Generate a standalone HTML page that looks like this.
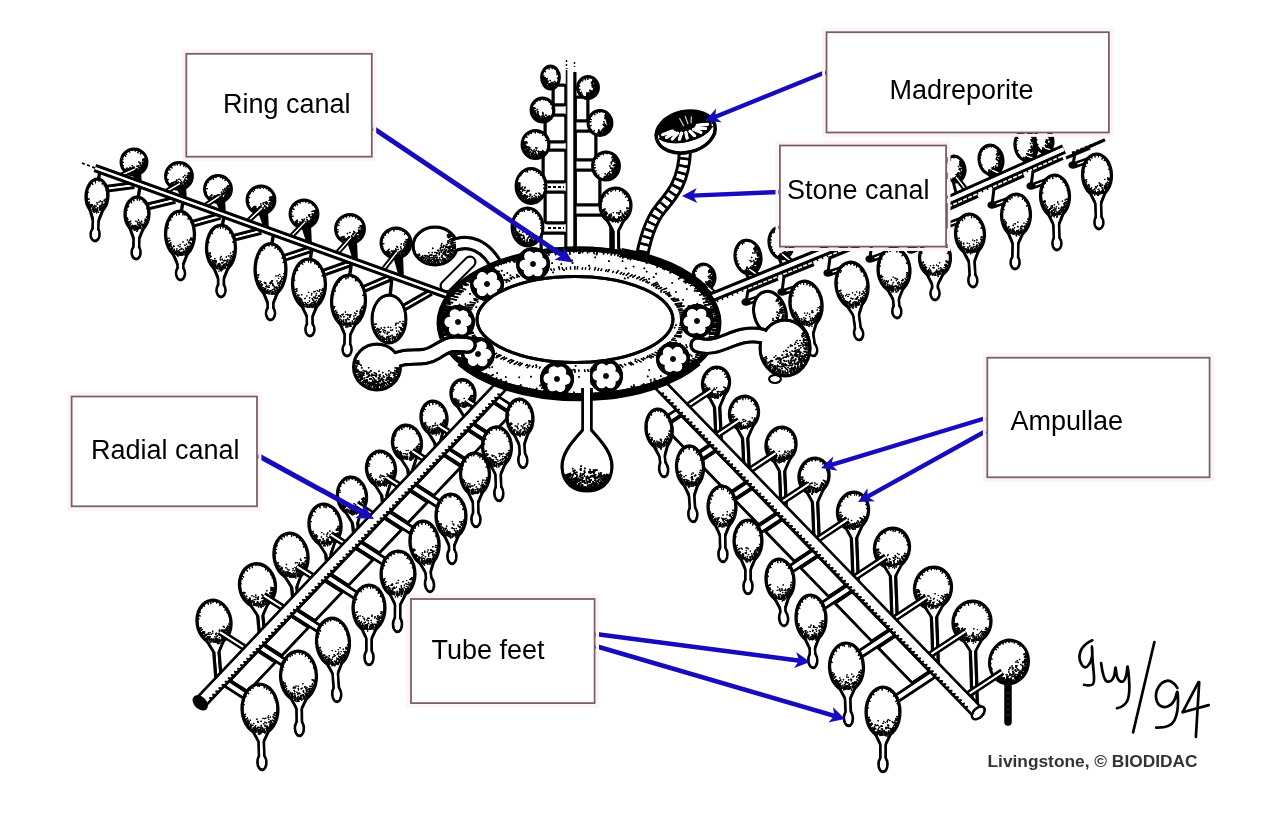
<!DOCTYPE html>
<html><head><meta charset="utf-8"><title>Water vascular system</title>
<style>
html,body{margin:0;padding:0;background:#fff;}
body{width:1270px;height:826px;overflow:hidden;font-family:"Liberation Sans",sans-serif;}
svg{display:block;font-family:"Liberation Sans",sans-serif;}
</style></head><body>
<svg width="1270" height="826" viewBox="0 0 1270 826">
<rect width="1270" height="826" fill="#fff"/>
<defs><filter id="soft" x="0" y="0" width="100%" height="100%" filterUnits="userSpaceOnUse" color-interpolation-filters="sRGB"><feGaussianBlur stdDeviation="0.75"/><feComponentTransfer><feFuncR type="gamma" exponent="1.9"/><feFuncG type="gamma" exponent="1.9"/><feFuncB type="gamma" exponent="1.9"/></feComponentTransfer></filter></defs>
<g id="art" filter="url(#soft)">
<rect x="553" y="85" width="13" height="20" rx="2.5" fill="#fff" stroke="#000" stroke-width="3"/>
<rect x="545" y="115" width="21" height="27" rx="2.5" fill="#fff" stroke="#000" stroke-width="3"/>
<rect x="543" y="150" width="23" height="32" rx="2.5" fill="#fff" stroke="#000" stroke-width="3"/>
<rect x="545" y="192" width="21" height="31" rx="2.5" fill="#fff" stroke="#000" stroke-width="3"/>
<rect x="541" y="233" width="25" height="21" rx="2.5" fill="#fff" stroke="#000" stroke-width="3"/>
<rect x="575" y="97" width="13" height="24" rx="2.5" fill="#fff" stroke="#000" stroke-width="3"/>
<rect x="575" y="131" width="21" height="29" rx="2.5" fill="#fff" stroke="#000" stroke-width="3"/>
<rect x="575" y="170" width="25" height="35" rx="2.5" fill="#fff" stroke="#000" stroke-width="3"/>
<rect x="575" y="215" width="36" height="37" rx="2.5" fill="#fff" stroke="#000" stroke-width="3"/>
<path d="M548 187h16M548 228h16" stroke="#000" stroke-width="2" stroke-dasharray="3 2"/>
<ellipse cx="550.5" cy="77.5" rx="9" ry="11.5" fill="#fff" stroke="#000" stroke-width="2.9"/>
<path d="M544.5 78.2h.1M549.4 83.7h.1M546.6 79.9h.1M547.8 83.5h.1M546.4 80.9h.1M547.7 83.1h.1M546.9 78.9h.1M547.9 81.2h.1M554.4 84.6h.1M545.8 82.7h.1M555.4 83.3h.1M547.1 81.2h.1M549.8 85.8h.1M552.2 85.1h.1M550.2 80.4h.1M544.7 80.6h.1M546 83h.1M549.6 84.6h.1M547.4 82.7h.1M551.4 82.4h.1M553.3 84.7h.1M547.1 78.6h.1M552.9 82.9h.1" stroke="#000" stroke-width="1.5" stroke-linecap="round" fill="none"/>
<path d="M557.3 84.2L554.2 81.1M556.1 85.8L554.6 83.5M554.9 86.9L552.5 81.9M554.2 87.4L552.2 82.2M552.8 88.1L551.9 84M551.1 88.5L550.8 83.1M550.4 88.5L550.4 84.5M548.8 88.3L549.4 84.7M547.8 87.9L548.7 84.5M546.2 87L547.2 84.8M545.2 86.1L547.2 83M544.5 85.4L546.5 82.7M543.4 83.6L546.2 81.2M543 82.6L547 79.8M542.3 80.3L546.7 78.8M542.1 79.3L544.7 78.8M542 77.7L546 77.6M542.1 75.8L544.4 76.2" stroke="#000" stroke-width="1.3" fill="none"/>
<path d="M544.1 70.2L545.8 72.1M547.1 67.4L547.6 69M548.8 66.7L549.2 69.5M552.5 66.8L552 69.2M554.4 67.8L554 69M557.4 71.2L556.2 72.3M558.3 73.3L556.3 74.4M559 78.3L556.9 78.1" stroke="#000" stroke-width="1.1" fill="none"/>
<ellipse cx="542.5" cy="110" rx="11.5" ry="12" fill="#fff" stroke="#000" stroke-width="2.9"/>
<path d="M542 118.7h.1M539.5 116.6h.1M543.1 115h.1M546.6 117.6h.1M535.8 114.5h.1M542.6 116.7h.1M538 114.6h.1M546 115.3h.1M537.8 114.9h.1M541.7 116.4h.1M545 118.3h.1M537.9 113.1h.1M537.9 111.4h.1M542.6 112.6h.1M546.5 117.9h.1M540.4 118.5h.1M542.9 113.6h.1M537.8 112.7h.1M545.2 117.7h.1M537.9 113.3h.1M536.8 115.9h.1M538.9 116.4h.1M537.2 115.2h.1M534.1 107.9h.1M533.6 108.2h.1M547.2 118h.1M537.4 109.5h.1M536.5 116.1h.1M536.7 115.1h.1M545.8 115h.1" stroke="#000" stroke-width="1.5" stroke-linecap="round" fill="none"/>
<path d="M551 117.3L548.8 115.5M549.9 118.5L547.6 115.9M548.9 119.4L546.8 116.3M547.5 120.2L546.1 117.4M546.6 120.7L545.4 117.6M545.3 121.1L543.9 115.7M543.5 121.5L543.2 117.8M542.2 121.5L542.3 115.5M540.6 121.3L541.2 118.1M538.9 120.9L540.4 116.4M537.5 120.2L538.7 117.7M536.6 119.7L539.3 115.2M535.2 118.6L538.8 114.3M534.6 118L537 115.6M533.6 116.8L536.1 114.9M532.5 114.8L536.5 112.9M532 113.4L535.5 112.3M531.7 112L535.5 111.3M531.5 111L536.5 110.6M531.6 108.9L534.3 109.2M531.7 107.7L536.1 108.6" stroke="#000" stroke-width="1.3" fill="none"/>
<path d="M533.9 102.8L535.3 104M536.3 100.5L537.2 101.8M539.6 98.9L540.2 101.1M543.8 98.6L543.6 100.2M545.9 99.1L545.3 100.8M550 101.5L548.9 102.7M551.7 103.7L550.4 104.5M553.3 107.9L551.2 108.3M553.5 109.9L552.1 109.9" stroke="#000" stroke-width="1.1" fill="none"/>
<ellipse cx="535.5" cy="144.5" rx="13.5" ry="14" fill="#fff" stroke="#000" stroke-width="2.9"/>
<path d="M533.6 153.2h.1M533.3 153.7h.1M536.7 147.9h.1M526 147.4h.1M536 154.7h.1M535.3 151.8h.1M532.9 154.2h.1M535.3 155.5h.1M527.8 151.4h.1M530.3 152.1h.1M535.6 154.6h.1M529.8 147.8h.1M527.4 147.3h.1M535.8 154h.1M538.7 153.4h.1M525 145.3h.1M536.7 155.1h.1M528.6 147.1h.1M531.7 150.5h.1M531.5 153.6h.1M534.1 149.9h.1M525.5 146.7h.1M542.8 152.2h.1M535.6 152.9h.1M528.6 150.8h.1M540 151.4h.1M530.9 149.4h.1M526.3 141.7h.1M533.2 151.5h.1M527.3 147h.1M541 154.3h.1M529.3 149.8h.1M533.7 151.3h.1M539.5 154.8h.1M535.3 155.9h.1M535.8 147.8h.1M528.8 148.9h.1M541.9 151.9h.1M538.7 152.1h.1M532.2 152.9h.1M538 151.3h.1M536.2 150.3h.1" stroke="#000" stroke-width="1.5" stroke-linecap="round" fill="none"/>
<path d="M545.4 153.2L542.2 150.3M544.8 153.9L542.5 151.6M543.8 154.9L541.2 151.7M542.6 155.8L540.4 152.3M541.2 156.6L539.4 152.8M539.5 157.3L538.2 153.2M537.8 157.8L537.3 155.3M536.3 158L536 153.8M535 158L535.2 153.2M533.3 157.8L533.9 154M532.2 157.5L533.6 151.9M531 157.2L532.6 152.7M529.2 156.3L530.4 154M527.9 155.5L530.7 151.5M526.5 154.3L529 151.6M525.5 153.1L528.7 150.4M524.8 152.2L529.3 149M524.2 151.2L528.4 148.7M523.4 149.3L526.7 148M522.8 147.6L526.4 146.7M522.6 146.4L526.8 145.8M522.5 144.6L525.6 144.6M522.5 143.3L526.4 143.7M522.8 141.7L527.9 142.8" stroke="#000" stroke-width="1.3" fill="none"/>
<path d="M525.4 136L527.4 137.7M528 133.5L529.2 135.2M530.6 132L531.4 134M535.2 131L535.3 133.4M538.1 131.3L537.8 133.1M540.4 132L539.7 133.6M543.7 134L542.2 135.8M546.2 136.8L545.1 137.6M547.7 139.7L545.1 140.7M548.4 142.7L547.1 142.9M548.5 145.6L547.2 145.5" stroke="#000" stroke-width="1.1" fill="none"/>
<ellipse cx="531" cy="186" rx="15" ry="17.5" fill="#fff" stroke="#000" stroke-width="2.9"/>
<path d="M529.2 190.4h.1M533 199h.1M533.4 199.6h.1M527.4 190.5h.1M533.6 198.3h.1M533.1 198.3h.1M524.8 194.7h.1M519.3 187.8h.1M529.9 199.9h.1M519.7 189h.1M524.7 188h.1M526.8 196h.1M525 196.5h.1M529.3 198.8h.1M523.4 189.5h.1M521.1 192.7h.1M524.5 195.8h.1M520.5 192.2h.1M521.6 188.8h.1M521.8 188.3h.1M522.3 196.1h.1M531.5 200.2h.1M534.5 195.6h.1M525.1 187.3h.1M529.3 200h.1M533.5 200.1h.1M532.2 196.5h.1M527.2 197.2h.1M527.2 191.4h.1M530.4 194.8h.1M538.4 197.6h.1M538.5 196.8h.1M521.8 188.3h.1M526.4 196.6h.1M519.2 188h.1M527.1 199.9h.1M522.7 190h.1M524.9 190.6h.1M522.4 186.7h.1M526.4 192.7h.1M530.6 195.1h.1M529.5 196.4h.1M527.8 200.2h.1M524.8 198.4h.1M523.5 197.5h.1M520.8 187.9h.1M528.7 190.9h.1M524.5 196.7h.1M536 193.4h.1M532.2 200.6h.1M522.4 191.2h.1M530 194.3h.1M520.2 192.7h.1M522.8 190.3h.1M538.4 196.2h.1M527.6 196.3h.1M519.1 188.1h.1M520.1 191.8h.1" stroke="#000" stroke-width="1.5" stroke-linecap="round" fill="none"/>
<path d="M542.4 196.5L538.5 192.8M541.7 197.5L540 195.7M540.5 198.8L538.7 196.4M539.2 200L538 197.9M537.9 200.9L535.7 196.1M536.7 201.6L535.4 198M535.8 202L534.5 197.5M534.3 202.6L533.5 198.7M533.1 202.8L532.6 198.8M531.4 203L531.3 197.6M529.8 202.9L530 199.9M528.9 202.8L529.4 198.8M527.3 202.4L528.1 198.9M526.3 202.1L527.1 199.4M524.9 201.4L526.4 197.7M523.2 200.3L525.8 195.5M522.1 199.4L525.2 194.8M521 198.3L523.8 194.9M520.1 197.3L521.9 195.5M519.3 196.1L522.5 193.3M518.7 195L522 192.6M517.8 193L521 191.3M517.4 191.8L520.2 190.6M517 190.5L521.6 189M516.8 189.2L519.4 188.6M516.5 187L520 186.7M516.5 185.9L520.6 185.9M516.6 184L520.4 184.5M516.8 182.3L520.5 183.3" stroke="#000" stroke-width="1.3" fill="none"/>
<path d="M520 174.9L521.3 176.2M521.6 173L522.5 174.2M525.5 170.3L526.2 172.3M527.1 169.6L527.7 172.3M530.4 169L530.5 170.4M534 169.4L533.7 171M536.9 170.5L536.1 172.5M539.2 172L538.1 173.8M541.4 174.2L540.1 175.7M543.8 177.9L542.7 178.6M544.8 180.9L543.7 181.3M545.4 184.6L543.1 184.8M545.3 188.5L543.2 188.1" stroke="#000" stroke-width="1.1" fill="none"/>
<ellipse cx="527.5" cy="227" rx="15.5" ry="19" fill="#fff" stroke="#000" stroke-width="2.9"/>
<path d="M530.8 239.7h.1M518.5 235.3h.1M518.1 227.1h.1M518.9 237.8h.1M528.3 242.5h.1M514.9 229.1h.1M535.5 239.7h.1M523.2 241.3h.1M523.6 236.3h.1M527.1 240.6h.1M530.3 239.4h.1M519.3 235h.1M519.1 228.3h.1M531.3 241.4h.1M522.8 235.5h.1M515.5 230.9h.1M517.9 236.1h.1M521 234.2h.1M521.5 227.8h.1M526.8 232.3h.1M520.2 235.7h.1M515.6 227.1h.1M515.6 229.2h.1M519.5 235.8h.1M521.2 235.6h.1M529.6 240h.1M518.1 235h.1M523.2 241.2h.1M518.8 233.3h.1M515.2 227.3h.1M528.8 233.5h.1M536.8 236.7h.1M522.8 232h.1M526.8 234.5h.1M528.2 237.7h.1M518.7 237.9h.1M531.3 238.1h.1M524.3 238.3h.1M516.4 223.4h.1M518.8 234.4h.1M516.5 231.6h.1M529.6 241.4h.1M527.8 238h.1M525.3 229.9h.1M520.9 239.2h.1M522.2 239.5h.1M515.4 228.3h.1M523.9 237.2h.1M527.5 232.9h.1M521 240.8h.1M522.8 238.6h.1M516.5 225.8h.1M523.4 235.5h.1M527.1 239.4h.1M521.3 240.4h.1M514.9 230.4h.1M523.3 242.1h.1M518.8 236.8h.1M528.9 236.8h.1M516.6 232h.1M530.1 236.7h.1M515.1 231h.1M519.4 231.3h.1M534.1 238.3h.1M520.4 226.7h.1" stroke="#000" stroke-width="1.5" stroke-linecap="round" fill="none"/>
<path d="M539.2 238.6L536.1 235.4M538.5 239.6L535.4 236M537.3 241L534.7 237.3M536.1 242.1L533.6 237.7M535.3 242.8L534.2 240.4M534 243.7L532.1 238.8M533 244.2L531.6 240M531.3 244.9L530.2 239.8M530.7 245.1L529.9 241M529.3 245.4L529 242.5M527.3 245.5L527.4 241.5M526.1 245.4L526.4 241.3M525 245.2L525.5 242M523.7 244.9L524.8 239.6M522.2 244.3L523.2 241M521.3 243.9L522.5 240.7M519.7 242.8L521.4 239.3M518.6 241.9L521.2 237.6M517.9 241.2L520.4 237.4M516.9 240.1L520 236.3M515.9 238.8L518.1 236.6M514.8 236.8L517.4 234.8M514.4 236L518.4 233.3M513.7 234.2L517.9 232M513.3 232.8L516.5 231.5M512.8 230.7L516.2 229.8M512.6 229L515.1 228.7M512.5 227.5L515 227.4M512.5 226.1L514.5 226.2M512.6 224.8L517.3 225.5M512.9 222.9L517.1 224.1" stroke="#000" stroke-width="1.3" fill="none"/>
<path d="M515.7 215.5L516.9 216.7M517.8 212.9L518.9 214.6M521.8 209.9L522.4 211.9M523.9 209L524.5 211.8M528.1 208.5L528 210.9M529.8 208.7L529.5 211M533.5 210.1L532.6 212.7M536.2 211.9L535.1 213.9M538.9 215L537.8 216.3M540.6 218.1L538.9 219.3M542.1 222.6L540.4 223.1M542.4 225.3L540 225.5M542.5 228.5L540.3 228.3" stroke="#000" stroke-width="1.1" fill="none"/>
<ellipse cx="588" cy="87.5" rx="10.5" ry="11" fill="#fff" stroke="#000" stroke-width="2.9"/>
<path d="M592.3 94.5h.1M590.5 93h.1M589.3 93.4h.1M592.4 87h.1M593.6 88.7h.1M590.3 91h.1M590.9 92.1h.1M592.1 93.3h.1M591.5 91.2h.1M593.1 85h.1M593 82.3h.1M590.2 91.5h.1M594.2 91.5h.1M592.7 87h.1M595 91.3h.1M592 85.4h.1M593.6 92.6h.1M590.1 94.4h.1M595 89.3h.1M593.5 89.9h.1M590.4 95h.1M594 88.5h.1M593.6 93.1h.1M591.9 93.8h.1M589.9 90.2h.1" stroke="#000" stroke-width="1.5" stroke-linecap="round" fill="none"/>
<path d="M594.1 79.2L591 83.4M595.3 80.3L591.5 84M596.1 81.4L594.1 82.9M596.9 82.7L592.3 85.2M597.4 83.9L592.4 85.8M597.7 85.1L592.4 86.4M598 86.9L593.3 87.2M598 88.3L594.6 88M597.7 89.9L594.4 89.1M597.4 91.1L593.8 89.7M596.4 93.2L592.6 90.6M595.5 94.4L591.8 91M594.5 95.5L590.8 90.9M593.4 96.3L591.6 93.4M592.5 96.9L590.8 93.3M591.4 97.4L590.3 94.3M589.2 97.9L588.5 92.2M588.2 98L588.1 92.8M586.4 97.9L587.2 92.3" stroke="#000" stroke-width="1.3" fill="none"/>
<path d="M581.1 95.1L582.5 93.5M579.8 93.5L581.9 92M578.2 89.7L580.4 89.2M578.1 86L580.2 86.3M579.9 81.4L581.1 82.3M581.6 79.4L583.1 81.3M584.6 77.6L585.6 80.3M587.8 77L587.9 79.9" stroke="#000" stroke-width="1.1" fill="none"/>
<ellipse cx="600" cy="123" rx="12" ry="12.5" fill="#fff" stroke="#000" stroke-width="2.9"/>
<path d="M603.8 128.2h.1M599.9 132.9h.1M603.8 121.8h.1M606.6 117.3h.1M606.1 126.6h.1M603.2 124.8h.1M608.7 124.2h.1M608.9 123.5h.1M607.1 120.2h.1M605 124.7h.1M607.4 121.3h.1M607 129.4h.1M603.2 124.8h.1M608 124.5h.1M598.2 132.7h.1M601.6 132.3h.1M606.7 126h.1M605.8 127.8h.1M604.2 129.4h.1M603.8 125.4h.1M605.4 129.9h.1M604.3 123.6h.1M608.7 125.5h.1M608.1 122.4h.1M605.3 125.2h.1M607 129.7h.1M608.2 121.1h.1M607.7 128.4h.1M605.1 129.6h.1M606.4 119.8h.1M604.9 126.7h.1M605.7 128.9h.1M607.6 126.5h.1" stroke="#000" stroke-width="1.5" stroke-linecap="round" fill="none"/>
<path d="M606.7 113.2L604.6 116.3M608.2 114.6L604.8 118M608.7 115.1L604.6 118.9M609.5 116.3L605.9 118.8M610.4 117.9L606.1 120M610.9 119.3L608.4 120.2M611.3 120.9L606.3 121.8M611.5 122.6L607.9 122.8M611.5 123.7L606.6 123.4M611.2 125.7L608.2 125M610.8 127.2L605.4 125.1M610.3 128.2L607 126.6M609.5 129.8L604.9 126.5M608.9 130.6L606.3 128.4M607.8 131.8L604.5 128.1M606.8 132.7L604.3 129.1M605.3 133.6L603.2 129.4M604.3 134.1L602.2 128.7M602.1 134.8L601.3 130.4M600.9 135L600.6 131.8M599.3 135L599.6 130.6M598 134.8L598.9 129.4" stroke="#000" stroke-width="1.3" fill="none"/>
<path d="M592.9 132.5L594.6 130.2M590.7 130.1L591.7 129.3M588.9 126.1L591.5 125.4M588.6 121.6L591.4 121.9M589.2 118.8L591.8 119.8M591 115.5L592.2 116.4M593.8 112.9L595.2 115.1M596.6 111.5L597.3 113.7M599.8 111L599.8 112.7" stroke="#000" stroke-width="1.1" fill="none"/>
<ellipse cx="606" cy="166" rx="13.5" ry="14" fill="#fff" stroke="#000" stroke-width="2.9"/>
<path d="M611.7 171.1h.1M616.9 165.7h.1M614 171.5h.1M609 176.1h.1M609.7 171.6h.1M612.7 168.2h.1M615.1 162.4h.1M615.9 169.3h.1M613.4 157.8h.1M615.8 164.4h.1M611.7 174.6h.1M611.8 168.3h.1M612.9 172.9h.1M611.3 163.8h.1M612.6 173.7h.1M614.2 165.7h.1M615.4 168.1h.1M607.7 173.4h.1M616.4 165.3h.1M611.3 162.2h.1M615.3 168.7h.1M612.2 169.1h.1M605.2 173.8h.1M607.4 176.8h.1M607 174.7h.1M613.7 170.1h.1M609.9 174h.1M615.4 170.9h.1M609.9 165.9h.1M610.5 167.9h.1M614.4 168.1h.1M609.3 176.7h.1M615.8 166.3h.1M613.3 165.6h.1M612.5 169.7h.1M616.6 166.6h.1M612.8 171.7h.1M610.9 175.5h.1M614.5 164.5h.1M614.2 159.8h.1M613.1 160.5h.1M608.9 172.7h.1" stroke="#000" stroke-width="1.5" stroke-linecap="round" fill="none"/>
<path d="M613.7 155.1L611.5 158.2M615 156.3L613.1 158.3M615.7 157L612 160.4M616.7 158.4L612 161.8M617.4 159.5L613.9 161.4M618.1 161L615.8 161.9M618.5 162.4L615.9 163.1M618.9 164.1L615 164.7M619 165.8L615.6 165.9M618.9 167.6L614.8 167.1M618.6 169.4L615.7 168.6M618.3 170.5L614.4 169.1M617.7 171.8L612.9 169.4M617.1 173L612.5 170.1M616.1 174.4L613.4 172.1M615 175.8L612 172.5M614 176.6L612.4 174.4M612.3 177.8L610.5 174.5M611.6 178.2L609.6 173.8M609.9 178.9L608.8 175.4M608.6 179.2L607.5 173.9M607.1 179.5L606.7 175.5M605 179.5L605.3 175.7M604 179.3L604.4 176.3" stroke="#000" stroke-width="1.3" fill="none"/>
<path d="M597.7 176.4L599.2 174.5M595.7 174.2L597.2 173M594.2 171.7L596.5 170.6M593.1 168L595.7 167.6M593.1 164.7L595.5 165M593.6 162.1L595.1 162.5M596 157.4L597.8 158.9M597.9 155.4L599.2 157.1M600.4 153.8L601.1 155.3M602.9 152.9L603.5 155.2M607.2 152.6L607.1 154.3" stroke="#000" stroke-width="1.1" fill="none"/>
<ellipse cx="615.5" cy="205.5" rx="17.1" ry="19.1" fill="#000" transform="rotate(-0.6 615.5 205.5)"/>
<polygon points="600,210 611.5,231 620,231 631,209.7" fill="#000"/>
<line x1="615.7" y1="219.5" x2="616" y2="251.5" stroke="#000" stroke-width="8.5" stroke-linecap="butt"/>
<ellipse cx="616" cy="251.5" rx="5.5" ry="5.5" fill="#000" transform="rotate(-0.6 616 251.5)"/>
<ellipse cx="615.5" cy="205.5" rx="13.9" ry="15.9" fill="#fff" transform="rotate(-0.6 615.5 205.5)"/>
<polygon points="603.1,210 614.6,231 616.9,231 627.9,209.7" fill="#fff"/>
<line x1="615.7" y1="219.5" x2="616" y2="251.5" stroke="#fff" stroke-width="2.6" stroke-linecap="butt"/>
<ellipse cx="616" cy="251.5" rx="3.1" ry="2.9" fill="#fff" transform="rotate(-0.6 616 251.5)"/>
<path d="M614.2 219.1h.1M609.8 219.6h.1M620.3 210.7h.1M623.4 216.3h.1M616.9 213h.1M621.8 219.1h.1M621.8 220.3h.1M616.9 212.7h.1M624.7 217.8h.1M614.1 217.4h.1M618.8 213.5h.1M619.2 214.2h.1M611.1 214h.1M613 217.1h.1M614.4 220.4h.1M614.1 217.2h.1M613.3 212.6h.1M620.4 212.3h.1M620.5 216.6h.1M609.8 218h.1M611.4 219.7h.1M605.6 215.9h.1M623.3 215.3h.1M620.8 211.9h.1M618.8 212.6h.1M611.4 215.7h.1M619.2 214.4h.1M618.6 218.5h.1M620.3 220.8h.1M614.3 218.1h.1M613.5 219.7h.1M613.7 219.3h.1M621.4 218.2h.1M606 212.8h.1M610.5 217.2h.1M617.3 221.4h.1M619.3 218.2h.1M617.9 222.6h.1M615.5 222.1h.1M610.7 215.5h.1M622.4 213.5h.1M610.9 215.1h.1M609.2 215.5h.1M606.2 217.8h.1M611.9 220.6h.1M609.3 214.5h.1M621 217.8h.1M624.7 213.7h.1M612.7 221.7h.1" stroke="#000" stroke-width="1.4" stroke-linecap="round" fill="none"/>
<path d="M629.7 208.7L626.2 207.9M629.2 211L626.6 210M628.8 212.2L626.7 211.1M627.9 214.1L624.4 211.7M627.1 215.4L624.6 213.2M625.5 217.5L623.2 214.8M624.7 218.3L621.9 214.5M622.9 219.7L621.3 216.8M622.1 220.2L620.4 216.4M619.9 221.2L618.5 216.3M618.4 221.7L617.8 218.5M616.8 221.9L616.6 218.8M615.2 222L615.3 218.3M613.1 221.8L613.8 216.7M611.4 221.3L612.3 217.7M609.8 220.7L610.7 218.2M608.3 219.8L610.2 216.1M607 218.8L608.8 215.9M605.6 217.5L607 215.8M604.5 216.2L607.7 213.1M603.7 215.1L607.2 212.3M602.9 213.7L606.4 211.4M602.1 211.7L605 210.4M601.6 210.2L605.6 208.8" stroke="#000" stroke-width="1.3" fill="none"/>
<path d="M601.5 201.1L602.7 201.5M603 197.1L604.2 197.9M604.2 195.1L605.6 196.3M607 192.1L608.4 194.4M610.6 190L611.3 192.2M612.7 189.3L612.9 190.7M615.5 189L615.5 191.2M619.8 189.8L619.3 191.7M623.6 191.8L622.6 193.5M625.2 193.3L624.1 194.8M627.2 195.8L625.2 197.5M629.2 200.1L627.4 200.8" stroke="#000" stroke-width="1.1" fill="none"/>
<rect x="566" y="68" width="9" height="188" fill="#fff"/>
<path d="M575 72V256" stroke="#000" stroke-width="3"/>
<path d="M566.5 70V256" stroke="#444" stroke-width="1.6"/>
<path d="M566.5 60v9M574.5 62v5" stroke="#000" stroke-width="1.4" stroke-dasharray="2 2"/>
<path d="M685 150 C 684 182, 672 195, 661 208 S 644 240, 640 268" fill="none" stroke="#000" stroke-width="14"/>
<path d="M685 150 C 684 182, 672 195, 661 208 S 644 240, 640 268" fill="none" stroke="#fff" stroke-width="8.4"/>
<path d="M685 150 C 684 182, 672 195, 661 208 S 644 240, 640 268" fill="none" stroke="#000" stroke-width="10" stroke-dasharray="2.4 5"/>
<g transform="rotate(-13 685.5 131)">
<ellipse cx="685.5" cy="132" rx="30" ry="20.5" fill="#fff" stroke="#000" stroke-width="3.4"/>
<ellipse cx="685.5" cy="127" rx="27.5" ry="14.5" fill="#000"/>
<path d="M698.2 128.1L708.5 129.4M696.6 129.9L705.5 133M693.7 131.3L700.3 135.9M689.8 132.2L693.3 137.8M685.5 132.5L685.5 138.5M681.2 132.2L677.7 137.8M677.3 131.3L670.7 135.9M674.4 129.9L665.5 133M672.8 128.1L662.5 129.4" stroke="#fff" stroke-width="3.6" stroke-linecap="round"/>
<path d="M682.5 117l2.5 9M688.5 116l1 9M694.5 118l-2 7" stroke="#ddd" stroke-width="1.6"/>
<path d="M658.5 132 C670.5 144,700.5 144,712.5 132" fill="none" stroke="#000" stroke-width="2.2"/>
</g>
<path d="M450 247 C468 238, 486 244, 499 270" fill="none" stroke="#000" stroke-width="14.5" stroke-linecap="round"/>
<ellipse cx="435" cy="246" rx="22" ry="19" fill="#fff" stroke="#000" stroke-width="3"/>
<path d="M450 247 C468 238, 486 244, 499 270" fill="none" stroke="#fff" stroke-width="8.5" stroke-linecap="round"/>
<path d="M441.4 252.1h.1M447 244.5h.1M429.2 255.8h.1M441.5 247h.1M432.9 257.8h.1M445.8 247.6h.1M445.4 253.2h.1M433.9 259.8h.1M431.1 260.6h.1M445.4 254h.1M451.5 242.3h.1M433.9 256h.1M441.7 243.6h.1M451.1 244h.1M449.8 246.4h.1M434.4 258.1h.1M443.7 254.3h.1M429.1 256.4h.1M443.5 253.9h.1M445.6 246.5h.1M451 250.7h.1M424.9 255.5h.1M441.3 245.2h.1M451.4 249.7h.1M428.6 260.2h.1M431.1 254.8h.1M432.2 259.5h.1M453.2 246.8h.1M449.6 241.5h.1M446 255.2h.1M449.6 250.9h.1M448.3 252.1h.1M442.1 255.4h.1M428.5 259.9h.1M436.4 255.2h.1M446.2 255.5h.1M433.5 256h.1M449.5 241.3h.1M431.3 257.6h.1M446.8 246.9h.1M441.6 250.5h.1M442.3 259.8h.1M450.2 253.9h.1M445.7 251.8h.1M443.8 245.6h.1M429.8 258.2h.1M450.1 252.9h.1M428.8 252.8h.1M443.9 252.1h.1M423.1 257.5h.1M448.4 256.1h.1M448.1 240.8h.1M452.7 248.9h.1M436.3 260.6h.1M437.9 259.9h.1M446.4 244.7h.1M441.5 257h.1M437.2 257.2h.1M446.7 257.6h.1M444.7 249.2h.1M444.4 251.4h.1M451.7 244h.1M440 259.8h.1M448.5 243.2h.1M446.8 255.3h.1M445.3 255.6h.1M434.9 252.5h.1M444.3 252.5h.1M427.8 257.1h.1M443.2 253.4h.1M448.9 250.2h.1M437.9 250.4h.1M423.6 257.5h.1M447.6 242.2h.1M435.9 257.3h.1M429.3 258.4h.1M428.9 260.3h.1M436.5 252.9h.1M432.2 252.6h.1M434.8 260.1h.1M437.3 261h.1M432.7 248.4h.1M440.4 249h.1M452.4 247.1h.1M431.7 255.1h.1M449.8 241.4h.1M433.9 258.5h.1M449.2 248.4h.1M443.5 246.3h.1M444.3 259h.1M435.2 261h.1M447.6 252.1h.1M450.1 248h.1M439.3 254.7h.1M448.5 251.7h.1M429.9 255.2h.1M440.3 248.3h.1M437.1 259.4h.1M438.7 250.9h.1M442.9 259.6h.1M433.6 255.9h.1M439.5 258h.1M441 250.7h.1M449 247.4h.1M436.5 258.9h.1M442.7 249.9h.1M448.4 248.2h.1M426.8 255.8h.1M439 253.7h.1M447.7 247.4h.1M452.1 250.7h.1M445.6 250.7h.1M443.2 247.5h.1M446.6 250.1h.1M448.6 255h.1M448.5 247.1h.1M435.3 255.6h.1M429.8 259.7h.1M437.2 253h.1M425.5 255.9h.1M452 242h.1M449.2 249.7h.1M449.1 248.4h.1M434 260.1h.1M452.4 245.6h.1M439.5 252.8h.1M452.1 240.8h.1M441.8 256.9h.1M440.9 247.3h.1M437 260.4h.1" stroke="#000" stroke-width="1.6" stroke-linecap="round" fill="none"/>
<path d="M449.8 233.3L446.9 235.8M451.1 234.4L447.3 237.1M452.1 235.6L448.1 238M453.7 237.8L449.1 239.8M454.4 239L450.9 240.3M454.9 240.2L452.2 241M455.6 242.3L450.1 243.3M455.9 244.4L452.8 244.6M456 246L450.7 246M455.9 247.5L450.4 247.1M455.7 248.9L452.1 248.4M455.2 250.9L450.3 249.8M454.6 252.5L451.3 251.4M453.5 254.5L450.1 252.9M452.7 255.6L450 254.1M451.5 257.1L447.6 254.5M450.3 258.3L446.8 255.5M448.7 259.6L447.1 258M446.6 261L444.7 258.5M445.3 261.7L442.5 257.3M443.9 262.3L442.7 260.2M442 263L441 260.5M439.3 263.6L438.4 260M438.3 263.8L437.7 260.9M435.7 264L435.6 261.3M433.9 264L434.2 259.1M431.7 263.8L432.2 261M429.5 263.4L430.3 261M427.7 262.9L429.3 259M426.3 262.4L428.1 258.9M424.2 261.5L426.9 257.7M422.2 260.3L425.7 256.4M420.7 259.2L422.8 257.2M419.6 258.3L423.3 255.4M417.9 256.4L420.1 255.1M417 255.3L420 253.7" stroke="#000" stroke-width="1.3" fill="none"/>
<path d="M446 286 L470 262" fill="none" stroke="#000" stroke-width="13" stroke-linecap="round" stroke-linejoin="round"/>
<path d="M446 286 L470 262" fill="none" stroke="#fff" stroke-width="9" stroke-linecap="round" stroke-linejoin="round"/>
<ellipse cx="134" cy="162" rx="13" ry="13" fill="#fff" stroke="#000" stroke-width="2.9"/>
<path d="M133.3 170.2h.1M139.4 167.8h.1M133.8 172.2h.1M142.7 163.4h.1M139.9 163.6h.1M144.1 163.6h.1M138.3 166.1h.1M132.8 172.3h.1M140.6 168.6h.1M141.3 168.3h.1M137.3 170.4h.1M138.9 162.1h.1M135.9 170.6h.1M140.7 169.6h.1M136.9 166.2h.1M133.8 167.6h.1M142.1 166.8h.1M142.4 162.3h.1M136.8 172.1h.1M139 170.7h.1M139.6 170.3h.1M140.9 167.5h.1M140.4 163h.1M127.7 169.7h.1M137.3 171.4h.1M134.3 167.9h.1M129.9 167.4h.1M134.3 167.4h.1M142.6 165.6h.1M138.5 167h.1M137.1 171h.1M132.2 165.7h.1M135.3 172h.1M134.1 167.6h.1M136.5 169.5h.1M140.2 165.3h.1M128.6 169h.1" stroke="#000" stroke-width="1.5" stroke-linecap="round" fill="none"/>
<path d="M146 158.5L142.1 159.6M146.3 159.8L142.2 160.5M146.5 161L143.7 161.2M146.5 162.7L143.4 162.5M146.2 164.7L142.5 163.9M145.8 166.1L141.6 164.7M145.2 167.6L140.1 165.1M144.5 168.7L141.1 166.5M143.9 169.6L140.4 166.9M142.9 170.8L139 167M141.9 171.7L138.9 168M140.5 172.7L138.4 169.3M138.9 173.5L136.6 168M137.1 174.1L136.2 170.5M135.7 174.4L134.9 168.6M134.5 174.5L134.4 170M133.3 174.5L133.6 169.2M131.6 174.3L132.6 169.2M129.7 173.7L131.3 169.3M128.5 173.2L130.5 169.3M127.6 172.8L129.7 169.2M126.4 171.9L128.3 169.5M124.7 170.4L127.5 167.8" stroke="#000" stroke-width="1.3" fill="none"/>
<path d="M122.1 165.8L124 165.2M121.5 162.5L123.8 162.4M121.9 158.7L123.5 159.2M123.8 154.8L126.1 156.5M125.2 153.1L126.9 154.9M129 150.5L129.9 152.5M132 149.7L132.2 150.9M135.4 149.6L135.1 151.7M138.7 150.4L137.6 153.2M141.7 152.2L140 154.3" stroke="#000" stroke-width="1.1" fill="none"/>
<path d="M131 173 L141 172 L142 185 L137 183.2Z" fill="#000"/>
<path d="M121 175.4 L135 169" fill="none" stroke="#000" stroke-width="5.4" stroke-linecap="butt" stroke-linejoin="round"/>
<path d="M121 175.4 L135 169" fill="none" stroke="#fff" stroke-width="1.8" stroke-linecap="butt" stroke-linejoin="round"/>
<ellipse cx="179" cy="176" rx="13.5" ry="13.5" fill="#fff" stroke="#000" stroke-width="2.9"/>
<path d="M186.1 182.8h.1M184.8 175.4h.1M177.4 183.8h.1M189.6 177.8h.1M189 179.7h.1M181.5 181.7h.1M187.7 178.7h.1M183.3 182.4h.1M174.9 182h.1M179.9 183.8h.1M189.1 180.2h.1M174.9 185.7h.1M178.6 183.8h.1M180.5 180.3h.1M176.1 186.3h.1M175.9 181.2h.1M188.2 180.5h.1M184.4 182.8h.1M178.3 184.2h.1M177.2 183h.1M184.9 180.7h.1M175.8 182.5h.1M186.6 182h.1M180.4 183h.1M180 185.9h.1M188 177.7h.1M184.1 181h.1M187.7 181.1h.1M178.9 179.3h.1M188.1 176.6h.1M176.5 181.2h.1M185.7 177.4h.1M174.4 182.1h.1M173.3 184.1h.1M175.8 181.6h.1M186.9 177.2h.1M183.3 177.1h.1M175.6 184.7h.1M184.8 179.2h.1M176.8 180.1h.1" stroke="#000" stroke-width="1.5" stroke-linecap="round" fill="none"/>
<path d="M191.4 172.1L187.6 173.3M191.8 173.6L188.6 174.2M192 175L186.7 175.4M192 176.4L187.8 176.3M191.8 178L187.4 177.3M191.4 179.9L188.6 179M191 181.1L188.1 179.8M190.2 182.5L186 180.1M189.6 183.5L186.9 181.6M188.6 184.7L185.9 182.3M187.1 186.1L183.7 181.8M186 187L183.9 183.7M184.9 187.6L183.5 184.7M183.6 188.2L181.5 182.7M182.4 188.5L181.4 184.8M180.9 188.9L180.1 183.5M179.3 189L179.2 184.8M178 189L178.4 184.1M176.1 188.7L177.3 183.5M174.4 188.2L176.2 183.4M173.4 187.8L174.9 184.7M171.9 186.9L173.3 184.6M170.4 185.8L173.7 182M169.6 185L172.3 182.4" stroke="#000" stroke-width="1.3" fill="none"/>
<path d="M166.7 180.1L168.8 179.4M166 175L167.5 175.1M166.4 172.9L168.8 173.5M168.2 168.8L170.4 170.3M170.5 166.2L172.4 168.4M174.4 163.8L175 165.5M177.2 163.1L177.5 165.4M180.6 163.1L180.3 165.8M184.6 164.3L183.5 166.7M186.9 165.7L185.6 167.4" stroke="#000" stroke-width="1.1" fill="none"/>
<path d="M176 187.5 L186 186.5 L187 201.2 L182 199.4Z" fill="#000"/>
<path d="M166 191.6 L180 183.5" fill="none" stroke="#000" stroke-width="5.4" stroke-linecap="butt" stroke-linejoin="round"/>
<path d="M166 191.6 L180 183.5" fill="none" stroke="#fff" stroke-width="1.8" stroke-linecap="butt" stroke-linejoin="round"/>
<ellipse cx="218" cy="189" rx="13.5" ry="13.5" fill="#fff" stroke="#000" stroke-width="2.9"/>
<path d="M226.2 190.3h.1M223.5 191.8h.1M221.4 194.9h.1M223.1 198.4h.1M216.2 199.9h.1M219.3 199.2h.1M222.3 195h.1M221.8 193.3h.1M225 196.2h.1M228.3 192.8h.1M213.5 198h.1M219.6 199.3h.1M225.4 196.8h.1M224.9 188.4h.1M225.6 195h.1M218.5 194.8h.1M217.1 198.6h.1M223.9 193.9h.1M219.5 194.7h.1M228.5 190.9h.1M226.8 195.5h.1M216.1 198.2h.1M224.8 190.1h.1M222 197.5h.1M227 192.9h.1M226.8 194.8h.1M220.9 197.8h.1M226.7 191.3h.1M219.6 198.5h.1M223.1 193.9h.1M225.1 189.8h.1M227.9 193.5h.1M225.6 192.2h.1M224.3 193.1h.1M227.3 192.9h.1M225.6 191.2h.1M221.4 192.2h.1M220 197.1h.1M223 190.1h.1M225.3 192.6h.1" stroke="#000" stroke-width="1.5" stroke-linecap="round" fill="none"/>
<path d="M230.4 185.2L227.1 186.2M230.7 186.3L225.9 187.3M231 188.3L226.3 188.6M231 189.7L226.9 189.5M230.7 191.5L227 190.8M230.6 192.3L224.9 190.8M229.9 194.3L224.7 192M229.1 195.8L225.6 193.7M228.7 196.4L225.2 194M227.5 197.9L224.7 195.2M226.2 199.1L224.1 196.5M224.9 200L223.1 197.3M224.1 200.5L221.6 195.7M222.8 201.1L220.9 196.4M221.3 201.6L220.3 197.8M219.6 201.9L219.2 198.6M217.8 202L217.9 196.2M216.2 201.9L216.6 198.8M215.5 201.8L216.3 197.8M213.4 201.2L215 197M211.9 200.5L214.7 195.2M210.8 199.8L212.7 197M209.8 199.1L211.5 197M208.7 198.1L212.4 194.5" stroke="#000" stroke-width="1.3" fill="none"/>
<path d="M205.5 192.6L207 192.2M205 188.5L207.8 188.6M205.7 184.7L207.1 185.2M207.1 181.9L208.5 182.8M210.1 178.7L211.3 180.2M212.5 177.2L213.7 179.7M215.7 176.2L216.1 178.2M220.8 176.3L220.4 178M223.3 177.1L222.3 179.3M226 178.8L224.6 180.6" stroke="#000" stroke-width="1.1" fill="none"/>
<path d="M215 200.5 L225 199.5 L226 215.3 L221 213.5Z" fill="#000"/>
<path d="M205 205.7 L219 196.5" fill="none" stroke="#000" stroke-width="5.4" stroke-linecap="butt" stroke-linejoin="round"/>
<path d="M205 205.7 L219 196.5" fill="none" stroke="#fff" stroke-width="1.8" stroke-linecap="butt" stroke-linejoin="round"/>
<ellipse cx="261" cy="200" rx="14" ry="14" fill="#fff" stroke="#000" stroke-width="2.9"/>
<path d="M259.1 207.9h.1M266.4 201.8h.1M269.9 200.2h.1M262.6 210.3h.1M272.3 201.1h.1M259.4 210.2h.1M258.9 209h.1M271.2 204.9h.1M267.9 208.9h.1M263.2 203h.1M263.2 207.9h.1M266.1 207.1h.1M261.4 210.7h.1M263.3 204.2h.1M266.3 209.9h.1M255.6 206.5h.1M262.8 210h.1M254.2 208.1h.1M272.3 201.6h.1M264.6 205.5h.1M272.4 200.6h.1M259.3 207.1h.1M265.3 206.8h.1M263.9 209.5h.1M255.4 209.3h.1M266.7 204.3h.1M271.3 200.7h.1M264.9 202.4h.1M261.2 210.2h.1M264.5 206.4h.1M266.2 208.6h.1M257.4 210.9h.1M260.7 203.9h.1M259.3 210.1h.1M261.1 205.9h.1M270 206.8h.1M269 207.4h.1M268.9 204.6h.1M271.6 198.9h.1M267.4 202.8h.1M268.2 207.6h.1M265.9 203.6h.1M260.9 209.6h.1" stroke="#000" stroke-width="1.5" stroke-linecap="round" fill="none"/>
<path d="M274 196.2L269 197.7M274.3 197.6L269.8 198.4M274.4 198.8L269.6 199.2M274.5 200.6L268.6 200.3M274.4 202L270.7 201.4M273.9 203.8L269.5 202.5M273.6 204.8L269.2 203.1M273.1 206L270.3 204.6M272 207.8L268.6 205.5M271.1 209L268.7 206.8M270.2 209.8L268 207.4M268.9 211L266.2 207.2M267.9 211.6L265.9 208.3M266.7 212.2L265.3 209.3M264.9 212.9L263.9 209.5M264 213.2L263.1 209.4M262.2 213.5L261.6 207.5M260.7 213.5L260.8 209.6M258.7 213.3L259.5 208.4M257.7 213.1L258.6 209.3M256.4 212.7L257.5 209.8M254.8 212L257 207.8M253.8 211.4L256 207.9M252.5 210.5L255.4 206.9M251.3 209.4L254.8 206" stroke="#000" stroke-width="1.3" fill="none"/>
<path d="M247.8 202.9L249.7 202.4M247.5 200.3L248.9 200.2M247.8 197.2L250.1 197.7M249.5 192.9L250.8 193.7M251.9 190L253.8 192.1M253.6 188.7L254.8 190.5M257.3 187L257.8 188.8M260 186.5L260.2 189M263.7 186.8L263.3 188.7M267.1 187.9L266.4 189.2M269.8 189.7L268.6 191.1" stroke="#000" stroke-width="1.1" fill="none"/>
<path d="M258 212 L268 211 L269 230.8 L264 229Z" fill="#000"/>
<path d="M248 221.2 L262 208" fill="none" stroke="#000" stroke-width="5.4" stroke-linecap="butt" stroke-linejoin="round"/>
<path d="M248 221.2 L262 208" fill="none" stroke="#fff" stroke-width="1.8" stroke-linecap="butt" stroke-linejoin="round"/>
<ellipse cx="304" cy="214" rx="14" ry="14" fill="#fff" stroke="#000" stroke-width="2.9"/>
<path d="M311 222.7h.1M309.6 214.8h.1M299.9 221.9h.1M308.8 215.1h.1M311 222.1h.1M307.3 220.9h.1M310.7 222.3h.1M310.9 219.6h.1M306.9 219.6h.1M301.5 224.1h.1M298.5 224h.1M304.6 224.8h.1M303.7 220.2h.1M309.7 216.4h.1M308.2 221.3h.1M313.9 215.2h.1M310.4 217.3h.1M309.1 215.9h.1M313.5 218.9h.1M306.7 217.5h.1M302.6 222.2h.1M302.1 223h.1M312.6 219.4h.1M304.3 219.2h.1M313.6 220.1h.1M305.8 225.3h.1M312.3 217.8h.1M313.2 218.8h.1M304.4 225.4h.1M314.5 217.2h.1M313.4 217.9h.1M311.2 219.7h.1M311 220.7h.1M311.4 220.3h.1M302.8 220.8h.1M302.1 219.4h.1M309.2 221.4h.1M307.7 221.7h.1M312.7 218h.1M312.1 216.3h.1M305.5 221.9h.1M309.1 223.7h.1M312.2 216.9h.1" stroke="#000" stroke-width="1.5" stroke-linecap="round" fill="none"/>
<path d="M316.9 210L311.5 211.7M317.2 211.4L314.3 211.9M317.4 212.7L314.1 213M317.5 214.1L311.6 214.1M317.3 216L312.1 215.2M317.1 217.4L312.9 216.3M316.7 218.7L311.4 216.7M316 220.2L312.5 218.4M315.1 221.7L310.5 218.6M314 223.1L310.9 220.3M313.3 223.8L309.6 219.9M312.1 224.8L310.2 222.2M310.8 225.6L309 222.6M309.7 226.2L307.5 221.5M308.2 226.8L306.7 222.4M306.8 227.2L306.2 224.4M304.9 227.5L304.5 222.3M303.4 227.5L303.6 222.9M302.4 227.4L302.9 223.2M300.3 227L301.8 221.9M299.1 226.6L300.8 222.2M298.1 226.1L299.3 223.7M296.3 225.1L297.7 223M295.5 224.5L297.9 221.4M294.1 223.2L297.7 219.8" stroke="#000" stroke-width="1.3" fill="none"/>
<path d="M290.8 216.7L293.6 216.1M290.5 214.5L292.2 214.4M290.8 211.4L292.5 211.8M291.8 208.2L294.5 209.5M294.3 204.6L295.8 206.1M296.1 203.1L297.8 205.4M299.5 201.3L300.3 203.7M302.7 200.6L302.9 202.3M306 200.6L305.7 202.8M309.6 201.7L308.6 203.7M313.1 204.1L312 205.3" stroke="#000" stroke-width="1.1" fill="none"/>
<path d="M301 226 L311 225 L312 246.3 L307 244.5Z" fill="#000"/>
<path d="M291 236.7 L305 222" fill="none" stroke="#000" stroke-width="5.4" stroke-linecap="butt" stroke-linejoin="round"/>
<path d="M291 236.7 L305 222" fill="none" stroke="#fff" stroke-width="1.8" stroke-linecap="butt" stroke-linejoin="round"/>
<ellipse cx="350" cy="229" rx="14.5" ry="14.5" fill="#fff" stroke="#000" stroke-width="2.9"/>
<path d="M354.7 232.5h.1M353.4 234.6h.1M360.1 232.8h.1M351.1 240.4h.1M357.3 233.1h.1M355.3 239.7h.1M349.5 238.7h.1M349.3 237.7h.1M351.1 238.6h.1M360.9 231.8h.1M351.8 236.3h.1M343.9 236.6h.1M344.4 238.9h.1M354.6 239.3h.1M347.4 233.6h.1M354.7 239.7h.1M346 240.1h.1M345.2 239.7h.1M359 227.7h.1M356 234.3h.1M353.7 233.2h.1M361.2 228.2h.1M355 238h.1M352.6 238.6h.1M353.9 239.9h.1M348.3 239h.1M349.9 232.4h.1M354.8 237.4h.1M343.1 236.8h.1M350.2 237.9h.1M352.9 238.5h.1M359.6 234.3h.1M348.9 237.8h.1M350.2 239.1h.1M356.4 236.6h.1M352.6 234.3h.1M360.7 232.3h.1M351.6 235.7h.1M353.7 231.5h.1M356.9 233.2h.1M359.7 231.6h.1M358 233.5h.1M361.3 229.9h.1M355 236.3h.1M359.8 235.7h.1M349.4 238.9h.1" stroke="#000" stroke-width="1.5" stroke-linecap="round" fill="none"/>
<path d="M363.4 225L359.5 226.2M363.7 226.2L361.2 226.7M363.9 227.6L360.8 227.9M364 228.9L361.3 228.9M363.9 231L357.9 230.2M363.6 232.5L358.3 231.1M363.3 233.5L358.1 231.7M362.6 235L357.7 232.7M362 236.2L359 234.4M361 237.7L358.4 235.6M360.2 238.6L356.5 235.2M358.7 240L355 235.3M357.6 240.8L355.6 237.6M356.4 241.4L354.3 237.4M355 242.1L352.9 236.8M353.5 242.5L352.1 236.9M352.1 242.8L351.5 238.8M351.1 243L350.8 239.3M349.1 243L349.3 240.4M347.7 242.8L348.2 239.9M346.4 242.5L347.8 237.1M344.4 241.8L345.6 239.2M343.3 241.3L345.3 237.6M342.4 240.8L344.4 237.8M340.9 239.6L343.5 236.6M339.8 238.6L341.8 236.7" stroke="#000" stroke-width="1.3" fill="none"/>
<path d="M336.4 232.3L338.7 231.8M336 229.7L338.3 229.6M336.7 224.6L339.4 225.5M337.9 222L339.7 223.1M340.2 219L341.6 220.4M343 216.9L343.9 218.5M345.9 215.6L346.7 218M349.5 215L349.6 217.3M352.6 215.2L352.2 217.1M356.5 216.6L355.5 218.4M359 218.3L357.8 219.8" stroke="#000" stroke-width="1.1" fill="none"/>
<path d="M347 241.5 L357 240.5 L358 262.9 L353 261.1Z" fill="#000"/>
<path d="M337 253.3 L351 237.5" fill="none" stroke="#000" stroke-width="5.4" stroke-linecap="butt" stroke-linejoin="round"/>
<path d="M337 253.3 L351 237.5" fill="none" stroke="#fff" stroke-width="1.8" stroke-linecap="butt" stroke-linejoin="round"/>
<ellipse cx="396" cy="243" rx="15" ry="15" fill="#fff" stroke="#000" stroke-width="2.9"/>
<path d="M396.6 246.4h.1M404 248.6h.1M408.1 246h.1M406.5 248.9h.1M402.1 252.3h.1M396 249.9h.1M406.5 244h.1M407.7 243h.1M401.2 244.1h.1M405.8 244.6h.1M406 249.5h.1M402.9 250h.1M402.1 251.7h.1M405 251.1h.1M402.5 251h.1M396.3 252.5h.1M405.1 246.6h.1M396.9 254.5h.1M394 251h.1M397.5 247.3h.1M399.3 252h.1M404.2 251.4h.1M403.8 245.2h.1M402 253.6h.1M400.5 251h.1M397.2 253.2h.1M392.4 253.8h.1M403.9 243.7h.1M399.9 252.7h.1M400.7 247.1h.1M405.1 241.8h.1M404.7 247.4h.1M395.7 249h.1M403.2 250.2h.1M406.8 246.3h.1M398.1 249.6h.1M392 254.4h.1M392.8 251.3h.1M396 251.1h.1M401.2 248.7h.1M407.8 242.4h.1M391.5 251h.1M396.4 255.5h.1M394.5 251.6h.1M400.8 250.7h.1M398.5 255h.1M399.1 252.4h.1M398.3 253.9h.1M393 252.7h.1M406.2 248.1h.1" stroke="#000" stroke-width="1.5" stroke-linecap="round" fill="none"/>
<path d="M409.8 238.6L405.4 240M410.1 239.8L406.7 240.6M410.4 241.7L404.7 242.2M410.5 243.2L407.3 243.2M410.4 245L405.1 244.3M410.2 245.9L406.5 245.1M409.9 247.1L404.9 245.7M409.3 248.7L404.4 246.6M408.4 250.4L404 247.8M407.7 251.6L405 249.6M407.1 252.4L403.6 249.4M406 253.5L403.1 250.3M404.4 254.8L402.6 252.4M403.4 255.5L401.1 251.7M402.3 256.1L400.9 253.2M400.5 256.8L399.5 253.8M399.4 257.1L398.7 253.9M397.3 257.4L396.8 251.8M396.5 257.5L396.3 253M394.7 257.4L395 254.8M393.4 257.3L394.3 252.6M392.1 257L393.7 251.3M390.5 256.4L391.9 253M388.6 255.5L390.1 252.9M388 255.1L390.3 251.6M386.6 254.1L389 251.3M385.4 252.9L389.6 248.9" stroke="#000" stroke-width="1.3" fill="none"/>
<path d="M382 246.9L383.3 246.6M381.5 243.7L384.3 243.6M381.8 240.2L383.1 240.5M382.6 237.3L384.2 238M384.4 234.3L385.9 235.3M387.3 231.4L388.8 233.4M389 230.3L389.8 231.6M393.7 228.7L394.1 231.4M397 228.5L396.9 230.1M400.1 229.1L399.7 230.4M403.2 230.4L402.4 231.8M406.1 232.6L404.2 234.6" stroke="#000" stroke-width="1.1" fill="none"/>
<path d="M393 256 L403 255 L404 279.5 L399 277.7Z" fill="#000"/>
<path d="M383 269.9 L397 252" fill="none" stroke="#000" stroke-width="5.4" stroke-linecap="butt" stroke-linejoin="round"/>
<path d="M383 269.9 L397 252" fill="none" stroke="#fff" stroke-width="1.8" stroke-linecap="butt" stroke-linejoin="round"/>
<path d="M105.2 188.9 L134.2 185.2" fill="none" stroke="#000" stroke-width="7.8" stroke-linecap="butt" stroke-linejoin="round"/>
<path d="M105.2 188.9 L134.2 185.2" fill="none" stroke="#fff" stroke-width="2.2" stroke-linecap="butt" stroke-linejoin="round"/>
<line x1="98" y1="181" x2="100" y2="171.8" stroke="#000" stroke-width="3.4" stroke-linecap="butt"/>
<path d="M146 206.9 L175 199.9" fill="none" stroke="#000" stroke-width="7.8" stroke-linecap="butt" stroke-linejoin="round"/>
<path d="M146 206.9 L175 199.9" fill="none" stroke="#fff" stroke-width="2.2" stroke-linecap="butt" stroke-linejoin="round"/>
<line x1="138" y1="199" x2="140" y2="186.2" stroke="#000" stroke-width="3.4" stroke-linecap="butt"/>
<path d="M190.9 224.3 L219.9 216.1" fill="none" stroke="#000" stroke-width="7.8" stroke-linecap="butt" stroke-linejoin="round"/>
<path d="M190.9 224.3 L219.9 216.1" fill="none" stroke="#fff" stroke-width="2.2" stroke-linecap="butt" stroke-linejoin="round"/>
<line x1="181" y1="213" x2="183" y2="201.8" stroke="#000" stroke-width="3.4" stroke-linecap="butt"/>
<path d="M231.9 238.3 L260.9 230.9" fill="none" stroke="#000" stroke-width="7.8" stroke-linecap="butt" stroke-linejoin="round"/>
<path d="M231.9 238.3 L260.9 230.9" fill="none" stroke="#fff" stroke-width="2.2" stroke-linecap="butt" stroke-linejoin="round"/>
<line x1="222" y1="227" x2="224" y2="216.6" stroke="#000" stroke-width="3.4" stroke-linecap="butt"/>
<path d="M282.1 258.6 L311.1 249" fill="none" stroke="#000" stroke-width="7.8" stroke-linecap="butt" stroke-linejoin="round"/>
<path d="M282.1 258.6 L311.1 249" fill="none" stroke="#fff" stroke-width="2.2" stroke-linecap="butt" stroke-linejoin="round"/>
<line x1="271.5" y1="245.5" x2="273.5" y2="234.4" stroke="#000" stroke-width="3.4" stroke-linecap="butt"/>
<path d="M321.4 273.5 L350.4 263.2" fill="none" stroke="#000" stroke-width="7.8" stroke-linecap="butt" stroke-linejoin="round"/>
<path d="M321.4 273.5 L350.4 263.2" fill="none" stroke="#fff" stroke-width="2.2" stroke-linecap="butt" stroke-linejoin="round"/>
<line x1="310" y1="261" x2="312" y2="248.3" stroke="#000" stroke-width="3.4" stroke-linecap="butt"/>
<path d="M361.2 290.1 L390.2 277.6" fill="none" stroke="#000" stroke-width="7.8" stroke-linecap="butt" stroke-linejoin="round"/>
<path d="M361.2 290.1 L390.2 277.6" fill="none" stroke="#fff" stroke-width="2.2" stroke-linecap="butt" stroke-linejoin="round"/>
<line x1="349.5" y1="277" x2="351.5" y2="262.6" stroke="#000" stroke-width="3.4" stroke-linecap="butt"/>
<path d="M401.8 308.9 L430.8 292.2" fill="none" stroke="#000" stroke-width="7.8" stroke-linecap="butt" stroke-linejoin="round"/>
<path d="M401.8 308.9 L430.8 292.2" fill="none" stroke="#fff" stroke-width="2.2" stroke-linecap="butt" stroke-linejoin="round"/>
<line x1="390" y1="297" x2="392" y2="277.2" stroke="#000" stroke-width="3.4" stroke-linecap="butt"/>
<path d="M458 299 L95 168" fill="none" stroke="#000" stroke-width="8.4" stroke-linecap="butt" stroke-linejoin="round"/>
<path d="M458 299 L95 168" fill="none" stroke="#fff" stroke-width="2.8" stroke-linecap="butt" stroke-linejoin="round"/>
<path d="M95 168 L82 163" stroke="#000" stroke-width="1.8" stroke-dasharray="3 2.5"/>
<ellipse cx="97" cy="196" rx="12.6" ry="18.6" fill="#000" transform="rotate(2.8 97 196)"/>
<polygon points="85.4,199.7 91.6,220.8 100,221.2 108.2,200.8" fill="#000"/>
<line x1="96.3" y1="209.6" x2="95.1" y2="234.3" stroke="#000" stroke-width="8.4" stroke-linecap="butt"/>
<ellipse cx="95.1" cy="234.3" rx="5.8" ry="8.1" fill="#000" transform="rotate(2.8 95.1 234.3)"/>
<ellipse cx="97" cy="196" rx="9.4" ry="15.4" fill="#fff" transform="rotate(2.8 97 196)"/>
<polygon points="88.5,199.8 94.7,220.9 96.9,221 105.1,200.7" fill="#fff"/>
<line x1="96.3" y1="209.6" x2="95.1" y2="234.3" stroke="#fff" stroke-width="3.4" stroke-linecap="butt"/>
<ellipse cx="95.1" cy="234.3" rx="3.4" ry="5.4" fill="#fff" transform="rotate(2.8 95.1 234.3)"/>
<path d="M96 206.3h.1M102.9 204.6h.1M94.9 206.7h.1M101.3 209.3h.1M96.9 202.7h.1M101.5 205.8h.1M98.4 212.4h.1M92.3 205.6h.1M93.1 208h.1M104.3 200.1h.1M96.5 212.8h.1M95.2 211.6h.1M101.9 201.8h.1M94.3 210h.1M93.2 211.6h.1M99.7 206h.1M102.1 203.7h.1M94.5 205.4h.1M102.6 201.8h.1M94.3 212.4h.1M99.9 209.4h.1M94.5 207.6h.1M104.1 200.2h.1M99 202.1h.1M100.2 201h.1M94.5 210.3h.1M95 210.9h.1M95.8 210.3h.1M92.1 206.3h.1M96.9 210.8h.1M92.5 208.8h.1M100.7 205.8h.1M100.6 206.9h.1M97.4 204.4h.1" stroke="#000" stroke-width="1.4" stroke-linecap="round" fill="none"/>
<path d="M106.6 199.7L104.8 199M106.1 201.9L104.5 200.8M105.4 204.2L104.2 203M104.3 206.4L102.5 203.8M102.8 208.6L100.9 204.6M101.4 210.1L100.7 207.8M100.1 210.9L99.3 206.8M97.7 211.9L97.5 207.3M96.8 212L96.9 208.6M95 211.8L95.4 208.2M93.5 211.3L94.1 208.6M92.3 210.4L93.8 205.9M90.2 208.2L92.5 204.1M89.4 207.1L91.5 204M88.6 205.2L89.9 203.7M87.9 203.3L89.8 201.8M87.1 199.6L89.6 198.8" stroke="#000" stroke-width="1.3" fill="none"/>
<path d="M87.4 192L88.7 192.5M89.4 186.1L90.2 187.1M92 182.6L92.9 185M95.2 180.4L95.6 183.3M99.3 180.3L99.1 181.7M102.8 182.6L101.9 184.6M104.6 185.1L103.9 186.2M106.5 190.4L105.6 191" stroke="#000" stroke-width="1.1" fill="none"/>
<ellipse cx="137" cy="214" rx="13.6" ry="18.6" fill="#000" transform="rotate(1.4 137 214)"/>
<polygon points="124.6,217.9 132.2,238.9 140.6,239.1 149.2,218.5" fill="#000"/>
<line x1="136.7" y1="227.6" x2="136.1" y2="252.3" stroke="#000" stroke-width="8.4" stroke-linecap="butt"/>
<ellipse cx="136.1" cy="252.3" rx="5.8" ry="8.1" fill="#000" transform="rotate(1.4 136.1 252.3)"/>
<ellipse cx="137" cy="214" rx="10.4" ry="15.4" fill="#fff" transform="rotate(1.4 137 214)"/>
<polygon points="127.6,218 135.3,239 137.5,239 146.1,218.5" fill="#fff"/>
<line x1="136.7" y1="227.6" x2="136.1" y2="252.3" stroke="#fff" stroke-width="3.4" stroke-linecap="butt"/>
<ellipse cx="136.1" cy="252.3" rx="3.4" ry="5.4" fill="#fff" transform="rotate(1.4 136.1 252.3)"/>
<path d="M145.2 221.1h.1M138.9 222.5h.1M136.6 227.7h.1M136.6 231.3h.1M138.9 228.2h.1M132.1 226.6h.1M135 227.5h.1M138 226.7h.1M133.9 227.3h.1M140.2 227h.1M137.5 230.8h.1M141.8 223.1h.1M140.1 223.8h.1M134.9 226.3h.1M134 227.6h.1M131.3 228h.1M134.8 226h.1M132.4 225.4h.1M137.2 221.9h.1M135.8 221.1h.1M133.3 226.8h.1M139.9 222.3h.1M138.2 224.8h.1M132.1 229h.1M141.5 221.3h.1M134.2 230h.1M138.5 220h.1M135 230.3h.1M137.6 223.7h.1M132.1 225.7h.1M138.1 228.2h.1M140.4 227.9h.1M131.9 226.2h.1M132.4 225.6h.1M141.7 225.1h.1M136.2 227.2h.1M138.6 225h.1" stroke="#000" stroke-width="1.4" stroke-linecap="round" fill="none"/>
<path d="M147.7 217.4L146 216.9M147.1 220.1L144.8 218.8M146.5 221.7L144.6 220.1M145.6 223.8L144.1 222.2M144.3 225.8L143 223.8M143.3 227L141.9 224.2M141.2 228.7L140 224.6M140.4 229.1L139.4 224.5M138.1 229.9L137.9 226.6M136.6 230L136.7 225.8M135.3 229.8L135.8 224.8M133.6 229.3L134.5 225.2M131.9 228.3L133 225M131.2 227.7L132 225.8M129.4 225.8L131.2 223M128.2 223.9L131.1 220.6M127.7 222.7L129.3 221.1M126.8 220.2L128.3 219.3M126.4 218.7L128.1 217.9" stroke="#000" stroke-width="1.3" fill="none"/>
<path d="M126.4 210.1L127.7 210.6M127.7 205.8L129.1 207.1M130.8 201L131.8 203.2M133.5 199L134 201.4M137.3 198L137.3 200.5M139.7 198.4L139.3 200.6M143.7 201.1L143 202.5M145.5 203.6L144.8 204.4M147.4 208.4L146.4 208.9" stroke="#000" stroke-width="1.1" fill="none"/>
<ellipse cx="180" cy="234" rx="16.1" ry="24.6" fill="#000" transform="rotate(-0.7 180 234)"/>
<polygon points="165.5,239.9 176.2,265 184.6,264.9 194.7,239.6" fill="#000"/>
<line x1="180.2" y1="252.4" x2="180.5" y2="273.3" stroke="#000" stroke-width="8.4" stroke-linecap="butt"/>
<ellipse cx="180.5" cy="273.3" rx="5.8" ry="8.1" fill="#000" transform="rotate(-0.7 180.5 273.3)"/>
<ellipse cx="180" cy="234" rx="12.9" ry="21.4" fill="#fff" transform="rotate(-0.7 180 234)"/>
<polygon points="168.6,239.9 179.3,265 181.5,265 191.6,239.6" fill="#fff"/>
<line x1="180.2" y1="252.4" x2="180.5" y2="273.3" stroke="#fff" stroke-width="3.4" stroke-linecap="butt"/>
<ellipse cx="180.5" cy="273.3" rx="3.4" ry="5.4" fill="#fff" transform="rotate(-0.7 180.5 273.3)"/>
<path d="M183.6 251.1h.1M173.7 250.4h.1M185.6 248.9h.1M176.9 248.9h.1M177.8 256.1h.1M184.7 252h.1M178.4 255.7h.1M176.1 251.4h.1M177.1 254.4h.1M184.9 251h.1M188.6 242.7h.1M182.1 253.5h.1M171.9 250.8h.1M173.7 246h.1M179.8 249.7h.1M171.5 246.3h.1M182.7 254.7h.1M187.6 248.6h.1M176.4 250.4h.1M185.5 248h.1M188.5 241.4h.1M189.3 248.4h.1M180.7 252.5h.1M185.1 255.2h.1M181.8 248.5h.1M178.2 245.7h.1M184.9 251.9h.1M183.3 249.4h.1M180.1 244.5h.1M176.7 251.5h.1M177.5 255.5h.1M179.9 246.8h.1M187.3 239.9h.1M170.8 246.3h.1M188.5 250.4h.1M178.2 250.7h.1M181.1 249h.1M186.8 249.2h.1M178.4 254.9h.1M180.3 255.3h.1M170.1 246.4h.1M178.7 252.5h.1M189.3 242.8h.1M183 241.9h.1M188 246.5h.1M184.8 245.3h.1M177.7 255.4h.1M186 254.4h.1M187 248.5h.1M186.5 250.2h.1M180.8 255.1h.1M173.8 246.4h.1M186.5 244.2h.1M172.5 248.8h.1M189.8 240.3h.1M186.9 251.3h.1M189.2 248.7h.1M177.2 252.3h.1M177.4 255.4h.1M186.8 252.4h.1" stroke="#000" stroke-width="1.4" stroke-linecap="round" fill="none"/>
<path d="M193.2 239.1L190.2 237.9M192.9 240.5L189.8 238.9M192 244.2L189.7 242.2M191.3 246.3L189.7 244.6M190.6 247.9L189.3 246.3M189.4 249.9L187.1 246M188 251.9L186.7 248.9M187 253L186 250.5M185.4 254.3L184.6 251.3M183.8 255.2L183.1 251.3M182.3 255.7L181.9 251.7M180.7 256L180.6 252.2M179 255.9L179.2 251M176.9 255.4L177.5 251.4M175.5 254.7L176.2 251.6M174.5 254L175.3 251.1M173.1 252.8L174.6 248.8M171.1 250.4L172.9 247.2M170.4 249.4L171.6 247.5M169 246.6L171.1 244.3M168.5 245.2L171.3 242.5M167.5 242L170.5 240M166.9 239L169.7 238" stroke="#000" stroke-width="1.3" fill="none"/>
<path d="M167.1 227.3L168.8 228.2M167.7 224.5L168.8 225.3M170.1 218.9L171.1 220.5M172 216.1L172.7 217.5M176.2 212.8L176.7 215.6M179 212L179.1 214.9M183.2 212.7L182.8 215.4M185.1 213.8L184.7 215.5M188.9 217.6L187.8 219.6M191.3 222.3L190.6 223M192.7 226.8L192 227.2" stroke="#000" stroke-width="1.1" fill="none"/>
<ellipse cx="221" cy="248" rx="16.1" ry="24.6" fill="#000"/>
<polygon points="206.4,253.8 216.8,279 225.2,279 235.6,253.8" fill="#000"/>
<line x1="221" y1="266.4" x2="221" y2="290.3" stroke="#000" stroke-width="8.4" stroke-linecap="butt"/>
<ellipse cx="221" cy="290.3" rx="5.8" ry="8.1" fill="#000"/>
<ellipse cx="221" cy="248" rx="12.9" ry="21.4" fill="#fff"/>
<polygon points="209.5,253.8 219.9,279 222.1,279 232.5,253.8" fill="#fff"/>
<line x1="221" y1="266.4" x2="221" y2="290.3" stroke="#fff" stroke-width="3.4" stroke-linecap="butt"/>
<ellipse cx="221" cy="290.3" rx="3.4" ry="5.4" fill="#fff"/>
<path d="M218.9 265.2h.1M218.4 263.6h.1M222.1 266h.1M221.4 268.7h.1M215.4 260.6h.1M226.7 265.5h.1M228.8 255.9h.1M226.2 265.4h.1M226.1 260.8h.1M220.4 257.7h.1M213.4 262.8h.1M228 264.6h.1M231.2 255.7h.1M224.9 260.2h.1M227.7 259.8h.1M223.9 266.1h.1M229.3 260.2h.1M220.9 270h.1M216.5 266.6h.1M222.9 262.8h.1M216.5 266.8h.1M227.7 262h.1M214.8 258.8h.1M220.8 267.8h.1M226.3 257h.1M217.4 266.6h.1M229.6 261.5h.1M224.4 266.5h.1M218.9 271.1h.1M222.2 259.9h.1M223.4 264.6h.1M230.8 259.9h.1M228.9 263.3h.1M230.4 261.6h.1M222.2 259.1h.1M227.6 265.9h.1M219.8 265.6h.1M217 268.6h.1M228.4 255.9h.1M214.1 264.5h.1M225.2 263.8h.1M221.2 256.5h.1M227.4 261.3h.1M223.8 261h.1M220.1 264.3h.1M221.7 262.9h.1M221.1 270.9h.1M221.6 270.4h.1M220.5 269.7h.1M216.2 260.9h.1M216.1 262.1h.1M220 266.9h.1M230.5 253.1h.1M214.5 260.8h.1M214.8 261.2h.1M216.3 267.8h.1M220.3 259.7h.1M227 264.7h.1M215.7 267.1h.1M219.1 263.4h.1" stroke="#000" stroke-width="1.4" stroke-linecap="round" fill="none"/>
<path d="M234.2 252.4L232.3 251.7M233.8 255.2L232.2 254.3M233.2 257.3L230.9 255.5M232.5 259.6L229.8 256.9M231.3 262.2L229.8 260.1M230.5 263.7L229.1 261.5M229.1 265.7L228.1 263.5M227.8 267L226.1 262.5M225.7 268.6L224.6 263.8M224.1 269.4L223.5 265.1M222.5 269.9L222.2 265.6M221.4 270L221.4 267.2M219.5 269.9L219.9 264.6M217.7 269.3L218.5 264.2M216.6 268.8L217.4 264.6M214.6 267.3L215.9 263.4M213.3 266L215 262M212.2 264.7L214.2 260.9M211.2 263.1L213.3 259.8M210.1 260.9L211.5 259.2M209 258.1L211.6 255.9M208.4 256L210.6 254.6M208 254L210.9 252.7" stroke="#000" stroke-width="1.3" fill="none"/>
<path d="M208 242L209.4 242.7M209.5 236.4L210.2 237.1M211.6 232.2L212.8 234.1M213.2 230L213.7 231.1M217.7 226.7L217.9 228.3M220.4 226L220.5 228.9M223.1 226.3L222.9 228.4M226.1 227.7L225.5 230.2M230.4 232.1L229.5 233.6M232.4 236.3L231.6 237.1M233.9 241.4L232.3 242.2" stroke="#000" stroke-width="1.1" fill="none"/>
<ellipse cx="270.5" cy="269.5" rx="17.1" ry="27.6" fill="#000"/>
<polygon points="255,276 266.3,303.5 274.7,303.5 286,276" fill="#000"/>
<line x1="270.5" y1="290.3" x2="270.5" y2="313.3" stroke="#000" stroke-width="8.4" stroke-linecap="butt"/>
<ellipse cx="270.5" cy="313.3" rx="5.8" ry="8.1" fill="#000"/>
<ellipse cx="270.5" cy="269.5" rx="13.9" ry="24.4" fill="#fff"/>
<polygon points="258.1,276 269.4,303.5 271.6,303.5 282.9,276" fill="#fff"/>
<line x1="270.5" y1="290.3" x2="270.5" y2="313.3" stroke="#fff" stroke-width="3.4" stroke-linecap="butt"/>
<ellipse cx="270.5" cy="313.3" rx="3.4" ry="5.4" fill="#fff"/>
<path d="M265.5 282.7h.1M270.3 283.8h.1M274.9 294.4h.1M276.4 290.1h.1M272.5 289.7h.1M278 282.7h.1M266.5 291h.1M278.1 275.7h.1M280.1 281.8h.1M270.4 283.5h.1M274.4 293.7h.1M273.5 285.7h.1M274.3 288.2h.1M274 289.5h.1M270.7 291.2h.1M268.2 291.6h.1M276.2 288.3h.1M277.1 287.3h.1M271 290.4h.1M280.7 280.8h.1M279.8 283.3h.1M266.6 285.9h.1M278.1 289.4h.1M269.9 283.3h.1M272.6 283.8h.1M279.3 289.2h.1M266.8 286.5h.1M272.7 292h.1M272.6 285.3h.1M267.8 289.7h.1M276 275.9h.1M266 293.2h.1M280.4 276.4h.1M276.1 292.5h.1M268.5 292.1h.1M265.9 286.8h.1M265 292.4h.1M267.8 287.1h.1M277.8 283.7h.1M279.7 284h.1M264.3 282.4h.1M276.5 287.2h.1M262.9 290.1h.1M267.2 291.9h.1M270.3 282.1h.1M264.9 283.4h.1M278.6 285.5h.1M263.4 289.5h.1M275.8 287.4h.1M265.9 283.9h.1M279.5 274.4h.1M272.8 294.3h.1M280.4 281.6h.1M271.7 282.1h.1M264.5 288.7h.1M263 291.4h.1M269.1 287.4h.1M272.4 280.7h.1M275.4 292.7h.1M265.4 288.7h.1M272.8 284.8h.1M278.5 278.4h.1M271.3 294h.1M271.5 282.8h.1M263.6 287.6h.1M272.6 284.2h.1M277 280.9h.1M274.5 286.9h.1M281.5 279.6h.1M267.6 290.3h.1M271.8 280.7h.1M268.9 285.7h.1M266.7 293.2h.1" stroke="#000" stroke-width="1.4" stroke-linecap="round" fill="none"/>
<path d="M284.8 274L283.2 273.5M284.3 277.3L282.7 276.4M283.8 279.6L281.3 277.7M282.8 282.7L281.5 281.3M281.8 285.1L279.8 282.4M280.4 287.7L279 285.1M279.7 288.9L278.8 287M278 290.9L276.8 287.6M276.1 292.6L275.4 289.8M275.4 293L274.6 289.3M273.2 294.1L272.8 291.1M271.9 294.4L271.7 291.6M269.6 294.5L269.8 290.4M268.5 294.3L268.8 290.9M266.9 293.7L267.2 291.5M264.8 292.5L265.8 288.2M263.7 291.6L264.6 288.6M261.8 289.5L262.8 287M260.6 287.8L262.7 284.1M259.7 286.3L261.8 283.1M258.7 284L261.2 280.9M257.9 281.8L259.3 280.4M256.9 278.3L258.7 277.1M256.5 275.9L259.3 274.6" stroke="#000" stroke-width="1.3" fill="none"/>
<path d="M256.3 264.6L257.2 264.9M257.7 257.7L258.6 258.4M259.4 253.3L260.2 254.4M262.2 249L263 251M264.1 247.1L264.8 249.4M269 244.6L269.1 246.4M272.1 244.7L272 246.4M275.6 246.1L275 248.8M278.3 248.4L277.6 250M280.3 251.1L279.7 252.3M283.1 257.1L281.7 258.6M284.3 261.9L282.7 262.8" stroke="#000" stroke-width="1.1" fill="none"/>
<ellipse cx="309" cy="284" rx="18.1" ry="26.6" fill="#000" transform="rotate(-1.2 309 284)"/>
<polygon points="292.7,290.6 305.5,317.1 313.9,316.9 325.5,289.9" fill="#000"/>
<line x1="309.4" y1="304" x2="309.9" y2="329.3" stroke="#000" stroke-width="8.4" stroke-linecap="butt"/>
<ellipse cx="309.9" cy="329.3" rx="5.8" ry="8.1" fill="#000" transform="rotate(-1.2 309.9 329.3)"/>
<ellipse cx="309" cy="284" rx="14.9" ry="23.4" fill="#fff" transform="rotate(-1.2 309 284)"/>
<polygon points="295.8,290.5 308.6,317 310.8,317 322.4,290" fill="#fff"/>
<line x1="309.4" y1="304" x2="309.9" y2="329.3" stroke="#fff" stroke-width="3.4" stroke-linecap="butt"/>
<ellipse cx="309.9" cy="329.3" rx="3.4" ry="5.4" fill="#fff" transform="rotate(-1.2 309.9 329.3)"/>
<path d="M318.4 296h.1M312.3 298.5h.1M313.4 306.2h.1M305.1 302.5h.1M311.5 294.9h.1M307.9 302.6h.1M320.6 297.9h.1M312.9 307.5h.1M321.3 295.9h.1M311.6 293.5h.1M319.3 300.3h.1M320.7 293.6h.1M298.3 299.5h.1M304.8 306.1h.1M302.7 302.4h.1M318.7 299.4h.1M301.6 294.8h.1M306.8 295.9h.1M313.7 297.1h.1M305.6 304.3h.1M316.4 300.5h.1M315.4 297h.1M313.3 304.2h.1M309.2 304.4h.1M315 291.4h.1M305.3 298.4h.1M319 291.4h.1M320.7 298.4h.1M312.7 302.6h.1M314.5 307.8h.1M310 306.1h.1M313.8 291.9h.1M299.9 302.7h.1M299 295.1h.1M319.9 289.6h.1M312.7 299.8h.1M315.2 306.4h.1M303.2 304.4h.1M309.6 297.8h.1M320.3 299.4h.1M302.3 301.3h.1M321.1 292.9h.1M304.3 306.7h.1M306.5 304.3h.1M315.2 301.6h.1M317.7 302.7h.1M312.2 298.8h.1M307.4 305.2h.1M312.5 306.2h.1M309.9 305.3h.1M316.8 305.8h.1M320.6 298h.1M315.8 298.5h.1M309.5 301h.1M308.5 292.4h.1M304.9 298.5h.1M317.3 298h.1M313.9 302h.1M316.4 293.5h.1M319 298.9h.1M300 300.1h.1M320.2 298.6h.1M306.7 304.1h.1M319.4 291h.1M314.7 297.8h.1M313.3 300.6h.1M314.3 297.7h.1M299.5 298h.1M316 295.3h.1M313.6 300.3h.1M317.3 290.8h.1M314.2 305.9h.1M321.4 294.8h.1M297.8 299h.1M305.3 304.3h.1" stroke="#000" stroke-width="1.4" stroke-linecap="round" fill="none"/>
<path d="M324.2 289.1L322.1 288.4M323.9 291.2L321.3 289.9M323.5 293L322 292M322.7 295.6L320.6 293.9M321.7 298.2L318.9 295.1M320.4 300.5L319.2 298.7M319.4 302L318.3 300.1M318.7 303.1L317.6 301M316.6 305.1L315.2 301.2M315.4 306L314.3 302.3M313.8 307L313.3 304.5M312.3 307.5L311.6 302.5M311.1 307.8L310.7 303.4M309.4 308L309.4 304.1M307.7 307.9L307.8 305.4M306.1 307.5L306.6 304M303.6 306.4L304.2 303.8M302.6 305.7L303.5 302.8M301.2 304.5L302.1 302M299.8 303L301.8 298.8M298.7 301.6L300.8 298M297.1 299L298.9 296.7M296.1 297L298.3 294.8M295.1 294.4L296.5 293.3M294.6 292.3L297.5 290.6M294.1 290L297.4 288.7" stroke="#000" stroke-width="1.3" fill="none"/>
<path d="M293.7 280L295.2 280.4M295.1 273.1L295.9 273.7M296.6 269.3L298 270.9M299 265.3L299.8 266.8M302.1 262.3L302.9 264.9M304 261.1L304.4 262.7M308.5 260L308.5 262.6M311 260.3L310.8 263.2M315.3 262.2L314.7 264.3M317.2 263.8L316.7 265M319.2 266.3L318.4 267.7M322 271.2L321.2 272M323.3 275.2L321.7 276.2" stroke="#000" stroke-width="1.1" fill="none"/>
<ellipse cx="348.5" cy="301" rx="18.6" ry="27.6" fill="#000" transform="rotate(1.7 348.5 301)"/>
<polygon points="331.5,307 343.3,334.9 351.7,335.1 365.2,308" fill="#000"/>
<line x1="347.9" y1="321.8" x2="347.1" y2="349.3" stroke="#000" stroke-width="8.4" stroke-linecap="butt"/>
<ellipse cx="347.1" cy="349.3" rx="5.8" ry="8.1" fill="#000" transform="rotate(1.7 347.1 349.3)"/>
<ellipse cx="348.5" cy="301" rx="15.4" ry="24.4" fill="#fff" transform="rotate(1.7 348.5 301)"/>
<polygon points="334.6,307.1 346.4,335 348.6,335 362.1,307.9" fill="#fff"/>
<line x1="347.9" y1="321.8" x2="347.1" y2="349.3" stroke="#fff" stroke-width="3.4" stroke-linecap="butt"/>
<ellipse cx="347.1" cy="349.3" rx="3.4" ry="5.4" fill="#fff" transform="rotate(1.7 347.1 349.3)"/>
<path d="M355.5 315.3h.1M356 313.6h.1M343.2 321.8h.1M347.9 315.2h.1M357.2 320.6h.1M343.3 321.3h.1M349.9 322.7h.1M348.5 319.6h.1M347.5 326.3h.1M347.8 326.9h.1M346.5 320h.1M347.8 314.5h.1M353.9 316h.1M360.4 311.1h.1M353.3 323.8h.1M343.6 316.9h.1M349.6 315.3h.1M343.3 320.6h.1M356.8 310.9h.1M355.3 320.4h.1M350.8 314.8h.1M355.6 321.7h.1M345.1 322.1h.1M343.2 314.3h.1M354.6 312.9h.1M344.1 316.6h.1M359.4 315.7h.1M342 314.8h.1M347.4 318.8h.1M339.4 322.2h.1M348.3 323.1h.1M342.4 314.9h.1M360.5 310.1h.1M339.1 320.9h.1M335.7 314.2h.1M340.3 322.3h.1M343.4 325.6h.1M354.1 318.2h.1M337.9 315.9h.1M349.2 319.6h.1M361.7 308h.1M358 319h.1M360 313.6h.1M345.5 320h.1M351 326.3h.1M350.2 316.2h.1M360.5 309.4h.1M340.3 323.6h.1M338.5 320.6h.1M346.3 326.8h.1M350.2 325.6h.1M361.1 310.6h.1M359.3 316.4h.1M345.4 312h.1M355.9 318.7h.1M356.5 319.6h.1M346 314.6h.1M357.2 319.4h.1M353.7 323.6h.1M357.3 311.4h.1M355.2 323.4h.1M360.5 313.1h.1M345.9 324.8h.1M346.6 322.7h.1M356.3 319.3h.1M349.7 324.3h.1M343.6 319.9h.1M341 323.9h.1M347.5 323.8h.1M342.7 324h.1M340.9 316.8h.1M345.8 327h.1M353.7 319.4h.1M348.2 324h.1M349 324h.1M361.2 311.8h.1M349.7 326.3h.1M340.2 315.6h.1M347.8 318h.1M349.8 317.2h.1" stroke="#000" stroke-width="1.4" stroke-linecap="round" fill="none"/>
<path d="M364 306.6L362.3 306M363.7 308.4L361.2 307.2M362.7 312L361 310.6M361.9 314L359.5 311.6M361.4 315.3L359.9 313.6M360 317.9L358.7 315.9M359.1 319.3L357.3 316.1M357.8 321L356.2 317.6M355.6 323.1L355 321M354.8 323.7L354.1 321.4M353 324.8L352.2 320.3M351.1 325.5L350.8 322.3M349.9 325.8L349.7 321.9M348.1 326L348.1 323.5M346 325.8L346.5 321.1M344.6 325.4L345 322.9M343.2 324.8L343.8 322.2M341.3 323.6L342.1 321.1M340.6 323L341.8 319.6M338.9 321.4L340.3 318.4M337.4 319.5L339.2 316.5M336.5 318L338.9 314.6M335.6 316.3L337.6 313.9M334.8 314.4L337.4 311.8M333.9 311.9L336.3 310.2M333.2 308.8L334.7 308.1M332.9 307.3L335.3 306.3" stroke="#000" stroke-width="1.3" fill="none"/>
<path d="M333.2 294.3L334.2 294.7M334.3 290.1L335.9 291.4M336.6 284.8L337.3 285.8M339.1 281.2L339.8 282.5M341 279.2L341.4 280.3M345.7 276.5L346.1 279.4M348 276L348.1 278.6M352.5 276.6L352.2 278.1M356.1 278.7L355.2 281.2M357.4 279.9L356.8 281.3M361 284.8L360 286M362.2 287.5L361.5 288.2M364.1 294.7L362.3 295.4" stroke="#000" stroke-width="1.1" fill="none"/>
<ellipse cx="389" cy="319" rx="17" ry="24" fill="#fff" stroke="#000" stroke-width="2.9"/>
<path d="M387.4 332.2h.1M388.4 327.1h.1M386.6 337.6h.1M396.1 323.3h.1M399.7 334.3h.1M384.7 327.8h.1M385.4 330.7h.1M389 336.3h.1M382.8 338.8h.1M380.9 336.2h.1M388 336.7h.1M399.9 321.8h.1M402.2 329.1h.1M378.6 329.5h.1M398.1 323.3h.1M398.8 331.1h.1M390.9 330.2h.1M392 335.2h.1M379.5 332h.1M387.1 333.8h.1M385 339.2h.1M393.1 336.7h.1M400.9 328.7h.1M396.6 331h.1M382.7 336.1h.1M388.2 327.4h.1M393.7 337.8h.1M387.1 336.6h.1M384.2 327.4h.1M390.6 327.5h.1M381.2 328h.1M384.8 332.9h.1M392.5 329.9h.1M380.5 332.5h.1M392.3 335.5h.1M390.6 336.2h.1M375.6 329.7h.1M395.8 324.3h.1M383.6 331.7h.1M395.6 325.2h.1M388.9 332.3h.1M387.4 333.5h.1M400.5 333.2h.1M380.7 331.6h.1M399.3 327.3h.1M383 329.8h.1M397.1 334.5h.1M387.3 334.2h.1M392.7 340.5h.1M384.4 330.4h.1M389.1 332.4h.1M396.1 327.9h.1M398.8 336h.1M400.9 333h.1M403 321.5h.1M379.8 329.4h.1M382.5 337.5h.1M390.3 338.4h.1M381.4 336.4h.1M386.6 338.6h.1" stroke="#000" stroke-width="1.4" stroke-linecap="round" fill="none"/>
<path d="M404.5 324.5L401.5 323.4M404.2 326.4L402.2 325.4M403.3 329.4L400.3 327.2M402.6 331.2L400.4 329.2M400.9 334.4L399.1 332.1M399.2 336.8L397.2 333.3M397.7 338.3L396.5 335.6M395.9 339.8L394.8 336.4M394.8 340.4L393.8 336.7M392.8 341.3L392.1 337.4M389.9 342L389.8 338.1M388.8 342L388.8 336.9M386.6 341.7L387 337.2M384 340.9L384.8 337.6M382.8 340.2L383.6 337.5M380.5 338.5L381.5 336.2M378.6 336.5L379.9 334.4M377.2 334.6L379.9 331M376 332.5L379.4 329M375.2 330.6L378.2 328.1M374.2 327.6L375.8 326.7M373.5 324.9L376.8 323.7" stroke="#000" stroke-width="1.3" fill="none"/>
<ellipse cx="704" cy="277" rx="11" ry="13" fill="#fff" stroke="#000" stroke-width="2.9" transform="rotate(-10 704 277)"/>
<path d="M711.9 278.1h.1M710.2 275.9h.1M709.4 278.4h.1M709.3 282.4h.1M708.4 276.8h.1M708.3 276.5h.1M705.7 282.1h.1M708.4 283.2h.1M707.1 286.7h.1M710 275.2h.1M710 281.3h.1M703.9 286.5h.1M705.9 285.4h.1M710.7 278.4h.1M707.5 286.2h.1M706.9 282.2h.1M709.1 280.7h.1M707.6 285.6h.1M710.1 282.9h.1M708.5 281.7h.1M708.6 277h.1M708.2 281.5h.1M704.3 287.4h.1M711.6 277.6h.1M709.2 276.4h.1M711.4 276.9h.1M708.9 282.7h.1M710 284.4h.1M708.1 284.1h.1M710 280.7h.1M707.2 285.8h.1" stroke="#000" stroke-width="1.5" stroke-linecap="round" fill="none"/>
<path d="M711 268.1L708.2 271.6M712.2 269.7L708.4 273.1M712.8 270.7L710.1 272.7M713.3 271.8L711 273.1M713.9 273.5L710.7 274.6M714.4 275.5L712 275.8M714.5 277.1L709.9 277M714.5 279.1L709.9 278.2M714.3 280.6L710.9 279.4M714 281.9L711.8 280.8M713.2 283.7L710.3 281.6M712.9 284.3L709 281.1M711.7 286.1L708.7 282.6M711 286.8L709.4 284.7M709.6 287.9L708.1 285.1M708.4 288.6L706.6 284M707.2 289.1L705.8 283.9M705.4 289.4L704.7 283.5M704.7 289.4L704.5 285.3M702.7 289.2L703.1 285.6M701.4 288.8L702 286" stroke="#000" stroke-width="1.3" fill="none"/>
<path d="M696.7 285.4L698.4 283.4M694.8 282.4L695.8 281.8M693.6 278.4L694.9 278.2M693.5 274.6L695.9 275.2M694.9 270.1L696.7 271.5M696.5 267.7L697.7 269.2M699.1 265.7L700 267.6M701.7 264.7L702 266.5M705.1 264.7L705 266" stroke="#000" stroke-width="1.1" fill="none"/>
<path d="M705 285 L716 294.5" fill="none" stroke="#000" stroke-width="5.6" stroke-linecap="butt" stroke-linejoin="round"/>
<path d="M705 285 L716 294.5" fill="none" stroke="#fff" stroke-width="1.8" stroke-linecap="butt" stroke-linejoin="round"/>
<line x1="702" y1="289" x2="706" y2="299.5" stroke="#000" stroke-width="3" stroke-linecap="butt"/>
<ellipse cx="748" cy="257" rx="13" ry="17" fill="#fff" stroke="#000" stroke-width="2.9" transform="rotate(-10 748 257)"/>
<path d="M754.2 263.2h.1M756.3 262.5h.1M755.6 258.9h.1M754.8 253h.1M757.6 262.3h.1M757.2 259.9h.1M756.6 252.7h.1M749.3 269.6h.1M756.7 262.8h.1M755.9 263.3h.1M757.9 254.9h.1M757.9 253.9h.1M750.6 267h.1M750.4 269.8h.1M757.8 256.2h.1M751.1 261.7h.1M754.2 269.2h.1M752.4 270.2h.1M755.4 264h.1M758.4 261.2h.1M757.7 263.4h.1M747 267.3h.1M753.6 269.9h.1M748.2 268.9h.1M751.7 270.6h.1M752.8 267.3h.1M751.6 257.6h.1M753.4 267.5h.1M757.7 259.5h.1M748 271.2h.1M754.2 262.1h.1M756.3 262.7h.1M756 264.2h.1M756.5 261.8h.1M752.1 265.7h.1M754 264.4h.1M755.3 250h.1M753.1 265.5h.1M755.8 258.5h.1M747.4 267.9h.1M752.8 253h.1M756 267.4h.1M753.6 260.6h.1M751.8 261.3h.1M753.2 268.1h.1M755.8 262.2h.1M750.1 260.6h.1M756.1 249.4h.1M755.7 249.5h.1" stroke="#000" stroke-width="1.5" stroke-linecap="round" fill="none"/>
<path d="M756.2 245.6L753.5 249.3M757.1 246.8L754 250.2M757.7 247.8L754.8 250.5M758.5 249.1L754.7 252M759.4 251.4L756.7 252.8M759.8 252.7L757.4 253.6M760.2 254.4L756.7 255.1M760.4 255.5L758.3 255.7M760.6 258L758.6 257.9M760.6 259.3L756.8 258.6M760.5 260.7L757.8 259.9M760.2 262.9L757.3 261.5M759.9 263.8L756.8 262M759.4 265.5L757 263.7M758.5 267.3L756.5 265.3M757.8 268.5L755.8 266.1M756.8 269.8L754.3 266.1M756.3 270.3L753.5 265.8M755.2 271.3L753.8 268.4M753.7 272.3L751.7 266.9M753.1 272.6L751.3 267.2M751.6 273.1L750.6 268.9M750.6 273.3L749.7 267.7M749.3 273.4L748.9 268.2M747.7 273.3L747.8 270M746 272.9L746.7 267.6M744.9 272.4L745.4 269.6" stroke="#000" stroke-width="1.3" fill="none"/>
<path d="M739.6 268.1L740.3 267.1M737.6 265L739.4 263.6M736.2 261.4L738.2 260.7M735.5 258.3L737.2 258.1M735.4 254.3L737.2 254.7M736.1 250.1L737.4 250.8M737.2 247.2L738.9 248.7M738.7 244.7L739.7 246M741.6 242.1L742.7 244.7M743.5 241.2L744.1 243.5M746.4 240.6L746.5 241.9M749.1 240.9L749 242.4" stroke="#000" stroke-width="1.1" fill="none"/>
<path d="M749 269 L760 276.5" fill="none" stroke="#000" stroke-width="5.6" stroke-linecap="butt" stroke-linejoin="round"/>
<path d="M749 269 L760 276.5" fill="none" stroke="#fff" stroke-width="1.8" stroke-linecap="butt" stroke-linejoin="round"/>
<line x1="746" y1="273" x2="750" y2="281.6" stroke="#000" stroke-width="3" stroke-linecap="butt"/>
<ellipse cx="781" cy="243" rx="12" ry="16" fill="#fff" stroke="#000" stroke-width="2.9" transform="rotate(-10 781 243)"/>
<path d="M780.1 254.9h.1M785.1 251.3h.1M787.7 244.9h.1M789.2 247.2h.1M789.9 247.1h.1M789.2 249.1h.1M788.8 250h.1M790.3 242.7h.1M785.8 247.5h.1M784.7 252.1h.1M786.8 253.8h.1M789.3 247.8h.1M787.7 238.6h.1M789.6 239.5h.1M782.5 253.1h.1M787.9 248.7h.1M786.9 246.7h.1M784.3 253.8h.1M783.8 245.6h.1M785.9 245.6h.1M789.4 245.9h.1M787.2 243.4h.1M789.5 245.7h.1M789.7 250.2h.1M782.8 252.7h.1M785.1 245.3h.1M785.5 249.5h.1M785.4 242h.1M789.8 244.3h.1M789.2 243.3h.1M786.6 240.3h.1M788.7 251.8h.1M786 253.5h.1M790 242.8h.1M783.2 252.4h.1M786.9 240.4h.1M789.4 242.7h.1M789.5 245.8h.1M785.6 253.5h.1M789.8 243.9h.1M790 248.2h.1M790.3 242.7h.1" stroke="#000" stroke-width="1.5" stroke-linecap="round" fill="none"/>
<path d="M788.5 232.4L786.4 235.5M789.2 233.3L786.1 237M790.4 235.2L788.3 236.9M791.1 236.8L787.5 239M791.7 238.4L787.7 240.1M792 239.4L788.2 240.6M792.3 240.9L790 241.3M792.6 242.7L789.9 242.8M792.6 244.5L788.5 244M792.5 246.5L790.6 245.9M792.3 248.3L790 247.3M791.9 249.9L789.5 248.4M791.3 251.5L788.2 248.9M790.8 252.6L788.6 250.5M789.9 254.1L788.3 252.1M789 255.2L786.7 251.7M788.3 255.9L786.5 252.7M787.5 256.6L785.7 252.9M786.1 257.5L784.8 253.9M785.1 257.9L783.9 253.5M783.6 258.3L783.1 255.1M782.5 258.4L782.2 255.3M781.4 258.4L781.3 253.4M780 258.1L780.3 253.4M778.5 257.6L779 254.9" stroke="#000" stroke-width="1.3" fill="none"/>
<path d="M773.7 253.9L774.8 252.1M771.5 250.6L772.9 249.5M770.3 247.5L772.3 246.7M769.4 242.8L771.4 242.8M769.5 239.5L771.6 240.1M770.2 235.8L771.9 236.9M772.4 231.5L773.7 233.3M773.5 230.2L774.9 232.5M777.1 228L777.7 230.4M779.7 227.6L779.8 228.9M782.1 227.9L782 229.7" stroke="#000" stroke-width="1.1" fill="none"/>
<path d="M782 254 L793 263" fill="none" stroke="#000" stroke-width="5.6" stroke-linecap="butt" stroke-linejoin="round"/>
<path d="M782 254 L793 263" fill="none" stroke="#fff" stroke-width="1.8" stroke-linecap="butt" stroke-linejoin="round"/>
<line x1="779" y1="258" x2="783" y2="268.1" stroke="#000" stroke-width="3" stroke-linecap="butt"/>
<ellipse cx="955" cy="169" rx="10" ry="13" fill="#fff" stroke="#000" stroke-width="2.9" transform="rotate(-10 955 169)"/>
<path d="M957.9 179h.1M957.9 176.2h.1M959.1 169.3h.1M961.2 174.9h.1M957 174.7h.1M962.7 171.1h.1M957.5 174.8h.1M958.5 176.8h.1M959.8 177.7h.1M960.2 170h.1M957 179h.1M961.2 166.1h.1M957.7 178.9h.1M957.7 173.3h.1M959.7 168.4h.1M958.7 172.8h.1M960.9 172.1h.1M954.9 177.7h.1M959.6 177.9h.1M960.2 165.4h.1M958.6 177.6h.1M961.4 174.1h.1M958.4 166.5h.1M956.1 174.6h.1M956.1 176.6h.1M961.8 173.2h.1M961 172.6h.1M958.2 173.4h.1" stroke="#000" stroke-width="1.5" stroke-linecap="round" fill="none"/>
<path d="M960.9 160L959.3 162.5M962.1 161.5L959.2 164.6M963 163.1L959.8 165.5M963.8 165.1L960.4 166.6M964.2 166.5L961.6 167.2M964.5 168.2L960.3 168.6M964.6 169.9L961.9 169.7M964.5 171.9L961.6 171M964.3 173.2L961.5 171.9M963.9 174.7L960 172.2M963.3 176.3L959.6 173M962.4 177.8L960.8 175.9M961.4 179L958.5 174.3M960.8 179.5L958.4 175.1M959.4 180.5L957.7 176.2M958.5 180.9L957 175.6M957.1 181.3L956.4 177.2M956.1 181.4L955.8 178.3M954 181.2L954.3 177.7M952.7 180.7L953.3 177.7" stroke="#000" stroke-width="1.3" fill="none"/>
<path d="M948.2 176.9L949.3 175.6M946.5 173.7L947.3 173.2M945.6 170.1L947.1 169.9M945.4 167L947.2 167.4M946 163.6L947.2 164.4M947.4 160.6L948.8 162.2M949.5 158.2L950.8 160.6M953.7 156.6L953.9 158.2M956.6 157L956.4 158.2" stroke="#000" stroke-width="1.1" fill="none"/>
<path d="M956 177 L967 191.1" fill="none" stroke="#000" stroke-width="5.6" stroke-linecap="butt" stroke-linejoin="round"/>
<path d="M956 177 L967 191.1" fill="none" stroke="#fff" stroke-width="1.8" stroke-linecap="butt" stroke-linejoin="round"/>
<line x1="953" y1="181" x2="957" y2="196.6" stroke="#000" stroke-width="3" stroke-linecap="butt"/>
<ellipse cx="991" cy="160" rx="12" ry="15" fill="#fff" stroke="#000" stroke-width="2.9" transform="rotate(-10 991 160)"/>
<path d="M995.7 165.9h.1M999.1 165.5h.1M992 171.3h.1M996.7 157.7h.1M998.5 163.8h.1M993.4 167.4h.1M996.6 167.7h.1M998.4 168.4h.1M1000.2 160.9h.1M999.1 167.6h.1M992.2 171.2h.1M996.6 157.4h.1M994.2 168.8h.1M997.7 159.9h.1M992.4 170h.1M999.4 158.8h.1M993.9 171.5h.1M993.6 167.1h.1M998.2 152.9h.1M996.1 168.7h.1M999 161.6h.1M996.4 168.9h.1M998.8 154.2h.1M999.1 167.6h.1M992 170.3h.1M995.9 170.2h.1M998.9 160.8h.1M992 168.1h.1M999.1 164.3h.1M994 168.7h.1M1000.1 160.2h.1M996.7 163.8h.1M995.6 167.3h.1M997 159.7h.1M992.6 168.8h.1M999.1 166.1h.1M994.6 169.7h.1M996.2 158.9h.1M999.3 162.4h.1M999.6 166.5h.1" stroke="#000" stroke-width="1.5" stroke-linecap="round" fill="none"/>
<path d="M998.3 149.6L996.9 151.6M999.6 151.3L996.2 154.7M1000.4 152.6L997.7 154.7M1000.9 153.5L996.9 156.1M1001.7 155.6L999.8 156.4M1002 156.6L997.8 157.9M1002.4 158.5L999.4 158.9M1002.6 159.9L1000.4 159.9M1002.6 161.9L997.9 161.1M1002.4 163.9L999.3 162.8M1002.1 165.1L997.9 163.2M1001.7 166.5L999 164.8M1000.9 168.4L997.8 165.8M1000.2 169.7L998 167.4M999.4 170.7L997.1 167.7M998.5 171.7L996.7 169M997.2 172.8L995.9 170.2M996.2 173.4L994.9 170M995.2 173.8L993.9 169.3M993.3 174.3L992.6 169.6M992.4 174.4L992 170.8M991.2 174.4L991.1 171.3M989.4 174.1L989.9 169.5M988.5 173.8L989.3 169.3" stroke="#000" stroke-width="1.3" fill="none"/>
<path d="M983 169.6L983.7 168.8M980.8 165.9L982.5 164.9M980 163.6L981.3 163.2M979.4 157.7L981 158M980 154.4L981.6 155.2M981.3 151.1L982.2 151.9M983.9 148L984.9 149.6M986.4 146.4L987.1 148.5M988.8 145.7L989.1 147.5M991.4 145.7L991.4 147.4" stroke="#000" stroke-width="1.1" fill="none"/>
<path d="M992 170 L1003 175.1" fill="none" stroke="#000" stroke-width="5.6" stroke-linecap="butt" stroke-linejoin="round"/>
<path d="M992 170 L1003 175.1" fill="none" stroke="#fff" stroke-width="1.8" stroke-linecap="butt" stroke-linejoin="round"/>
<line x1="989" y1="174" x2="993" y2="180.6" stroke="#000" stroke-width="3" stroke-linecap="butt"/>
<ellipse cx="1026" cy="146" rx="11" ry="15" fill="#fff" stroke="#000" stroke-width="2.9" transform="rotate(-10 1026 146)"/>
<path d="M1031.1 149.6h.1M1034.6 148.7h.1M1033.9 149.2h.1M1032.5 150.3h.1M1032.1 151.1h.1M1034.1 150.2h.1M1033.6 148.6h.1M1034.2 150.3h.1M1026.9 153.7h.1M1027.3 154.6h.1M1031.8 147.9h.1M1025.6 157.9h.1M1031.6 154.5h.1M1031 147h.1M1030.9 152.3h.1M1031.5 147.5h.1M1032.9 147.6h.1M1032.9 141.1h.1M1030.5 143.6h.1M1031 156.1h.1M1031.6 141.5h.1M1031.2 149.4h.1M1029.1 149.8h.1M1032 155.9h.1M1027.2 157.5h.1M1033.2 154h.1M1033.3 149.8h.1M1032.5 148.4h.1M1031.8 145.9h.1M1031.3 150.8h.1M1028.2 151.3h.1M1026.1 157.1h.1M1031 151.3h.1M1030.3 149.7h.1M1031 139.8h.1M1033.5 150.2h.1" stroke="#000" stroke-width="1.5" stroke-linecap="round" fill="none"/>
<path d="M1032.5 135.7L1031.3 137.6M1033.8 137.5L1031.3 140.3M1034.5 138.7L1031.8 141M1035.3 140.5L1033.3 141.6M1035.8 141.9L1032.3 143.3M1036.3 143.9L1032.9 144.6M1036.5 145.6L1033.2 145.7M1036.6 147.4L1033 146.9M1036.6 149.3L1033.7 148.4M1036.4 150.9L1033.3 149.5M1036.1 152.2L1032.4 149.9M1035.6 153.6L1033 151.5M1035 155L1032.8 152.7M1034.1 156.5L1032.5 154.3M1033.3 157.5L1031.7 155M1032.5 158.3L1030.5 154.4M1031.3 159.2L1030.2 156.5M1030.4 159.7L1028.8 154.9M1028.8 160.2L1027.8 155.4M1027.8 160.4L1027.2 155.8M1026.5 160.4L1026.3 156.5M1025.2 160.1L1025.4 157.2M1023.4 159.5L1023.9 156.9" stroke="#000" stroke-width="1.3" fill="none"/>
<path d="M1018.9 155.6L1019.7 154.6M1016.6 151.3L1018.5 150.2M1015.6 147.4L1016.8 147.2M1015.4 144.4L1017.1 144.7M1015.9 139.8L1017.6 140.9M1016.9 137.3L1018.3 138.7M1018.7 134.5L1020 136.6M1022 132.2L1022.6 134.3M1023.6 131.7L1024 133.8M1027.6 132.1L1027.3 134.8" stroke="#000" stroke-width="1.1" fill="none"/>
<path d="M1027 156 L1038 159.6" fill="none" stroke="#000" stroke-width="5.6" stroke-linecap="butt" stroke-linejoin="round"/>
<path d="M1027 156 L1038 159.6" fill="none" stroke="#fff" stroke-width="1.8" stroke-linecap="butt" stroke-linejoin="round"/>
<line x1="1024" y1="160" x2="1028" y2="165" stroke="#000" stroke-width="3" stroke-linecap="butt"/>
<ellipse cx="1044" cy="140" rx="9" ry="13" fill="#fff" stroke="#000" stroke-width="2.9" transform="rotate(-10 1044 140)"/>
<path d="M1049.2 139.5h.1M1048.9 146.2h.1M1047.2 148.6h.1M1049.2 135.1h.1M1047.8 144.6h.1M1046.2 140.1h.1M1047.1 141.5h.1M1050.2 144.1h.1M1045.7 141.8h.1M1046.3 142.5h.1M1050 140.1h.1M1050.2 138.9h.1M1045.3 145.2h.1M1049.6 143.2h.1M1045.5 145.2h.1M1045 149.6h.1M1046.2 150.3h.1M1045.9 150.2h.1M1050 138.3h.1M1046.9 143h.1M1047.7 140.3h.1M1047.2 142.3h.1M1048.6 143.5h.1M1047.7 143.8h.1M1048.9 144.9h.1M1048.1 136.1h.1" stroke="#000" stroke-width="1.5" stroke-linecap="round" fill="none"/>
<path d="M1049.6 131.7L1047.5 134.8M1050.5 133.2L1048.8 135M1051.2 134.5L1048.2 136.8M1051.8 136.1L1048.5 137.8M1052.3 138L1050.1 138.6M1052.6 139.8L1049.1 139.9M1052.6 141.6L1050.3 141.2M1052.6 142.8L1049.8 141.9M1052.3 145.2L1048.9 143.1M1051.7 147L1048.4 144M1051.3 148L1049.2 145.7M1050.5 149.4L1047.6 145.2M1049.7 150.3L1048.3 147.7M1048.3 151.5L1046.3 146.1M1047.3 152L1045.7 146.3M1046 152.3L1045.3 147.8M1044.9 152.4L1044.6 148M1043.5 152.2L1043.6 148.8M1042.3 151.7L1042.9 147.1" stroke="#000" stroke-width="1.3" fill="none"/>
<path d="M1038.3 148.2L1038.9 147.3M1036.8 145.3L1038.4 144.1M1035.4 139.5L1037.3 139.6M1035.6 135.7L1036.8 136.3M1036.6 132.2L1037.7 133.4M1038.3 129.6L1039.2 131.1M1041.2 127.8L1041.5 129.3M1043.7 127.7L1043.7 130.5" stroke="#000" stroke-width="1.1" fill="none"/>
<path d="M1045 148 L1056 151.6" fill="none" stroke="#000" stroke-width="5.6" stroke-linecap="butt" stroke-linejoin="round"/>
<path d="M1045 148 L1056 151.6" fill="none" stroke="#fff" stroke-width="1.8" stroke-linecap="butt" stroke-linejoin="round"/>
<line x1="1042" y1="152" x2="1046" y2="157" stroke="#000" stroke-width="3" stroke-linecap="butt"/>
<path d="M748 302 L761.2 297.2" fill="none" stroke="#000" stroke-width="6.4" stroke-linecap="butt" stroke-linejoin="round"/>
<path d="M748 302 L761.2 297.2" fill="none" stroke="#fff" stroke-width="1.8" stroke-linecap="butt" stroke-linejoin="round"/>
<line x1="747" y1="291.8" x2="778" y2="279.1" stroke="#000" stroke-width="3.2" stroke-linecap="butt"/>
<line x1="748" y1="290.8" x2="746" y2="302" stroke="#000" stroke-width="3" stroke-linecap="butt"/>
<ellipse cx="746" cy="302" rx="4.6" ry="3.8" fill="#000"/>
<path d="M784 292 L797.2 287.4" fill="none" stroke="#000" stroke-width="6.4" stroke-linecap="butt" stroke-linejoin="round"/>
<path d="M784 292 L797.2 287.4" fill="none" stroke="#fff" stroke-width="1.8" stroke-linecap="butt" stroke-linejoin="round"/>
<line x1="783" y1="277.1" x2="814" y2="264.4" stroke="#000" stroke-width="3.2" stroke-linecap="butt"/>
<line x1="784" y1="276.1" x2="782" y2="292" stroke="#000" stroke-width="3" stroke-linecap="butt"/>
<ellipse cx="782" cy="292" rx="4.6" ry="3.8" fill="#000"/>
<path d="M830 273 L843.2 268.4" fill="none" stroke="#000" stroke-width="6.4" stroke-linecap="butt" stroke-linejoin="round"/>
<path d="M830 273 L843.2 268.4" fill="none" stroke="#fff" stroke-width="1.8" stroke-linecap="butt" stroke-linejoin="round"/>
<line x1="829" y1="258.3" x2="860" y2="245.6" stroke="#000" stroke-width="3.2" stroke-linecap="butt"/>
<line x1="830" y1="257.3" x2="828" y2="273" stroke="#000" stroke-width="3" stroke-linecap="butt"/>
<ellipse cx="828" cy="273" rx="4.6" ry="3.8" fill="#000"/>
<path d="M872 259 L885.2 254.2" fill="none" stroke="#000" stroke-width="6.4" stroke-linecap="butt" stroke-linejoin="round"/>
<path d="M872 259 L885.2 254.2" fill="none" stroke="#fff" stroke-width="1.8" stroke-linecap="butt" stroke-linejoin="round"/>
<line x1="871" y1="241.1" x2="902" y2="228.4" stroke="#000" stroke-width="3.2" stroke-linecap="butt"/>
<line x1="872" y1="240.1" x2="870" y2="259" stroke="#000" stroke-width="3" stroke-linecap="butt"/>
<ellipse cx="870" cy="259" rx="4.6" ry="3.8" fill="#000"/>
<path d="M913 250 L926.5 244.3" fill="none" stroke="#000" stroke-width="6.4" stroke-linecap="butt" stroke-linejoin="round"/>
<path d="M913 250 L926.5 244.3" fill="none" stroke="#fff" stroke-width="1.8" stroke-linecap="butt" stroke-linejoin="round"/>
<line x1="912" y1="224.3" x2="943" y2="211.6" stroke="#000" stroke-width="3.2" stroke-linecap="butt"/>
<line x1="913" y1="223.3" x2="911" y2="250" stroke="#000" stroke-width="3" stroke-linecap="butt"/>
<ellipse cx="911" cy="250" rx="4.6" ry="3.8" fill="#000"/>
<path d="M948 225 L962 219.6" fill="none" stroke="#000" stroke-width="6.4" stroke-linecap="butt" stroke-linejoin="round"/>
<path d="M948 225 L962 219.6" fill="none" stroke="#fff" stroke-width="1.8" stroke-linecap="butt" stroke-linejoin="round"/>
<line x1="947" y1="210" x2="978" y2="196.2" stroke="#000" stroke-width="3.2" stroke-linecap="butt"/>
<line x1="948" y1="209" x2="946" y2="225" stroke="#000" stroke-width="3" stroke-linecap="butt"/>
<ellipse cx="946" cy="225" rx="4.6" ry="3.8" fill="#000"/>
<path d="M994 205 L1008 199.9" fill="none" stroke="#000" stroke-width="6.4" stroke-linecap="butt" stroke-linejoin="round"/>
<path d="M994 205 L1008 199.9" fill="none" stroke="#fff" stroke-width="1.8" stroke-linecap="butt" stroke-linejoin="round"/>
<line x1="993" y1="189.6" x2="1024" y2="175.8" stroke="#000" stroke-width="3.2" stroke-linecap="butt"/>
<line x1="994" y1="188.6" x2="992" y2="205" stroke="#000" stroke-width="3" stroke-linecap="butt"/>
<ellipse cx="992" cy="205" rx="4.6" ry="3.8" fill="#000"/>
<path d="M1033 186 L1047 180.9" fill="none" stroke="#000" stroke-width="6.4" stroke-linecap="butt" stroke-linejoin="round"/>
<path d="M1033 186 L1047 180.9" fill="none" stroke="#fff" stroke-width="1.8" stroke-linecap="butt" stroke-linejoin="round"/>
<line x1="1032" y1="172.2" x2="1063" y2="158.4" stroke="#000" stroke-width="3.2" stroke-linecap="butt"/>
<line x1="1033" y1="171.2" x2="1031" y2="186" stroke="#000" stroke-width="3" stroke-linecap="butt"/>
<ellipse cx="1031" cy="186" rx="4.6" ry="3.8" fill="#000"/>
<path d="M1075 165 L1089 159.9" fill="none" stroke="#000" stroke-width="6.4" stroke-linecap="butt" stroke-linejoin="round"/>
<path d="M1075 165 L1089 159.9" fill="none" stroke="#fff" stroke-width="1.8" stroke-linecap="butt" stroke-linejoin="round"/>
<line x1="1074" y1="153.6" x2="1105" y2="139.8" stroke="#000" stroke-width="3.2" stroke-linecap="butt"/>
<line x1="1075" y1="152.6" x2="1073" y2="165" stroke="#000" stroke-width="3" stroke-linecap="butt"/>
<ellipse cx="1073" cy="165" rx="4.6" ry="3.8" fill="#000"/>
<path d="M700 302 L947 201 L1064 149" fill="none" stroke="#000" stroke-width="10" stroke-linecap="butt" stroke-linejoin="round"/>
<path d="M700 302 L947 201 L1064 149" fill="none" stroke="#fff" stroke-width="4.4" stroke-linecap="butt" stroke-linejoin="round"/>
<path d="M712 301.6l0.8 2.4M717 299.5l0.8 2.4M722 297.5l0.8 2.4M727 295.5l0.8 2.4M732 293.4l0.8 2.4M737 291.4l0.8 2.4M742 289.3l0.8 2.4M747 287.3l0.8 2.4M752 285.2l0.8 2.4M757 283.2l0.8 2.4M762 281.1l0.8 2.4M767 279.1l0.8 2.4M772 277.1l0.8 2.4M777 275l0.8 2.4M782 273l0.8 2.4M787 270.9l0.8 2.4M792 268.9l0.8 2.4M797 266.8l0.8 2.4M802 264.8l0.8 2.4M807 262.7l0.8 2.4M812 260.7l0.8 2.4M817 258.7l0.8 2.4M822 256.6l0.8 2.4M827 254.6l0.8 2.4M832 252.5l0.8 2.4M837 250.5l0.8 2.4M842 248.4l0.8 2.4M847 246.4l0.8 2.4M852 244.3l0.8 2.4M857 242.3l0.8 2.4M862 240.3l0.8 2.4M867 238.2l0.8 2.4M872 236.2l0.8 2.4M877 234.1l0.8 2.4M882 232.1l0.8 2.4M887 230l0.8 2.4M892 228l0.8 2.4M897 225.9l0.8 2.4M902 223.9l0.8 2.4M907 221.9l0.8 2.4M912 219.8l0.8 2.4M917 217.8l0.8 2.4M922 215.7l0.8 2.4M927 213.7l0.8 2.4M932 211.6l0.8 2.4M937 209.6l0.8 2.4M942 207.5l0.8 2.4M947 205.5l0.8 2.4M952 203.3l0.8 2.4M957 201.1l0.8 2.4M962 198.8l0.8 2.4M967 196.6l0.8 2.4M972 194.4l0.8 2.4M977 192.2l0.8 2.4M982 189.9l0.8 2.4M987 187.7l0.8 2.4M992 185.5l0.8 2.4M997 183.3l0.8 2.4M1002 181.1l0.8 2.4M1007 178.8l0.8 2.4M1012 176.6l0.8 2.4M1017 174.4l0.8 2.4M1022 172.2l0.8 2.4M1027 169.9l0.8 2.4M1032 167.7l0.8 2.4M1037 165.5l0.8 2.4M1042 163.3l0.8 2.4M1047 161.1l0.8 2.4M1052 158.8l0.8 2.4M1057 156.6l0.8 2.4" stroke="#000" stroke-width="1.5"/>
<path d="M1072 153 L1102 141" stroke="#000" stroke-width="2.6" stroke-dasharray="3 1.6"/>
<path d="M1066 158 L1090 148" stroke="#000" stroke-width="3"/>
<ellipse cx="770" cy="313" rx="16" ry="22" fill="#fff" stroke="#000" stroke-width="2.9" transform="rotate(-15 770 313)"/>
<path d="M779.1 315.9h.1M774.3 322.7h.1M775.8 329.9h.1M774.9 325.5h.1M780.9 324.6h.1M771 330.9h.1M782.4 316.3h.1M770.9 329.1h.1M777.9 319.3h.1M777.6 319.6h.1M776.7 324.9h.1M772.9 318.5h.1M775 328.3h.1M780.6 311.7h.1M777.6 315.1h.1M780.5 321.6h.1M774 324.5h.1M775.5 321.3h.1M782.3 317.3h.1M775.6 321.2h.1M774.2 323.6h.1M776.7 318.3h.1M776.2 326.6h.1M779.7 326.7h.1M779.7 309.8h.1M776.5 322.5h.1M777.8 326.8h.1M772.6 320.3h.1M776.5 326.7h.1M767.6 328h.1M775.9 326.1h.1M775.5 323.3h.1M781.5 322.5h.1M778 323.9h.1M777 312.4h.1M772.4 326.2h.1M781 309h.1M778 317.5h.1M778.6 320.9h.1M781.3 322.4h.1M777 312h.1M777.4 314.6h.1M778.7 312.9h.1M772.4 326.7h.1M782 312.1h.1M772.3 325.7h.1M782.8 317.7h.1M776.8 322.3h.1M772.8 327.5h.1M782.7 316.9h.1M776 323.3h.1M782.9 315h.1M777.5 319.1h.1M780.3 326.5h.1M776.9 323.3h.1M768.5 330.3h.1M768 328.3h.1M776.3 322.7h.1M780.6 309.7h.1M779.5 322.8h.1M773 325.2h.1M776.4 317.5h.1M771.5 324.5h.1M779.8 311.8h.1M779.3 313.6h.1M782.9 315.2h.1M768.8 327.4h.1M778.6 327h.1M773.8 320.2h.1M778.3 318.1h.1M780.3 323.2h.1M778.5 313.4h.1M776.3 329.7h.1M778.6 321.2h.1M777.9 323.1h.1M781.5 318.9h.1M777.8 315.2h.1M780.9 313h.1M774.6 327.9h.1M780.1 319.7h.1" stroke="#000" stroke-width="1.4" stroke-linecap="round" fill="none"/>
<path d="M778.1 297.5L775.9 301.8M779.4 298.9L777.6 301.6M781 301.1L778.3 304.1M781.8 302.5L779.7 304.4M782.6 304.1L779.6 306.2M783.8 307L781.3 308.1M784.5 309.1L780.5 310.2M784.8 310.5L781.2 311.1M785.2 312.7L781 312.8M785.4 315.2L783.3 314.9M785.5 317.2L782.9 316.5M785.2 320.2L782.2 318.8M785 321.2L782.7 319.9M784.3 323.9L781.2 321.5M783.9 325.2L781.5 323.1M782.8 327.4L779.6 323.8M782.1 328.4L779 324.4M780.9 329.9L778.8 326.7M779.6 331.1L777.1 326.5M778.3 332L776.6 328.1M776.7 332.8L775.3 328.8M775 333.4L773.7 328M773.6 333.6L772.7 328.5M772.1 333.6L771.7 329.9M770.6 333.5L770.5 330M768.5 332.9L768.7 329.7" stroke="#000" stroke-width="1.3" fill="none"/>
<ellipse cx="806" cy="304" rx="17.6" ry="24.6" fill="#000" transform="rotate(-8.3 806 304)"/>
<polygon points="791,312 806.3,335.3 814.6,334.1 822.6,307.4" fill="#000"/>
<line x1="808.7" y1="322.2" x2="812.6" y2="349.3" stroke="#000" stroke-width="8.4" stroke-linecap="butt"/>
<ellipse cx="812.6" cy="349.3" rx="5.8" ry="8.1" fill="#000" transform="rotate(-8.3 812.6 349.3)"/>
<ellipse cx="806" cy="304" rx="14.4" ry="21.4" fill="#fff" transform="rotate(-8.3 806 304)"/>
<polygon points="794.1,311.5 809.4,334.8 811.6,334.5 819.5,307.8" fill="#fff"/>
<line x1="808.7" y1="322.2" x2="812.6" y2="349.3" stroke="#fff" stroke-width="3.4" stroke-linecap="butt"/>
<ellipse cx="812.6" cy="349.3" rx="3.4" ry="5.4" fill="#fff" transform="rotate(-8.3 812.6 349.3)"/>
<path d="M797.7 319.9h.1M809.1 322.2h.1M815.3 315.7h.1M813.7 322.2h.1M805 320.2h.1M799.2 318.8h.1M813.4 319.7h.1M806.2 315.4h.1M812 312.6h.1M809.5 314.2h.1M816.6 320h.1M812.9 312.2h.1M807.8 325.1h.1M815 317.4h.1M813.2 322.4h.1M807.9 321.6h.1M801.3 318.6h.1M812.1 310.6h.1M801.8 324.7h.1M818.1 318.7h.1M804.4 319.4h.1M806.3 324.2h.1M808.5 321.4h.1M814.6 317.7h.1M807.6 321.8h.1M816.9 316.5h.1M803 321.5h.1M808.6 324.4h.1M807.4 313.2h.1M809 326.2h.1M803.2 322.5h.1M811.8 326.2h.1M796.6 314.5h.1M817.2 309.9h.1M813.7 318.6h.1M815.9 315.7h.1M816.2 315.1h.1M812.5 319.4h.1M817.5 313.9h.1M816.8 318.8h.1M816 317.2h.1M811.4 324.2h.1M818 307.6h.1M796.7 318.2h.1M812.3 318h.1M810.7 318.5h.1M812.1 311.2h.1M797.8 318.2h.1M803.8 317.8h.1M813.2 322.6h.1M818.2 312.8h.1M804.6 313.1h.1M816.3 320.7h.1M811.2 324.4h.1M818.1 316.3h.1M810.3 320.3h.1M809.7 316.6h.1M807.7 322.4h.1M805.6 320.5h.1M804.8 321.5h.1M802.5 323.6h.1M818.1 319.2h.1M801.8 319.3h.1M802.7 322.3h.1M805.6 318.4h.1M812.3 320.3h.1" stroke="#000" stroke-width="1.4" stroke-linecap="round" fill="none"/>
<path d="M821.2 306.8L819.4 306.5M821.1 308.9L819 308.2M820.8 311.1L819.1 310.3M820.2 313.8L818.2 312.4M819.7 315.7L816.9 313.3M818.8 317.8L816.4 315.3M818.2 319L816.4 316.8M816.5 321.4L814.5 318.1M815.2 322.8L813.7 319.7M814.1 323.7L813.2 321.5M812.4 324.7L810.9 319.9M810.9 325.4L810.4 323M809.8 325.7L809.2 321.8M807.4 325.9L807.2 323M806.3 325.8L806.3 321.1M804.4 325.4L804.8 320.2M803 324.8L803.6 320.6M800.8 323.6L801.7 320.4M799.3 322.4L800.2 319.8M798.4 321.6L799.7 318.7M796.5 319.4L798.6 316.1M795.1 317.4L797.5 314.5M794.1 315.5L796.8 312.9M793.3 313.9L796 311.7M792.3 311.2L793.9 310.4" stroke="#000" stroke-width="1.3" fill="none"/>
<path d="M790.8 301.2L791.9 301.4M791.6 295L793.5 296.2M792.4 292.2L793.8 293.4M794 288.7L795.2 290.2M797.1 285L798 287M800.3 282.9L800.7 284.4M803.4 282.2L803.7 284.9M807 282.5L806.9 285.2M810.4 283.9L809.8 286.5M813.2 286L812.6 287.6M817.4 291.5L816.5 292.4M819.3 295.7L818.5 296.2" stroke="#000" stroke-width="1.1" fill="none"/>
<ellipse cx="852" cy="285" rx="17.6" ry="24.6" fill="#000" transform="rotate(-7.8 852 285)"/>
<polygon points="837,292.9 852.1,316.3 860.4,315.1 868.6,288.5" fill="#000"/>
<line x1="854.5" y1="303.2" x2="858.6" y2="333.3" stroke="#000" stroke-width="8.4" stroke-linecap="butt"/>
<ellipse cx="858.6" cy="333.3" rx="5.8" ry="8.1" fill="#000" transform="rotate(-7.8 858.6 333.3)"/>
<ellipse cx="852" cy="285" rx="14.4" ry="21.4" fill="#fff" transform="rotate(-7.8 852 285)"/>
<polygon points="840.1,292.4 855.1,315.9 857.3,315.6 865.5,288.9" fill="#fff"/>
<line x1="854.5" y1="303.2" x2="858.6" y2="333.3" stroke="#fff" stroke-width="3.4" stroke-linecap="butt"/>
<ellipse cx="858.6" cy="333.3" rx="3.4" ry="5.4" fill="#fff" transform="rotate(-7.8 858.6 333.3)"/>
<path d="M861 300.1h.1M852.5 304.8h.1M860.7 297.6h.1M856.9 297.7h.1M852.2 298.8h.1M855 294.7h.1M850.1 307.4h.1M849.9 301.6h.1M843.4 298.9h.1M860.9 301h.1M850.4 300.8h.1M859.6 302.5h.1M862.9 302.4h.1M859.5 295.4h.1M845.9 303.7h.1M855.7 305.6h.1M858.6 303.2h.1M855.6 306.8h.1M855.3 303.6h.1M846.7 294.5h.1M858.7 299.9h.1M846.3 304.7h.1M857 299h.1M859.5 293.3h.1M864.1 293h.1M864.4 293.5h.1M848 296.4h.1M855.2 299.1h.1M856.6 291.9h.1M845.7 295.8h.1M855.5 306.9h.1M857.2 302.6h.1M850.3 304.3h.1M842.7 299.4h.1M852.8 298.7h.1M852.4 298.9h.1M863.3 299h.1M849.1 306.4h.1M861.9 303.7h.1M854 302h.1M857.9 297.6h.1M848.3 302.8h.1M861.8 301h.1M863.7 291.9h.1M858.5 300.8h.1M852.5 292.8h.1M859.6 292.1h.1M851.5 305.9h.1M856.4 298.7h.1M863.1 291.3h.1M862.6 293.8h.1M856.3 307h.1M842.9 297.4h.1M857.4 302.8h.1M857.6 296.6h.1M852.2 307.8h.1M859.8 300.4h.1M863.8 295.6h.1M850.4 304.6h.1M857.5 304.3h.1M849 294.5h.1M853.4 307.9h.1M854.5 301.6h.1M861.7 294.3h.1M851 298.3h.1M855.4 302.5h.1" stroke="#000" stroke-width="1.4" stroke-linecap="round" fill="none"/>
<path d="M867.2 287.2L865.5 286.9M867.1 289.7L864.5 288.9M866.8 291.9L865.1 291.1M866.2 294.8L864.7 293.8M865.6 296.6L864 295.3M864.5 299.2L862.1 296.5M863.7 300.6L861.9 298.1M862.9 301.8L860.6 298.2M861.7 303.2L860.4 300.7M859.7 304.9L858.3 301.2M858.6 305.6L857.8 302.9M857.2 306.2L856 301.4M855.5 306.7L854.9 303.2M853.2 306.9L853 302.1M852.2 306.8L852.2 303.9M850.7 306.5L850.8 303.8M849 305.9L849.7 301.2M846.9 304.7L847.8 301.2M845.4 303.6L846.4 300.8M844.3 302.6L845.4 300.1M842.9 301L844.4 298.3M841.1 298.5L843.6 295.4M840 296.6L842.3 294.4M839.2 294.6L841.6 292.8M838.2 291.8L841.3 290.2" stroke="#000" stroke-width="1.3" fill="none"/>
<path d="M836.8 282.9L838.2 283.1M837.6 276.1L838.8 276.8M839.3 271.1L840.9 272.8M840.2 269.6L841.7 271.5M843.5 265.7L844 266.8M846.9 263.7L847.3 265.4M850.8 263.1L850.9 265.1M854.3 263.8L854.1 266M857.1 265.2L856.4 267.6M860.9 268.7L860 270.4M862.3 270.6L860.9 272.4M864.8 275.2L863.5 276.2" stroke="#000" stroke-width="1.1" fill="none"/>
<ellipse cx="894" cy="270" rx="17.6" ry="23.6" fill="#000" transform="rotate(-3.9 894 270)"/>
<polygon points="878.5,276.6 891.9,300.2 900.2,299.6 910.3,274.4" fill="#000"/>
<line x1="895.2" y1="287.6" x2="896.8" y2="311.3" stroke="#000" stroke-width="8.4" stroke-linecap="butt"/>
<ellipse cx="896.8" cy="311.3" rx="5.8" ry="8.1" fill="#000" transform="rotate(-3.9 896.8 311.3)"/>
<ellipse cx="894" cy="270" rx="14.4" ry="20.4" fill="#fff" transform="rotate(-3.9 894 270)"/>
<polygon points="881.6,276.4 894.9,300 897.1,299.9 907.2,274.6" fill="#fff"/>
<line x1="895.2" y1="287.6" x2="896.8" y2="311.3" stroke="#fff" stroke-width="3.4" stroke-linecap="butt"/>
<ellipse cx="896.8" cy="311.3" rx="3.4" ry="5.4" fill="#fff" transform="rotate(-3.9 896.8 311.3)"/>
<path d="M901.6 280.6h.1M896.1 278.8h.1M896.4 280.6h.1M905.3 282.3h.1M889.2 286.3h.1M893.4 282.5h.1M890.9 289h.1M901.8 283.7h.1M895.6 285.9h.1M892.8 289.3h.1M898 290.9h.1M890.1 286.8h.1M886.5 280.9h.1M891.6 291.7h.1M893.2 291.7h.1M887 286.7h.1M901.7 283.5h.1M889.7 285.3h.1M891.1 290.2h.1M891.8 291.8h.1M896.7 291.9h.1M899.2 283h.1M903 279.4h.1M894.9 278.1h.1M892.4 289.5h.1M887.2 281.8h.1M891.2 289.7h.1M901.4 283.9h.1M887.4 284.6h.1M891.6 289.9h.1M895 286.2h.1M897.5 279.2h.1M898.8 282.3h.1M896.3 286h.1M890.8 289h.1M902.3 280.5h.1M902.1 283.6h.1M892.4 284.1h.1M906.4 277.2h.1M893.5 289h.1M897 287.5h.1M903.3 287.5h.1M893.9 286.4h.1M895.9 291.9h.1M887.6 282.7h.1M891.3 279.9h.1M904.2 285.8h.1M897.7 283.6h.1M889.3 287.6h.1M902.1 286.4h.1M897.9 290.7h.1M899.1 284.7h.1M897.5 282.9h.1M904.7 282.7h.1M897.1 288h.1M890.4 286.8h.1M896.5 287.5h.1M893.1 277.1h.1M899.6 287.9h.1M889.8 290.3h.1M902.8 280.5h.1M887 288.2h.1M888.3 280.9h.1M897.7 288.3h.1" stroke="#000" stroke-width="1.4" stroke-linecap="round" fill="none"/>
<path d="M908.9 273.4L906 272.7M908.6 275.7L906 274.6M908.3 277.2L906.7 276.4M907.4 280.4L904.7 278.3M906.5 282.5L904.8 280.8M905.6 284.1L903.8 281.8M904.6 285.6L902.9 283.1M903.7 286.6L901.4 282.6M901.9 288.4L900.3 284.6M900.7 289.2L899.8 286.8M899.3 289.9L898.2 285.7M897.7 290.6L896.9 286.5M895.7 290.9L895.5 288.5M893.7 290.9L893.7 286.6M891.9 290.6L892.5 285.4M890.3 290.1L891.2 285.3M888.9 289.4L889.6 286.8M887.9 288.7L888.8 285.9M886.5 287.6L888.1 283.9M884.5 285.6L886.1 282.9M883.6 284.5L886.3 280.8M882.4 282.6L884.8 280M881.3 280.4L883 279M880.4 277.9L883.1 276.3M879.8 276.1L881.9 275.2" stroke="#000" stroke-width="1.3" fill="none"/>
<path d="M879.1 265.8L880.8 266.3M879.7 262.5L880.9 263.1M881.2 258.2L882.4 259.4M884.2 253.5L884.9 254.6M887.2 250.9L887.8 252.6M889.7 249.6L890.2 252M892.6 249L892.7 250.5M897.1 249.7L896.7 252.3M900.4 251.5L899.9 253M903.1 253.9L901.8 256.2M906 258.2L905.2 258.9M907.8 262.5L905.9 263.5" stroke="#000" stroke-width="1.1" fill="none"/>
<ellipse cx="935" cy="258" rx="17.1" ry="20.6" fill="#000"/>
<polygon points="919.5,262.8 930.8,285 939.2,285 950.5,262.8" fill="#000"/>
<line x1="935" y1="273.2" x2="935" y2="293.3" stroke="#000" stroke-width="8.4" stroke-linecap="butt"/>
<ellipse cx="935" cy="293.3" rx="5.8" ry="8.1" fill="#000"/>
<ellipse cx="935" cy="258" rx="13.9" ry="17.4" fill="#fff"/>
<polygon points="922.6,262.8 933.9,285 936.1,285 947.4,262.8" fill="#fff"/>
<line x1="935" y1="273.2" x2="935" y2="293.3" stroke="#fff" stroke-width="3.4" stroke-linecap="butt"/>
<ellipse cx="935" cy="293.3" rx="3.4" ry="5.4" fill="#fff"/>
<path d="M933.5 265.4h.1M927.1 271.7h.1M929.1 270.2h.1M927.5 271.5h.1M926.5 267.5h.1M930.7 271.5h.1M944.8 265.3h.1M929.5 275.2h.1M936.6 272.6h.1M929.3 272h.1M936.8 270.3h.1M945.9 266.7h.1M939.3 271.5h.1M939.3 272.5h.1M930.6 270.1h.1M946.1 265.1h.1M940.4 270.1h.1M940.5 273.5h.1M929.4 268.1h.1M934 267.8h.1M936.6 265.2h.1M944.1 267.6h.1M933.8 274.3h.1M942.9 269.5h.1M939 271.3h.1M943.7 271.2h.1M934.3 272.8h.1M938.1 276.4h.1M931.4 273h.1M940.5 267.8h.1M928.5 270.9h.1M937.9 276.1h.1M945.5 265.5h.1M932.9 267.6h.1M936.8 271.6h.1M940.9 273.1h.1M930.4 265.6h.1M935.1 272.3h.1M936.5 270.2h.1M938.6 268.5h.1M932.9 273.4h.1M926.8 271h.1M936.3 271.3h.1M942 271.6h.1M937.7 271.5h.1M936.4 271.7h.1M938.3 266h.1M933.5 267.5h.1M940.3 270.8h.1M933.1 274.4h.1M939.5 262.7h.1M935.6 272.4h.1M943.5 270.2h.1" stroke="#000" stroke-width="1.4" stroke-linecap="round" fill="none"/>
<path d="M949.2 261.9L945.4 260.8M948.9 263.2L946.4 262.3M948 266L944.9 264.1M947.5 267L946 265.9M946.5 268.9L944.7 267.2M945 271.1L943.5 269.2M943.7 272.4L941.1 268.1M942.9 273.1L941.4 270.2M940.8 274.5L939.7 271.4M939.2 275.2L938.6 272.7M938.1 275.6L937.5 272.2M935.7 276L935.6 273.3M934.9 276L934.9 273.7M932.6 275.8L932.9 273.3M930.8 275.2L931.5 272.3M929.8 274.8L930.5 272.5M928.1 273.9L929 271.8M927 273L928.9 269.4M925.1 271.1L926.5 269.2M924.1 269.9L926 267.8M923.2 268.5L925.8 266.2M922.3 266.6L925.4 264.5M921.5 264.7L923.3 263.8M921.1 263L924.1 261.9" stroke="#000" stroke-width="1.3" fill="none"/>
<path d="M921.1 252.8L922.5 253.3M922.3 249.2L923.2 249.8M924.5 245.5L925.9 247.2M925.7 244.2L926.9 245.9M929.4 241.4L929.8 242.9M933.3 240.1L933.5 242.3M937 240.2L936.7 242.3M940.2 241.2L939.6 243.1M942.1 242.3L941.4 244M944.3 244.2L943.5 245.4M947.1 248.1L945.3 249.5M948.9 252.8L946.9 253.6" stroke="#000" stroke-width="1.1" fill="none"/>
<ellipse cx="970" cy="234" rx="16.1" ry="21.6" fill="#000" transform="rotate(-3.5 970 234)"/>
<polygon points="955.7,239.9 967.5,262.2 975.9,261.7 984.9,238.1" fill="#000"/>
<line x1="971" y1="250" x2="972.8" y2="280.3" stroke="#000" stroke-width="8.4" stroke-linecap="butt"/>
<ellipse cx="972.8" cy="280.3" rx="5.8" ry="8.1" fill="#000" transform="rotate(-3.5 972.8 280.3)"/>
<ellipse cx="970" cy="234" rx="12.9" ry="18.4" fill="#fff" transform="rotate(-3.5 970 234)"/>
<polygon points="958.8,239.7 970.6,262 972.8,261.9 981.8,238.3" fill="#fff"/>
<line x1="971" y1="250" x2="972.8" y2="280.3" stroke="#fff" stroke-width="3.4" stroke-linecap="butt"/>
<ellipse cx="972.8" cy="280.3" rx="3.4" ry="5.4" fill="#fff" transform="rotate(-3.5 972.8 280.3)"/>
<path d="M968.1 250.6h.1M976.9 240h.1M969.7 246h.1M976.3 247.9h.1M976.7 245.1h.1M967.9 247.2h.1M974.5 240.8h.1M974.3 251.5h.1M969.2 243.6h.1M973.3 247h.1M971 252.1h.1M971 250.3h.1M967.3 243.1h.1M971.6 247.5h.1M966.6 250.5h.1M963.7 243.2h.1M964.5 246.7h.1M972.3 252.7h.1M970.9 249.9h.1M969.5 250.2h.1M961.9 247h.1M965.5 248.6h.1M971.3 247.7h.1M964.5 249.4h.1M980.7 242.6h.1M968.6 252.1h.1M962.4 248h.1M967.6 252.9h.1M976.2 248.7h.1M967.7 250.4h.1M968.4 250.6h.1M971.7 251.3h.1M974.7 246.6h.1M976.2 251.9h.1M973.5 244.5h.1M973.7 249.7h.1M973.7 244.5h.1M969.9 251.8h.1M976.2 250.5h.1M976.6 242.5h.1M979.8 244.5h.1M974.5 248.6h.1M974.5 252h.1M962.5 247.7h.1M977.7 245.2h.1M970.5 253.8h.1M974.4 249.3h.1M973.1 250.8h.1M963.7 244.1h.1M972.7 240.1h.1M965.9 252.4h.1M974.1 251.8h.1" stroke="#000" stroke-width="1.4" stroke-linecap="round" fill="none"/>
<path d="M983.4 237.5L980.6 236.8M983 240L980.3 238.8M982.7 241.4L981 240.5M982.1 243.3L980.4 242M981.1 245.5L978.3 242.6M980.4 246.8L979 245.1M979 248.7L976.7 245M977.8 249.9L975.8 245.9M975.8 251.5L974.6 247.9M974.7 252.1L973.9 249.1M973.3 252.6L972.4 247.7M971.1 253L970.8 247.6M970.3 253L970.2 250.4M967.9 252.6L968.5 247.4M966.4 252.1L967.1 248.6M964.6 251.1L965.5 248.2M963.4 250.2L964.2 248.2M962.3 249.2L963.9 246M960.6 247.1L961.8 245.4M959.7 245.7L962 243.1M958.8 244L961.6 241.5M957.9 241.8L960 240.5M957.1 239.1L959.8 238" stroke="#000" stroke-width="1.3" fill="none"/>
<path d="M956.6 230.9L958.3 231.3M957.4 226.2L958.9 227.1M958.9 222.6L959.6 223.4M961.5 218.7L962.9 221.1M964 216.6L964.9 219.2M967.8 215.2L968 216.5M971.7 215.3L971.4 218.1M974.5 216.4L974 218.2M977.4 218.5L976.8 219.7M980 221.9L978.9 223.2M982.5 227.6L980.6 228.6" stroke="#000" stroke-width="1.1" fill="none"/>
<ellipse cx="1016" cy="215" rx="16.1" ry="22.6" fill="#000" transform="rotate(1.1 1016 215)"/>
<polygon points="1001.3,220 1011.2,243.9 1019.6,244.1 1030.5,220.5" fill="#000"/>
<line x1="1015.7" y1="231.8" x2="1015.1" y2="262.3" stroke="#000" stroke-width="8.4" stroke-linecap="butt"/>
<ellipse cx="1015.1" cy="262.3" rx="5.8" ry="8.1" fill="#000" transform="rotate(1.1 1015.1 262.3)"/>
<ellipse cx="1016" cy="215" rx="12.9" ry="19.4" fill="#fff" transform="rotate(1.1 1016 215)"/>
<polygon points="1004.4,220 1014.3,244 1016.5,244 1027.4,220.5" fill="#fff"/>
<line x1="1015.7" y1="231.8" x2="1015.1" y2="262.3" stroke="#fff" stroke-width="3.4" stroke-linecap="butt"/>
<ellipse cx="1015.1" cy="262.3" rx="3.4" ry="5.4" fill="#fff" transform="rotate(1.1 1015.1 262.3)"/>
<path d="M1016.9 234.4h.1M1013.5 230.7h.1M1013.7 230.5h.1M1023.9 223.1h.1M1016 233.2h.1M1017.7 222.3h.1M1016.8 230.7h.1M1020.4 230.8h.1M1021.8 225.9h.1M1012.8 228.7h.1M1014.4 223.6h.1M1021 226.8h.1M1019.2 235.1h.1M1008.6 227.1h.1M1021.6 228.8h.1M1018.9 234.9h.1M1013.1 225.5h.1M1011.9 233.5h.1M1013.6 232.6h.1M1016.4 231.9h.1M1014.8 233.3h.1M1022 226.6h.1M1015.3 223.8h.1M1020.6 232.6h.1M1022.5 226.5h.1M1018.2 233.2h.1M1013.6 230.4h.1M1013.6 231.5h.1M1017.5 226.4h.1M1020.7 228.2h.1M1013.2 233h.1M1015.4 232.3h.1M1018 226.9h.1M1016.4 235.9h.1M1010.6 230.9h.1M1024.1 226.5h.1M1008.4 231.6h.1M1021.7 232.2h.1M1019.5 232.6h.1M1014.5 227.7h.1M1020.3 229h.1M1019.9 233.5h.1M1010.5 232.9h.1M1013.4 225.3h.1M1016.2 235h.1M1016.6 231.8h.1M1018.2 230.2h.1M1021.3 233.8h.1M1006.9 228.5h.1M1016.6 233.7h.1M1026.1 223.8h.1M1013.3 229.6h.1M1019.4 231.8h.1M1006.2 227.2h.1M1013.5 233.4h.1" stroke="#000" stroke-width="1.4" stroke-linecap="round" fill="none"/>
<path d="M1029.1 219.5L1027.3 218.9M1028.5 222.3L1026.6 221.2M1027.7 224.6L1026.3 223.5M1027.1 226L1025.7 224.6M1026.2 227.8L1024.5 225.6M1025.3 229.3L1024.2 227.7M1023.7 231.3L1022.7 229.3M1022.3 232.6L1021.3 229.9M1021.2 233.3L1020.5 231.1M1019 234.4L1018.3 230M1017.8 234.8L1017.4 230.1M1016.3 235L1016.3 232.7M1013.9 234.8L1014.4 230.5M1012.9 234.5L1013.7 229.9M1011.3 233.9L1012.5 229.3M1009.3 232.5L1010.8 228.7M1008.2 231.5L1009.5 228.8M1006.9 229.9L1009.1 226.2M1005.6 227.9L1007 226.2M1004.7 226.2L1006.4 224.5M1004.1 224.8L1006.8 222.6M1003.4 222.6L1006.1 221M1003 220.5L1004.8 219.7" stroke="#000" stroke-width="1.3" fill="none"/>
<path d="M1003.2 209.2L1004.5 209.8M1004.3 205.3L1005.2 206M1007 200.4L1008.2 202.3M1009.4 197.7L1010.4 200.1M1011.6 196.2L1012.2 198.5M1014.8 195.1L1014.9 196.6M1018.4 195.3L1018.2 197.3M1023.1 197.8L1022.3 199.8M1025.1 200L1024.3 201.3M1027.8 205L1026.2 206.4M1028.9 208.9L1028.1 209.3" stroke="#000" stroke-width="1.1" fill="none"/>
<ellipse cx="1055" cy="196" rx="16.1" ry="22.6" fill="#000" transform="rotate(-2.3 1055 196)"/>
<polygon points="1040.6,201.8 1052,225.1 1060.4,224.8 1069.8,200.7" fill="#000"/>
<line x1="1055.7" y1="212.8" x2="1056.9" y2="243.3" stroke="#000" stroke-width="8.4" stroke-linecap="butt"/>
<ellipse cx="1056.9" cy="243.3" rx="5.8" ry="8.1" fill="#000" transform="rotate(-2.3 1056.9 243.3)"/>
<ellipse cx="1055" cy="196" rx="12.9" ry="19.4" fill="#fff" transform="rotate(-2.3 1055 196)"/>
<polygon points="1043.7,201.7 1055.1,225 1057.3,224.9 1066.7,200.8" fill="#fff"/>
<line x1="1055.7" y1="212.8" x2="1056.9" y2="243.3" stroke="#fff" stroke-width="3.4" stroke-linecap="butt"/>
<ellipse cx="1056.9" cy="243.3" rx="3.4" ry="5.4" fill="#fff" transform="rotate(-2.3 1056.9 243.3)"/>
<path d="M1050.3 209.2h.1M1053.8 209.4h.1M1049.5 209.2h.1M1059.4 214.5h.1M1051.7 208.3h.1M1056 213.5h.1M1063.8 203.7h.1M1058.7 208.3h.1M1056.7 217h.1M1060.6 214.1h.1M1057.6 202.5h.1M1055.2 214.1h.1M1055.9 208.8h.1M1051.1 206.1h.1M1062.1 211.8h.1M1061.8 206.9h.1M1065.4 206.4h.1M1064.1 207.2h.1M1051.4 216.2h.1M1065.4 203.1h.1M1058.7 204.1h.1M1051.8 216h.1M1054.4 204.7h.1M1046.9 209.6h.1M1052.8 215.2h.1M1056.2 213.7h.1M1053.1 210.3h.1M1056.4 206.8h.1M1052.6 207.3h.1M1057.6 202h.1M1055.2 210.1h.1M1054.3 213.9h.1M1063.6 206.9h.1M1048.6 210.4h.1M1056.1 211.1h.1M1051.8 206.1h.1M1054.1 216.8h.1M1061.3 207.7h.1M1050.7 207.9h.1M1048.4 211.3h.1M1061.2 211h.1M1064.6 202.6h.1M1062.3 209.5h.1M1051.4 212.5h.1M1057.3 216.8h.1M1054 214.7h.1M1065.1 200h.1M1062.4 201.3h.1M1061.2 208.3h.1M1064.4 204.9h.1M1051.4 213.7h.1M1054.5 207.9h.1M1047.2 210.3h.1M1052.4 205.8h.1M1065.9 203.5h.1" stroke="#000" stroke-width="1.4" stroke-linecap="round" fill="none"/>
<path d="M1068.4 199.6L1065.8 198.9M1067.9 202.5L1065.8 201.4M1067.5 204.3L1065.1 202.7M1066.7 206.6L1064.5 204.6M1065.7 208.7L1063.5 206.1M1064.6 210.5L1062.4 207.2M1063.7 211.7L1062.6 209.8M1062.4 213.1L1060.5 208.8M1060.6 214.4L1059.2 209.9M1059.2 215.2L1058.4 211.5M1057.6 215.7L1057 211.7M1055.8 216L1055.7 213.3M1054.4 215.9L1054.5 210.8M1053 215.7L1053.3 212.2M1051.2 215L1052.2 210M1049.3 213.8L1050.1 211.2M1048.1 212.8L1049.8 208.6M1046.7 211.4L1047.9 209.2M1045.6 209.9L1047.9 206.5M1044.4 207.9L1046.6 205.4M1043.5 205.9L1046 203.7M1042.6 203.4L1045.8 201.4M1042.3 202.2L1045.5 200.7" stroke="#000" stroke-width="1.3" fill="none"/>
<path d="M1041.6 192.8L1043.4 193.2M1042.9 186.7L1044.1 187.6M1044.8 182.4L1045.7 183.7M1046.6 180L1047.5 181.7M1049.4 177.6L1049.8 179.1M1052.6 176.2L1052.9 179.1M1056.2 176.2L1056.1 177.5M1061.1 178.5L1060.7 179.7M1063.7 181.1L1062.8 182.7M1066 184.8L1065 185.8M1067.7 189.7L1066.7 190.2" stroke="#000" stroke-width="1.1" fill="none"/>
<ellipse cx="1097" cy="175" rx="16.1" ry="22.6" fill="#000" transform="rotate(-2.3 1097 175)"/>
<polygon points="1082.6,180.8 1094,204.1 1102.4,203.8 1111.8,179.7" fill="#000"/>
<line x1="1097.7" y1="191.8" x2="1098.9" y2="222.3" stroke="#000" stroke-width="8.4" stroke-linecap="butt"/>
<ellipse cx="1098.9" cy="222.3" rx="5.8" ry="8.1" fill="#000" transform="rotate(-2.3 1098.9 222.3)"/>
<ellipse cx="1097" cy="175" rx="12.9" ry="19.4" fill="#fff" transform="rotate(-2.3 1097 175)"/>
<polygon points="1085.7,180.7 1097.1,204 1099.3,203.9 1108.7,179.8" fill="#fff"/>
<line x1="1097.7" y1="191.8" x2="1098.9" y2="222.3" stroke="#fff" stroke-width="3.4" stroke-linecap="butt"/>
<ellipse cx="1098.9" cy="222.3" rx="3.4" ry="5.4" fill="#fff" transform="rotate(-2.3 1098.9 222.3)"/>
<path d="M1102.5 185.3h.1M1096.8 192.8h.1M1097.9 192.2h.1M1100.7 184h.1M1106.2 186.1h.1M1094.4 194.5h.1M1091.3 192.1h.1M1098 195.4h.1M1088.9 190h.1M1104.4 187.7h.1M1097.5 185.7h.1M1106 184.7h.1M1095.1 191.2h.1M1090 188.8h.1M1099.7 185.6h.1M1099.2 183h.1M1104.7 179.4h.1M1102.8 193h.1M1094.6 195.1h.1M1101.9 187.7h.1M1102.1 185.3h.1M1095.1 193.4h.1M1100.8 186.2h.1M1102.4 188.5h.1M1090.8 189.6h.1M1100.2 185h.1M1100.8 192.8h.1M1091.5 187.6h.1M1100.2 184.3h.1M1091.9 190.3h.1M1092.6 193.1h.1M1088.9 187.7h.1M1096.2 187.8h.1M1099.5 192.8h.1M1091.2 189.9h.1M1098.5 194.9h.1M1098.3 193.9h.1M1091.6 192.2h.1M1102.8 190.7h.1M1094.1 189.4h.1M1098.3 189.5h.1M1094.8 189h.1M1098.7 189.5h.1M1104.5 186.1h.1M1103.9 192h.1M1090.8 188.8h.1M1095.5 186.8h.1M1097 193.2h.1M1087.1 186h.1M1096.2 186.9h.1M1092.6 190.4h.1M1091.2 190.2h.1M1094.3 192.7h.1M1094.2 191.7h.1M1099.4 191h.1" stroke="#000" stroke-width="1.4" stroke-linecap="round" fill="none"/>
<path d="M1110.3 178.9L1107.1 177.9M1110.1 180.4L1107.4 179.3M1109.4 183.4L1107 181.7M1108.7 185.6L1105.6 182.9M1107.6 188L1105.5 185.4M1107 188.9L1104.4 185.2M1106 190.4L1104.1 187.2M1104.1 192.3L1102.6 188.7M1102.9 193.2L1101.9 190.1M1101.7 194L1100.9 191.1M1100 194.6L1099.5 191.4M1098 195L1097.8 191.2M1096.9 195L1096.9 191.9M1095 194.7L1095.4 190.7M1092.9 193.8L1093.6 190.6M1091.9 193.3L1092.5 191M1090.6 192.3L1091.4 190.2M1088.7 190.4L1089.6 188.6M1087.6 188.9L1089.9 185.5M1086.5 187.1L1089.2 184.1M1085.5 185L1087 183.7M1084.8 183L1087.1 181.5M1084.2 180.8L1087.1 179.5" stroke="#000" stroke-width="1.3" fill="none"/>
<path d="M1083.6 171.9L1084.8 172.2M1084.8 165.8L1086.1 166.7M1086.5 161.9L1087.8 163.6M1089.3 158.2L1090.5 160.7M1091.5 156.5L1092.1 158.7M1094.9 155.2L1095.1 157.5M1098.6 155.2L1098.5 157.2M1102.6 157.1L1101.8 159.7M1104.9 159.2L1104 161.1M1108.1 164.2L1107.1 165.2M1109.7 168.8L1108.3 169.5" stroke="#000" stroke-width="1.1" fill="none"/>
<ellipse cx="463" cy="394" rx="13.6" ry="16.1" fill="#000" transform="rotate(-8 463 394)"/>
<polygon points="451.4,399.7 462.6,416.9 471.1,415.4 475.8,395.5" fill="#000"/>
<line x1="465" y1="405.4" x2="467.9" y2="422.5" stroke="#000" stroke-width="8.6" stroke-linecap="butt"/>
<ellipse cx="467.9" cy="422.5" rx="4.5" ry="4.5" fill="#000" transform="rotate(-8 467.9 422.5)"/>
<ellipse cx="463" cy="394" rx="10.4" ry="12.9" fill="#fff" transform="rotate(-8 463 394)"/>
<polygon points="454.5,399.1 465.6,416.4 468,416 472.7,396" fill="#fff"/>
<line x1="465" y1="405.4" x2="467.9" y2="422.5" stroke="#fff" stroke-width="2.2" stroke-linecap="butt"/>
<ellipse cx="467.9" cy="422.5" rx="2" ry="1.9" fill="#fff" transform="rotate(-8 467.9 422.5)"/>
<path d="M463.8 402.6h.1M462.6 406.4h.1M461.4 403.6h.1M462.2 402.5h.1M457.3 400.5h.1M470.4 400.8h.1M465.3 401.2h.1M456.9 402.7h.1M465.7 403.5h.1M463.5 403.9h.1M464.2 398.4h.1M468.1 404.9h.1M469.4 404.1h.1M464.9 406.6h.1M460.8 406.1h.1M458.9 400.1h.1M469.6 403.8h.1M456.6 402.9h.1M469.1 405.8h.1M470.3 399.5h.1M465.2 401.8h.1M466.4 402.8h.1M470.4 401.1h.1M471.3 395.5h.1M458.7 404.1h.1M467.8 405.6h.1M463.9 402.6h.1M464.2 407.4h.1M456.9 402.2h.1M463.6 405.2h.1M468.9 406h.1" stroke="#000" stroke-width="1.4" stroke-linecap="round" fill="none"/>
<path d="M474 395.8L472.2 395.5M473.9 396.8L470.2 395.9M473.5 399L469.4 397.1M472.6 401.3L470.5 399.7M472.1 402.2L469.2 399.6M471 403.8L468 400M469.4 405.4L467.6 402.1M468.6 406L466.9 402.5M466.6 407L465.5 402.9M465.2 407.3L464.5 403.3M463.1 407.4L463.1 402.1M462.2 407.4L462.4 404.8M460.1 406.8L460.9 403.3M458.7 406.1L459.7 403.4M457 404.9L459.1 401.1M456 403.9L457.5 401.8M454.8 402.4L456.6 400.5M454.1 401.3L457 398.9M453.2 399.6L455.5 398.3" stroke="#000" stroke-width="1.3" fill="none"/>
<path d="M452.1 390.8L453.8 391.3M452.6 388.8L454.5 389.8M454.4 385L455.2 385.8M456.5 382.7L457.2 383.9M460.6 380.7L461 383.3M463.4 380.6L463.4 382.1M466.8 381.6L466.1 383.8M470.3 384.4L468.9 386.3M472.6 388.1L471.4 388.8" stroke="#000" stroke-width="1.1" fill="none"/>
<path d="M467.2 400.5 L479.7 408.6" fill="none" stroke="#000" stroke-width="7" stroke-linecap="butt" stroke-linejoin="round"/>
<path d="M467.2 400.5 L479.7 408.6" fill="none" stroke="#fff" stroke-width="2.4" stroke-linecap="butt" stroke-linejoin="round"/>
<ellipse cx="434" cy="418" rx="14.6" ry="18.6" fill="#000" transform="rotate(-8 434 418)"/>
<polygon points="421.5,424.1 433.2,443.4 441.7,442.2 447.7,420.4" fill="#000"/>
<line x1="435.9" y1="431.5" x2="438.9" y2="453" stroke="#000" stroke-width="8.6" stroke-linecap="butt"/>
<ellipse cx="438.9" cy="453" rx="4.5" ry="4.5" fill="#000" transform="rotate(-8 438.9 453)"/>
<ellipse cx="434" cy="418" rx="11.4" ry="15.4" fill="#fff" transform="rotate(-8 434 418)"/>
<polygon points="424.5,423.6 436.3,442.9 438.7,442.6 444.6,420.8" fill="#fff"/>
<line x1="435.9" y1="431.5" x2="438.9" y2="453" stroke="#fff" stroke-width="2.2" stroke-linecap="butt"/>
<ellipse cx="438.9" cy="453" rx="2" ry="1.9" fill="#fff" transform="rotate(-8 438.9 453)"/>
<path d="M436.2 428h.1M433.7 425.9h.1M442.4 428.2h.1M441 428.5h.1M435.3 423.2h.1M437.7 428.1h.1M432.6 433.4h.1M439.6 432.8h.1M432.9 430h.1M437.3 429.1h.1M434.2 432.5h.1M438.8 433.9h.1M433.8 431.3h.1M441.5 430.8h.1M435.1 425.3h.1M442.2 423.2h.1M442.5 427h.1M432.1 428.1h.1M441.4 432.1h.1M437.1 425.3h.1M435.5 429.8h.1M432.5 434.1h.1M428.3 428.7h.1M430 426.8h.1M434.9 431.2h.1M432 429.3h.1M431.3 430.9h.1M436.1 435h.1M437.6 427.3h.1M438.2 430.8h.1M432.5 429.9h.1M431.8 432.9h.1M435.3 433h.1M432.5 425.7h.1M430.5 432.4h.1M434.3 428.8h.1M439.4 432.7h.1M436.5 432.5h.1M436.6 429.9h.1M433.9 433.7h.1" stroke="#000" stroke-width="1.4" stroke-linecap="round" fill="none"/>
<path d="M446.1 420.4L443.5 419.9M445.9 422.1L442.9 421.1M445.6 423.8L442.5 422.2M445 425.8L443 424.4M444.1 427.8L441.5 425.3M443.3 429.1L440.6 425.9M441.6 431.2L439.6 427.7M440.6 432L439.6 430M439.1 432.9L438.2 430.4M437.3 433.6L436.3 429M435.9 433.9L435.2 428.5M433.9 433.9L433.9 429.5M432.1 433.5L432.7 429M430.8 433L431.5 429.7M428.7 431.7L430 428.5M427.8 431L429.6 427.3M426.2 429.2L428.2 426.4M424.9 427.5L426.9 425.4M423.9 425.8L426.1 424.1M423.2 424.1L426.2 422.4" stroke="#000" stroke-width="1.3" fill="none"/>
<path d="M422 414.9L423.3 415.2M422.8 410.9L424.2 411.8M423.8 408.4L425.5 410M426 405.3L426.8 406.6M428.9 403.1L429.8 405.7M432.7 402.1L432.9 404.9M436.2 402.6L435.9 404.7M439.8 404.7L439 406.5M441.7 406.5L440.9 407.7M444.1 410.4L443 411.3" stroke="#000" stroke-width="1.1" fill="none"/>
<path d="M438.6 425.6 L454.1 435.6" fill="none" stroke="#000" stroke-width="7" stroke-linecap="butt" stroke-linejoin="round"/>
<path d="M438.6 425.6 L454.1 435.6" fill="none" stroke="#fff" stroke-width="2.4" stroke-linecap="butt" stroke-linejoin="round"/>
<ellipse cx="407" cy="443" rx="16.1" ry="19.6" fill="#000" transform="rotate(-8 407 443)"/>
<polygon points="393.1,449.3 406.1,469.3 414.6,468.2 422.1,445.6" fill="#000"/>
<line x1="408.8" y1="457.3" x2="411.9" y2="481.4" stroke="#000" stroke-width="8.6" stroke-linecap="butt"/>
<ellipse cx="411.9" cy="481.4" rx="4.5" ry="4.5" fill="#000" transform="rotate(-8 411.9 481.4)"/>
<ellipse cx="407" cy="443" rx="12.9" ry="16.4" fill="#fff" transform="rotate(-8 407 443)"/>
<polygon points="396.2,448.9 409.1,468.9 411.5,468.6 419,446" fill="#fff"/>
<line x1="408.8" y1="457.3" x2="411.9" y2="481.4" stroke="#fff" stroke-width="2.2" stroke-linecap="butt"/>
<ellipse cx="411.9" cy="481.4" rx="2" ry="1.9" fill="#fff" transform="rotate(-8 411.9 481.4)"/>
<path d="M412.1 451.4h.1M416.7 451.8h.1M410.3 457.1h.1M410.7 451.5h.1M410.8 456.2h.1M404.8 456.1h.1M411.5 458.5h.1M407 454.3h.1M416.1 448.1h.1M410.9 460.2h.1M401.5 455h.1M417.5 451.4h.1M414.9 455.7h.1M403.5 458.7h.1M409.5 453h.1M418.3 450.9h.1M416.9 450.7h.1M417.5 454.3h.1M413.3 453.2h.1M403.6 453.6h.1M402.7 456.3h.1M417.7 453.1h.1M406.3 450.6h.1M410.5 454.5h.1M414.8 453.4h.1M404.2 457.1h.1M404.8 458.1h.1M411.9 455h.1M408.1 450.4h.1M412.9 453.3h.1M405.4 457.5h.1M413 458h.1M412.8 458.8h.1M404.6 458h.1M413 450.8h.1M416.5 447.1h.1M400.4 455.2h.1M409.6 459.8h.1M407.4 454h.1M405.2 453.8h.1M412 458.7h.1M402.7 455.9h.1M413.4 452h.1M410.1 456.9h.1M406.6 457.7h.1M410.6 452.9h.1M406.3 456.3h.1" stroke="#000" stroke-width="1.4" stroke-linecap="round" fill="none"/>
<path d="M420.6 444.4L417.9 444.1M420.4 446.8L416.8 445.8M420 449L415.9 447.1M419.4 450.8L416.5 449M418.9 452L416.5 450.1M417.9 454L415.8 451.9M416.7 455.6L413.9 452M415.7 456.6L413.8 453.6M414.3 457.8L413 455.1M413.1 458.6L411.7 455.2M411.5 459.3L410.4 455.3M410 459.7L409.6 457.3M407.6 459.9L407.5 455.8M406.5 459.9L406.6 456.4M404.8 459.5L405.2 456.3M402.7 458.7L403.3 456.5M401.4 458L402.2 455.7M400 456.9L401.8 453.2M399 456L401.5 452M397.8 454.7L400.7 451M396.6 453L398.7 451M395.7 451.4L397.9 449.8M394.5 448.6L397.5 447.2" stroke="#000" stroke-width="1.3" fill="none"/>
<path d="M393.5 439.9L394.8 440.2M394.5 435.4L396 436.3M395.4 433.2L396.5 434.1M398.6 429L399.5 430.5M401.4 427.2L402.3 430M403.7 426.3L404.1 428.2M407.2 426.1L407.2 427.4M410.1 426.8L409.6 429.5M413.1 428.4L412.5 429.7M417.3 432.8L415.9 434.1M418.8 435.5L417.8 436.1" stroke="#000" stroke-width="1.1" fill="none"/>
<path d="M412.1 451.1 L429 462" fill="none" stroke="#000" stroke-width="7" stroke-linecap="butt" stroke-linejoin="round"/>
<path d="M412.1 451.1 L429 462" fill="none" stroke="#fff" stroke-width="2.4" stroke-linecap="butt" stroke-linejoin="round"/>
<ellipse cx="381" cy="469" rx="16.1" ry="19.6" fill="#000" transform="rotate(-8 381 469)"/>
<polygon points="367.1,475.3 379.9,495.3 388.5,494.3 396,471.7" fill="#000"/>
<line x1="382.8" y1="483.3" x2="385.9" y2="508.8" stroke="#000" stroke-width="8.6" stroke-linecap="butt"/>
<ellipse cx="385.9" cy="508.8" rx="4.5" ry="4.5" fill="#000" transform="rotate(-8 385.9 508.8)"/>
<ellipse cx="381" cy="469" rx="12.9" ry="16.4" fill="#fff" transform="rotate(-8 381 469)"/>
<polygon points="370.1,474.9 383,494.9 385.4,494.7 393,472" fill="#fff"/>
<line x1="382.8" y1="483.3" x2="385.9" y2="508.8" stroke="#fff" stroke-width="2.2" stroke-linecap="butt"/>
<ellipse cx="385.9" cy="508.8" rx="2" ry="1.9" fill="#fff" transform="rotate(-8 385.9 508.8)"/>
<path d="M378.2 485.8h.1M388.6 483.3h.1M381.9 476h.1M389.2 475.5h.1M386.5 486h.1M389.6 478.2h.1M391.6 475.5h.1M385.1 479.3h.1M375.9 479.4h.1M387.4 476.4h.1M390.7 475.2h.1M389.1 479h.1M384.4 485.9h.1M380.5 475.2h.1M373.7 481.1h.1M388.4 483.4h.1M383.7 478.6h.1M373 480h.1M386.1 484.5h.1M388.2 479.6h.1M380.5 484.5h.1M381.6 480.4h.1M377.1 482h.1M379.3 481.2h.1M379.5 476.9h.1M380.4 484.5h.1M379.2 484.5h.1M380.3 486.3h.1M375.5 482.4h.1M389.8 482.3h.1M380.5 477.5h.1M383.6 476.2h.1M379.7 484h.1M382.1 483.9h.1M385 483.4h.1M382.8 476.3h.1M385.1 482.5h.1M391.7 479h.1M389.4 483.6h.1M384.6 476.6h.1M388.9 477.8h.1M386.4 479.9h.1M383.2 483.2h.1M379.3 483.5h.1M386.4 481.9h.1M384.8 484.9h.1M387 474h.1" stroke="#000" stroke-width="1.4" stroke-linecap="round" fill="none"/>
<path d="M394.6 471.1L392.2 470.7M394.4 472.6L392.4 472.1M394.1 474.3L390.1 472.7M393.4 476.8L391.3 475.4M392.8 478.3L390.9 476.8M392 479.7L389.1 476.9M390.6 481.7L388.3 478.7M389.6 482.8L387.1 478.9M388 484.1L386.8 481.6M386.6 484.8L385.3 481.1M385.6 485.3L384.2 480.1M383.6 485.8L382.9 481.1M381.8 485.9L381.7 483.5M380.2 485.8L380.4 481.1M378.7 485.5L379.3 480.9M377.1 484.9L378.1 480.7M375.4 483.9L376.2 481.7M374.3 483.1L376.3 478.9M372.4 481.4L373.8 479.4M371.4 480.2L372.9 478.5M370.7 479.2L372.5 477.4M369.4 476.9L371.8 475.3M368.6 475L371.6 473.5" stroke="#000" stroke-width="1.3" fill="none"/>
<path d="M367.5 465.8L369.7 466.3M367.9 463.3L370.2 464.3M369.7 458.7L371.2 460M372 455.6L373 457.1M374.8 453.5L375.5 455.1M378.7 452.2L378.9 454.1M381.6 452.2L381.6 453.8M385 453.2L384.6 454.8M387.6 454.8L386.5 457.3M390.8 458L389.8 459.2M393 462L391.1 463.1" stroke="#000" stroke-width="1.1" fill="none"/>
<path d="M386.1 477.1 L403.8 488.5" fill="none" stroke="#000" stroke-width="7" stroke-linecap="butt" stroke-linejoin="round"/>
<path d="M386.1 477.1 L403.8 488.5" fill="none" stroke="#fff" stroke-width="2.4" stroke-linecap="butt" stroke-linejoin="round"/>
<ellipse cx="352" cy="496" rx="16.1" ry="20.6" fill="#000" transform="rotate(-8 352 496)"/>
<polygon points="338,502.4 350.8,523.3 359.3,522.3 367,499.1" fill="#000"/>
<line x1="353.7" y1="511.1" x2="356.9" y2="539.3" stroke="#000" stroke-width="8.6" stroke-linecap="butt"/>
<ellipse cx="356.9" cy="539.3" rx="4.5" ry="4.5" fill="#000" transform="rotate(-8 356.9 539.3)"/>
<ellipse cx="352" cy="496" rx="12.9" ry="17.4" fill="#fff" transform="rotate(-8 352 496)"/>
<polygon points="341.1,502 353.9,523 356.3,522.7 364,499.4" fill="#fff"/>
<line x1="353.7" y1="511.1" x2="356.9" y2="539.3" stroke="#fff" stroke-width="2.2" stroke-linecap="butt"/>
<ellipse cx="356.9" cy="539.3" rx="2" ry="1.9" fill="#fff" transform="rotate(-8 356.9 539.3)"/>
<path d="M349.4 505.1h.1M352.1 513.2h.1M349.5 507.4h.1M344.8 507.2h.1M361.9 499.3h.1M349.7 513.3h.1M359.2 501.4h.1M356.8 513.2h.1M355 506.6h.1M358.6 508.9h.1M357.7 510.4h.1M359.3 510.5h.1M354.3 514.1h.1M359.8 509.7h.1M355.1 510.2h.1M351.3 511.9h.1M355.9 511.6h.1M359.5 512h.1M352.5 508.5h.1M349.7 508.4h.1M352.1 511.9h.1M355.5 504.6h.1M356.8 511.1h.1M352.8 514.8h.1M363 499.8h.1M357.4 513h.1M356.2 513.9h.1M347.4 505.3h.1M352.9 512.7h.1M356.7 509.5h.1M351 513.8h.1M349.5 508.1h.1M352.9 512.9h.1M358.2 502.7h.1M345.3 506.8h.1M350.6 511.4h.1M355.3 505.1h.1M356.9 508.7h.1M354.1 503.7h.1M356.5 508.3h.1M359.1 502h.1M358.1 510.7h.1M358.2 510.6h.1M360.7 503.3h.1M356.6 512.1h.1M359.4 507.4h.1M359.3 512.8h.1M353.7 514.4h.1M351.6 514.6h.1M343.6 505.5h.1" stroke="#000" stroke-width="1.4" stroke-linecap="round" fill="none"/>
<path d="M365.6 498.4L362.9 497.9M365.5 499.5L361.8 498.5M365.2 501.8L362.2 500.5M364.8 503.6L361.6 501.7M363.6 506.5L362 505M362.8 508L361.3 506.3M362.1 509L360.2 506.6M360.6 510.7L358.4 507M359.4 511.7L358 508.6M358.3 512.5L357 509M356.3 513.4L355.6 510.5M354.7 513.8L353.9 508.5M353.5 513.9L353.1 509.8M351.5 513.8L351.6 508.5M349.9 513.4L350.4 509.6M348.1 512.7L348.8 509.5M346.6 511.8L347.7 508.8M345.4 510.9L346.4 508.7M343.6 509.2L345.4 506.5M342.7 508.1L344.5 505.8M341.8 506.7L344.2 504.2M340.7 504.8L342.6 503.3M339.5 501.9L341.9 500.8" stroke="#000" stroke-width="1.3" fill="none"/>
<path d="M338.5 492.2L340.5 492.7M338.8 490.1L340.8 490.9M340.3 485.6L341.2 486.4M343.1 481.6L344.5 483.9M346.3 479.2L347 481.5M348.7 478.3L349.1 480.3M352.3 478.2L352.2 479.8M355.7 479.2L355.3 481M358.5 481L357.4 483.3M361.1 483.7L359.8 485.4M363.8 488.3L362.7 489" stroke="#000" stroke-width="1.1" fill="none"/>
<path d="M357.1 504.6 L376.6 517.1" fill="none" stroke="#000" stroke-width="7" stroke-linecap="butt" stroke-linejoin="round"/>
<path d="M357.1 504.6 L376.6 517.1" fill="none" stroke="#fff" stroke-width="2.4" stroke-linecap="butt" stroke-linejoin="round"/>
<ellipse cx="325" cy="525" rx="17.6" ry="22.6" fill="#000" transform="rotate(-8 325 525)"/>
<polygon points="309.8,532 324.1,554.3 332.6,553.3 341.4,528.4" fill="#000"/>
<line x1="326.9" y1="541.7" x2="329.9" y2="567.7" stroke="#000" stroke-width="8.6" stroke-linecap="butt"/>
<ellipse cx="329.9" cy="567.7" rx="4.5" ry="4.5" fill="#000" transform="rotate(-8 329.9 567.7)"/>
<ellipse cx="325" cy="525" rx="14.4" ry="19.4" fill="#fff" transform="rotate(-8 325 525)"/>
<polygon points="312.8,531.7 327.1,553.9 329.5,553.7 338.4,528.7" fill="#fff"/>
<line x1="326.9" y1="541.7" x2="329.9" y2="567.7" stroke="#fff" stroke-width="2.2" stroke-linecap="butt"/>
<ellipse cx="329.9" cy="567.7" rx="2" ry="1.9" fill="#fff" transform="rotate(-8 329.9 567.7)"/>
<path d="M329.3 544.8h.1M326.9 534.4h.1M328.5 541.7h.1M327.2 540.5h.1M330 544.6h.1M324.8 543.9h.1M336.4 530.2h.1M333.7 540.6h.1M327.5 545.7h.1M334.5 538.6h.1M332.2 540h.1M321.4 537h.1M331.3 541.3h.1M333.7 541.6h.1M316 537.5h.1M321.7 532.6h.1M328.4 537.7h.1M331.8 534.7h.1M327.6 533.1h.1M337.2 534.1h.1M322.2 541.5h.1M336.7 536.7h.1M335.3 535.5h.1M336.8 536.3h.1M323.1 542.9h.1M326.9 542.7h.1M329.9 531h.1M317.6 540.2h.1M327.7 542.7h.1M332.9 534.7h.1M333.7 536.9h.1M325.2 543h.1M323.1 538.7h.1M328.5 542.9h.1M324.8 545.6h.1M327.3 542h.1M323.2 539.8h.1M330.7 535h.1M330.5 544.3h.1M323.6 545.8h.1M321.2 543.6h.1M321.8 543.5h.1M327.8 532.9h.1M328.1 539.7h.1M317.6 540.9h.1M334.7 535.5h.1M328.4 541.3h.1M319.9 540h.1M335 539.7h.1M326.8 536.3h.1M323.7 534.1h.1M331.2 542.7h.1M325.1 545.9h.1M328 537.9h.1M330.1 535h.1M328.4 541.5h.1M334.4 536.6h.1M331.9 537.7h.1M328.2 539.8h.1M330.8 542.2h.1M326.7 539.2h.1" stroke="#000" stroke-width="1.4" stroke-linecap="round" fill="none"/>
<path d="M340.1 526.7L337.5 526.4M340 528.8L336.9 528M339.8 530.8L335.8 529.2M339 534L337.1 532.7M338.4 535.5L335.7 533.3M337.5 537.4L334.2 534.1M336.7 538.8L334 535.6M335.6 540.2L333.4 537.1M334.3 541.6L333 539.3M333.2 542.6L331.4 538.8M330.9 543.9L330.1 541.4M329.5 544.4L328.7 540.9M327.6 544.8L327 540M326.9 544.9L326.6 541.6M324.6 544.8L324.7 540.3M323.3 544.5L323.6 540.7M321.8 544.1L322.3 541.2M319.4 542.9L320.4 539.6M318.4 542.2L319.5 539.2M316.7 540.7L317.6 538.9M315.4 539.3L317.7 535.7M314.1 537.5L316.7 534.5M313.2 536.2L315.1 534.4M312.1 534L314.1 532.7M311.4 532.3L313.6 531.1" stroke="#000" stroke-width="1.3" fill="none"/>
<path d="M310 521.3L312 521.8M310.6 517.4L311.6 517.9M311.5 514.6L313.3 516M313.9 510.3L315.5 512.3M315.9 508.2L316.5 509.3M319.6 505.9L320.2 508.3M324 505.1L324.1 507.8M326.2 505.3L326 508.2M329.8 506.7L329.5 507.9M334.1 510.1L333.2 511.6M336.4 513.2L335.2 514.4M337.8 515.8L337 516.4" stroke="#000" stroke-width="1.1" fill="none"/>
<path d="M330.6 534.5 L349 546.3" fill="none" stroke="#000" stroke-width="7" stroke-linecap="butt" stroke-linejoin="round"/>
<path d="M330.6 534.5 L349 546.3" fill="none" stroke="#fff" stroke-width="2.4" stroke-linecap="butt" stroke-linejoin="round"/>
<ellipse cx="291" cy="556" rx="18.6" ry="24.6" fill="#000" transform="rotate(-8 291 556)"/>
<polygon points="274.8,563.5 289.9,587.3 298.5,586.4 308.4,560" fill="#000"/>
<line x1="292.9" y1="574.3" x2="295.9" y2="603.5" stroke="#000" stroke-width="8.6" stroke-linecap="butt"/>
<ellipse cx="295.9" cy="603.5" rx="4.5" ry="4.5" fill="#000" transform="rotate(-8 295.9 603.5)"/>
<ellipse cx="291" cy="556" rx="15.4" ry="21.4" fill="#fff" transform="rotate(-8 291 556)"/>
<polygon points="277.9,563.1 293,587 295.4,586.7 305.3,560.3" fill="#fff"/>
<line x1="292.9" y1="574.3" x2="295.9" y2="603.5" stroke="#fff" stroke-width="2.2" stroke-linecap="butt"/>
<ellipse cx="295.9" cy="603.5" rx="2" ry="1.9" fill="#fff" transform="rotate(-8 295.9 603.5)"/>
<path d="M293.2 576.9h.1M300.5 574.9h.1M299.7 567.4h.1M296.9 568.5h.1M287.1 572.9h.1M293 568.7h.1M285.3 574.1h.1M288.3 572.5h.1M296.8 571.8h.1M298.2 574.7h.1M296.2 572.8h.1M300.9 571.7h.1M301.4 569h.1M298.4 571.5h.1M302.2 563.3h.1M293.9 576.9h.1M299 575h.1M297.1 562.7h.1M287.6 571.5h.1M295.4 562.9h.1M291.9 574.5h.1M289.7 575.3h.1M288.6 573.3h.1M291.6 575.1h.1M295.8 578.1h.1M287.5 574.9h.1M296.7 571.9h.1M285.9 567.8h.1M294.9 573.5h.1M302.1 563h.1M298.6 575.9h.1M290.9 573.8h.1M289.5 575.7h.1M301.3 573h.1M291.5 576.1h.1M294.8 570.7h.1M295 567.6h.1M281.7 569.5h.1M303.1 567.4h.1M299.1 572h.1M299.3 563h.1M301.5 569.7h.1M287.4 569.1h.1M292.9 570.6h.1M290.6 573.1h.1M302 571.6h.1M286.4 564.5h.1M287.7 576.1h.1M290.2 573.2h.1M295 576.1h.1M296.7 570.3h.1M301.3 567h.1M297.1 570.9h.1M301.2 566.5h.1M300.4 559.1h.1M300.9 560.3h.1M304.8 566.1h.1M292.8 576.5h.1M296.6 566.9h.1M289.2 572.9h.1M302.3 564.2h.1M293.4 575.1h.1M288.9 570h.1M301.7 564.8h.1M294.8 575.8h.1M297.4 566.9h.1M291.8 576.2h.1M293.3 573.3h.1M298.9 566.6h.1M297.7 576.5h.1M283.8 571h.1" stroke="#000" stroke-width="1.4" stroke-linecap="round" fill="none"/>
<path d="M307.1 558.1L304.1 557.7M307 561L305.2 560.4M306.8 562.5L304.4 561.5M306.3 564.7L303.2 562.9M305.8 566.6L302.6 564.3M305 568.6L303.2 567M304.3 570L301.2 566.8M302.8 572.3L301.2 570.1M301.7 573.6L299.3 569.5M300.5 574.8L298.9 571.6M299 575.9L297.6 572.5M297.8 576.6L296.8 573.7M296 577.3L295.1 573.5M294.4 577.7L293.6 572.6M292.6 577.9L292.3 573.8M290.9 577.8L290.9 575M289.6 577.6L289.9 572.9M287.7 577L288.5 571.9M286.6 576.4L287.6 571.7M284.8 575.4L286.1 571.2M283.3 574.2L284.3 571.8M281.9 572.9L283.2 570.6M280.2 570.9L282.7 567.5M279.5 569.9L282 566.9M278.2 567.8L280.3 565.8M277.4 566L279 564.9M276.5 563.7L278.9 562.4" stroke="#000" stroke-width="1.3" fill="none"/>
<path d="M274.9 552.9L277 553.3M275.3 548.9L276.9 549.7M276.4 545.1L277.7 546.1M278.3 541L279.1 541.9M281.1 537.6L282.3 539.7M283.9 535.6L284.6 537.7M286.8 534.4L287.2 536.4M291.6 534.3L291.5 537.1M293.6 534.8L293.5 536.1M296.9 536.4L296.4 538.1M300.4 539.4L299.6 540.9M303.6 544L302.8 544.8M304.6 546L303 547.2" stroke="#000" stroke-width="1.1" fill="none"/>
<path d="M296.9 566.4 L317.4 579.5" fill="none" stroke="#000" stroke-width="7" stroke-linecap="butt" stroke-linejoin="round"/>
<path d="M296.9 566.4 L317.4 579.5" fill="none" stroke="#fff" stroke-width="2.4" stroke-linecap="butt" stroke-linejoin="round"/>
<ellipse cx="257.5" cy="585.5" rx="19.6" ry="23.6" fill="#000" transform="rotate(-8 257.5 585.5)"/>
<polygon points="240.3,592.6 256,615.8 264.6,615 275.7,589.3" fill="#000"/>
<line x1="259.1" y1="603" x2="262.5" y2="638.8" stroke="#000" stroke-width="8.6" stroke-linecap="butt"/>
<ellipse cx="262.5" cy="638.8" rx="4.5" ry="4.5" fill="#000" transform="rotate(-8 262.5 638.8)"/>
<ellipse cx="257.5" cy="585.5" rx="16.4" ry="20.4" fill="#fff" transform="rotate(-8 257.5 585.5)"/>
<polygon points="243.4,592.3 259.1,615.5 261.5,615.3 272.6,589.6" fill="#fff"/>
<line x1="259.1" y1="603" x2="262.5" y2="638.8" stroke="#fff" stroke-width="2.2" stroke-linecap="butt"/>
<ellipse cx="262.5" cy="638.8" rx="2" ry="1.9" fill="#fff" transform="rotate(-8 262.5 638.8)"/>
<path d="M253.4 604.7h.1M260 605.6h.1M249.3 600.2h.1M256.1 604.8h.1M254.7 599.5h.1M266.5 604.7h.1M261.1 607.5h.1M266.7 604.2h.1M253.7 596.6h.1M264.6 600.4h.1M266.4 596.7h.1M258.3 596.9h.1M264.4 601h.1M261.9 606.1h.1M270.6 592.9h.1M263.3 596.5h.1M272.2 592.7h.1M264.7 600.6h.1M258.5 605.4h.1M258.5 597.1h.1M258.6 607h.1M263 603.7h.1M251.6 605.3h.1M266.7 595.4h.1M262.9 595.6h.1M255.7 597.6h.1M261.9 594.7h.1M258.2 605.2h.1M256.8 603.5h.1M268.1 596.4h.1M263.3 601.6h.1M263 603.5h.1M262 601.3h.1M272 595.5h.1M250.1 598.2h.1M253 601.2h.1M247.8 602.1h.1M265.1 603.9h.1M258.3 603h.1M255.7 595.3h.1M262.9 606.4h.1M266.9 590.8h.1M264.2 595.8h.1M267.9 599.8h.1M257.8 598.2h.1M271.7 588.8h.1M264.3 601.8h.1M265.4 601.6h.1M249.6 598.2h.1M254.2 601.8h.1M265.1 604.4h.1M260.7 606.5h.1M257.2 599.6h.1M266.6 602.2h.1M269.6 596.2h.1M268 598.8h.1M261.7 598.4h.1M264.2 604.9h.1M262.9 603h.1M255.1 599.6h.1M257.3 598.1h.1M263.2 600.4h.1M247.5 600.6h.1M268.5 596.3h.1M264.9 596.5h.1M263 597.2h.1M254.1 599.6h.1M261.5 605.1h.1M252 595.8h.1M257.3 601.9h.1M255.8 597.1h.1M258.1 599.2h.1" stroke="#000" stroke-width="1.4" stroke-linecap="round" fill="none"/>
<path d="M274.6 587.9L270.5 587.3M274.4 589.7L270.3 588.7M274.2 591.3L270.6 590.1M273.6 593.8L270 592M273 595.3L269.3 592.9M272 597.6L269.7 595.6M271.1 599.1L269.2 597.2M269.9 600.7L267.6 597.9M268.8 602L266.7 599M267.4 603.3L265.4 599.7M266.4 603.9L265.4 601.8M264.3 605.1L263.5 602.8M263.4 605.5L262.5 602.5M261.1 606.2L260.3 601.6M260.2 606.3L259.8 603M257.7 606.4L257.7 601.2M256.4 606.3L256.6 602.8M254.9 606L255.2 603.1M253.4 605.5L254.1 602.1M251.2 604.5L252.7 599.9M249.7 603.5L251.2 600M248.3 602.4L250.3 598.7M247.3 601.6L248.9 599.1M246 600.1L247.3 598.4M244.6 598.3L247.2 595.7M243.3 596.2L244.9 595M242.4 594.3L245.5 592.5M242.1 593.4L244.4 592.2" stroke="#000" stroke-width="1.3" fill="none"/>
<path d="M240.4 583.8L241.6 583.9M241.1 578.3L242.9 579M241.9 575.9L244.1 577.3M243.7 572.3L244.6 573.1M246 569.2L247.7 571.5M248.9 566.8L249.9 569.1M251.7 565.4L252.5 568.1M256 564.6L256.1 565.9M259.3 564.8L259.2 566.2M262.3 565.8L262 567.1M266.2 568.2L265.2 570.2M268.3 570.1L267.3 571.4M271.3 574.2L270.4 575M272.8 577.3L271.7 577.9" stroke="#000" stroke-width="1.1" fill="none"/>
<path d="M263.8 595.4 L287.7 610.8" fill="none" stroke="#000" stroke-width="7" stroke-linecap="butt" stroke-linejoin="round"/>
<path d="M263.8 595.4 L287.7 610.8" fill="none" stroke="#fff" stroke-width="2.4" stroke-linecap="butt" stroke-linejoin="round"/>
<ellipse cx="214" cy="622" rx="18.6" ry="23.6" fill="#000" transform="rotate(-8 214 622)"/>
<polygon points="197.6,628.8 212.1,652.2 220.7,651.6 231.2,626.2" fill="#000"/>
<line x1="215.4" y1="639.5" x2="219" y2="684.6" stroke="#000" stroke-width="8.6" stroke-linecap="butt"/>
<ellipse cx="219" cy="684.6" rx="4.5" ry="4.5" fill="#000" transform="rotate(-8 219 684.6)"/>
<ellipse cx="214" cy="622" rx="15.4" ry="20.4" fill="#fff" transform="rotate(-8 214 622)"/>
<polygon points="200.7,628.6 215.2,652 217.6,651.8 228.1,626.4" fill="#fff"/>
<line x1="215.4" y1="639.5" x2="219" y2="684.6" stroke="#fff" stroke-width="2.2" stroke-linecap="butt"/>
<ellipse cx="219" cy="684.6" rx="2" ry="1.9" fill="#fff" transform="rotate(-8 219 684.6)"/>
<path d="M220.3 641.4h.1M223.3 626.5h.1M204.6 635.8h.1M212.7 633.1h.1M223.6 632.1h.1M222 640.9h.1M215.2 642.4h.1M217.5 643.5h.1M225.1 633.7h.1M208.5 632.9h.1M226 633.3h.1M209.7 637.3h.1M227 630.6h.1M221.2 640h.1M223.9 636.8h.1M222.8 633.6h.1M224.5 637.4h.1M209.1 634.5h.1M209.2 638.8h.1M208.9 637.4h.1M224.1 631.5h.1M215.8 633.7h.1M211.2 639.1h.1M215.9 639.1h.1M210.2 642.6h.1M219.9 643h.1M219.4 631.2h.1M223.5 636.4h.1M209.9 637.3h.1M211.2 634.2h.1M212.6 631.3h.1M224.6 630.2h.1M218 642.4h.1M221.1 633h.1M214.9 636.9h.1M225.2 633.8h.1M217.6 635.6h.1M224.3 627.2h.1M226.9 634.3h.1M218.5 643.5h.1M215.2 640h.1M215.8 634.6h.1M214.4 641.6h.1M224.3 636.8h.1M216.2 633.3h.1M208.3 639h.1M219.4 637.7h.1M216.8 636.3h.1M204.4 633.8h.1M219.6 641h.1M219.3 630h.1M207.7 634.2h.1M215.4 641.1h.1M210.1 632.6h.1M218.4 642.6h.1M216.1 641.8h.1M218.3 633.7h.1M223.2 630.3h.1M219.7 630.1h.1M221.5 634.6h.1M225.3 635.3h.1M216.2 638.1h.1M206.2 635.2h.1M210 636.6h.1M220.7 633.3h.1M210.8 639.2h.1M225.3 633.9h.1M224.4 630.5h.1" stroke="#000" stroke-width="1.4" stroke-linecap="round" fill="none"/>
<path d="M230.1 624.2L228.3 623.9M229.9 626.8L227 625.9M229.6 628.8L226.1 627.3M229.1 630.7L225.5 628.6M228.6 632.2L225.3 629.8M227.7 634.4L226 632.9M226.7 636.1L224.7 633.9M226.1 636.9L223.5 633.7M224.4 639L222.2 635.4M223.2 640L221.5 636.5M222.1 640.8L221.1 638.7M220.3 641.8L219.4 639.1M218.6 642.4L217.7 638.5M217.4 642.7L216.6 637.9M216.1 642.9L215.6 637.8M213.8 642.8L213.9 638.2M211.8 642.4L212.2 638.5M210.9 642.2L211.3 639.4M209.1 641.4L209.8 638.5M207.1 640.2L208.6 636.2M206.2 639.5L207.8 636M204.2 637.6L206.6 633.9M203.3 636.6L204.5 635M202 634.8L205 631.5M201.2 633.4L203.7 631.2M200 630.9L202.7 629.2M199.2 628.8L201.6 627.7" stroke="#000" stroke-width="1.3" fill="none"/>
<path d="M197.9 618.7L199.4 619M198.4 615.3L200.6 616.2M199.4 611.6L200.8 612.6M201.6 607.5L202.3 608.4M203.7 605L204.7 606.7M207.7 602.2L208.5 604.7M210.5 601.3L211 604.2M213 601.1L213.1 603M216.8 601.7L216.6 603.5M220.5 603.6L219.6 606M224 606.6L223.4 607.5M225.9 609.1L224.6 610.5M227.6 612.2L226.6 612.9" stroke="#000" stroke-width="1.1" fill="none"/>
<path d="M219.9 631.9 L249.5 650.9" fill="none" stroke="#000" stroke-width="7" stroke-linecap="butt" stroke-linejoin="round"/>
<path d="M219.9 631.9 L249.5 650.9" fill="none" stroke="#fff" stroke-width="2.4" stroke-linecap="butt" stroke-linejoin="round"/>
<path d="M491.5 396.2 L510.6 408.5" fill="none" stroke="#000" stroke-width="9.6" stroke-linecap="butt" stroke-linejoin="round"/>
<path d="M491.5 396.2 L510.6 408.5" fill="none" stroke="#fff" stroke-width="4.4" stroke-linecap="butt" stroke-linejoin="round"/>
<path d="M465.6 423.5 L486.6 437" fill="none" stroke="#000" stroke-width="9.6" stroke-linecap="butt" stroke-linejoin="round"/>
<path d="M465.6 423.5 L486.6 437" fill="none" stroke="#fff" stroke-width="4.4" stroke-linecap="butt" stroke-linejoin="round"/>
<path d="M441.6 448.7 L464.6 463.5" fill="none" stroke="#000" stroke-width="9.6" stroke-linecap="butt" stroke-linejoin="round"/>
<path d="M441.6 448.7 L464.6 463.5" fill="none" stroke="#fff" stroke-width="4.4" stroke-linecap="butt" stroke-linejoin="round"/>
<path d="M407.9 484.2 L440.2 505" fill="none" stroke="#000" stroke-width="9.6" stroke-linecap="butt" stroke-linejoin="round"/>
<path d="M407.9 484.2 L440.2 505" fill="none" stroke="#fff" stroke-width="4.4" stroke-linecap="butt" stroke-linejoin="round"/>
<path d="M382 511.4 L414.1 532" fill="none" stroke="#000" stroke-width="9.6" stroke-linecap="butt" stroke-linejoin="round"/>
<path d="M382 511.4 L414.1 532" fill="none" stroke="#fff" stroke-width="4.4" stroke-linecap="butt" stroke-linejoin="round"/>
<path d="M353.3 541.7 L385.8 562.5" fill="none" stroke="#000" stroke-width="9.6" stroke-linecap="butt" stroke-linejoin="round"/>
<path d="M353.3 541.7 L385.8 562.5" fill="none" stroke="#fff" stroke-width="4.4" stroke-linecap="butt" stroke-linejoin="round"/>
<path d="M322.6 574 L357.5 596.5" fill="none" stroke="#000" stroke-width="9.6" stroke-linecap="butt" stroke-linejoin="round"/>
<path d="M322.6 574 L357.5 596.5" fill="none" stroke="#fff" stroke-width="4.4" stroke-linecap="butt" stroke-linejoin="round"/>
<path d="M289 609.4 L321.1 630" fill="none" stroke="#000" stroke-width="9.6" stroke-linecap="butt" stroke-linejoin="round"/>
<path d="M289 609.4 L321.1 630" fill="none" stroke="#fff" stroke-width="4.4" stroke-linecap="butt" stroke-linejoin="round"/>
<path d="M255.8 644.4 L285.5 663.5" fill="none" stroke="#000" stroke-width="9.6" stroke-linecap="butt" stroke-linejoin="round"/>
<path d="M255.8 644.4 L285.5 663.5" fill="none" stroke="#fff" stroke-width="4.4" stroke-linecap="butt" stroke-linejoin="round"/>
<path d="M221.7 680.2 L247 696.5" fill="none" stroke="#000" stroke-width="9.6" stroke-linecap="butt" stroke-linejoin="round"/>
<path d="M221.7 680.2 L247 696.5" fill="none" stroke="#fff" stroke-width="4.4" stroke-linecap="butt" stroke-linejoin="round"/>
<polygon points="493.6,402.9 474,423.5 491.6,434.9 511.2,414.3" fill="#fff" stroke="#000" stroke-width="2.7" stroke-linejoin="round"/>
<polygon points="467.7,430.2 450,448.8 467.7,460.1 485.3,441.6" fill="#fff" stroke="#000" stroke-width="2.7" stroke-linejoin="round"/>
<polygon points="443.7,455.4 416.3,484.3 433.9,495.6 461.3,466.8" fill="#fff" stroke="#000" stroke-width="2.7" stroke-linejoin="round"/>
<polygon points="410,490.9 390.5,511.5 408.1,522.8 427.6,502.3" fill="#fff" stroke="#000" stroke-width="2.7" stroke-linejoin="round"/>
<polygon points="384.1,518.1 361.7,541.7 379.4,553 401.8,529.5" fill="#fff" stroke="#000" stroke-width="2.7" stroke-linejoin="round"/>
<polygon points="355.4,548.4 331,574.1 348.6,585.4 373.1,559.7" fill="#fff" stroke="#000" stroke-width="2.7" stroke-linejoin="round"/>
<polygon points="324.6,580.8 297.4,609.4 315.1,620.7 342.3,592.1" fill="#fff" stroke="#000" stroke-width="2.7" stroke-linejoin="round"/>
<polygon points="291.1,616.1 264.2,644.4 281.8,655.7 308.7,627.4" fill="#fff" stroke="#000" stroke-width="2.7" stroke-linejoin="round"/>
<polygon points="257.8,651.1 230.1,680.3 247.8,691.6 275.5,662.4" fill="#fff" stroke="#000" stroke-width="2.7" stroke-linejoin="round"/>
<path d="M505 382 L201 702" fill="none" stroke="#000" stroke-width="14.5" stroke-linecap="butt" stroke-linejoin="round"/>
<path d="M505 382 L201 702" fill="none" stroke="#fff" stroke-width="9.6" stroke-linecap="butt" stroke-linejoin="round"/>
<path d="M500.2 394.7l-2.7 -0.3M497.1 398l-2.7 -0.3M494 401.2l-2.7 -0.3M490.9 404.5l-2.7 -0.3M487.8 407.8l-2.7 -0.3M484.7 411l-2.7 -0.3M481.6 414.3l-2.7 -0.3M478.5 417.5l-2.7 -0.3M475.4 420.8l-2.7 -0.3M472.3 424.1l-2.7 -0.3M469.2 427.3l-2.7 -0.3M466.1 430.6l-2.7 -0.3M463 433.9l-2.7 -0.3M459.9 437.1l-2.7 -0.3M456.8 440.4l-2.7 -0.3M453.7 443.6l-2.7 -0.3M450.6 446.9l-2.7 -0.3M447.5 450.2l-2.7 -0.3M444.4 453.4l-2.7 -0.3M441.3 456.7l-2.7 -0.3M438.3 460l-2.7 -0.3M435.2 463.2l-2.7 -0.3M432.1 466.5l-2.7 -0.3M429 469.7l-2.7 -0.3M425.9 473l-2.7 -0.3M422.8 476.3l-2.7 -0.3M419.7 479.5l-2.7 -0.3M416.6 482.8l-2.7 -0.3M413.5 486.1l-2.7 -0.3M410.4 489.3l-2.7 -0.3M407.3 492.6l-2.7 -0.3M404.2 495.8l-2.7 -0.3M401.1 499.1l-2.7 -0.3M398 502.4l-2.7 -0.3M394.9 505.6l-2.7 -0.3M391.8 508.9l-2.7 -0.3M388.7 512.2l-2.7 -0.3M385.6 515.4l-2.7 -0.3M382.5 518.7l-2.7 -0.3M379.4 521.9l-2.7 -0.3M376.3 525.2l-2.7 -0.3M373.2 528.5l-2.7 -0.3M370.1 531.7l-2.7 -0.3M367 535l-2.7 -0.3M363.9 538.3l-2.7 -0.3M360.8 541.5l-2.7 -0.3M357.7 544.8l-2.7 -0.3M354.6 548l-2.7 -0.3M351.5 551.3l-2.7 -0.3M348.4 554.6l-2.7 -0.3M345.3 557.8l-2.7 -0.3M342.2 561.1l-2.7 -0.3M339.1 564.4l-2.7 -0.3M336 567.6l-2.7 -0.3M332.9 570.9l-2.7 -0.3M329.8 574.1l-2.7 -0.3M326.7 577.4l-2.7 -0.3M323.6 580.7l-2.7 -0.3M320.5 583.9l-2.7 -0.3M317.4 587.2l-2.7 -0.3M314.3 590.5l-2.7 -0.3M311.2 593.7l-2.7 -0.3M308.1 597l-2.7 -0.3M305 600.2l-2.7 -0.3M301.9 603.5l-2.7 -0.3M298.8 606.8l-2.7 -0.3M295.7 610l-2.7 -0.3M292.6 613.3l-2.7 -0.3M289.5 616.6l-2.7 -0.3M286.4 619.8l-2.7 -0.3M283.3 623.1l-2.7 -0.3M280.2 626.3l-2.7 -0.3M277.1 629.6l-2.7 -0.3M274 632.9l-2.7 -0.3M270.9 636.1l-2.7 -0.3M267.8 639.4l-2.7 -0.3M264.7 642.7l-2.7 -0.3M261.6 645.9l-2.7 -0.3M258.5 649.2l-2.7 -0.3M255.4 652.4l-2.7 -0.3M252.3 655.7l-2.7 -0.3M249.2 659l-2.7 -0.3M246.1 662.2l-2.7 -0.3M243 665.5l-2.7 -0.3M239.9 668.8l-2.7 -0.3M236.8 672l-2.7 -0.3M233.7 675.3l-2.7 -0.3M230.6 678.5l-2.7 -0.3M227.5 681.8l-2.7 -0.3M224.4 685.1l-2.7 -0.3M221.3 688.3l-2.7 -0.3M218.2 691.6l-2.7 -0.3M215.1 694.9l-2.7 -0.3M212 698.1l-2.7 -0.3" stroke="#000" stroke-width="1.7"/>
<ellipse cx="200.2" cy="702.9" rx="4.8" ry="7.8" fill="#000" stroke="#000" stroke-width="2.4" transform="rotate(-46 200.2 702.9)"/>
<ellipse cx="520" cy="418" rx="14.6" ry="20.6" fill="#000" transform="rotate(-3.7 520 418)"/>
<polygon points="507.1,423.6 517.8,445.2 525.7,444.7 533.5,421.9" fill="#000"/>
<line x1="521" y1="433.2" x2="522.8" y2="460.2" stroke="#000" stroke-width="8" stroke-linecap="butt"/>
<ellipse cx="522.8" cy="460.2" rx="5.8" ry="9.1" fill="#000" transform="rotate(-3.7 522.8 460.2)"/>
<ellipse cx="520" cy="418" rx="11.4" ry="17.4" fill="#fff" transform="rotate(-3.7 520 418)"/>
<polygon points="510.2,423.4 520.9,445 522.7,444.9 530.4,422.1" fill="#fff"/>
<line x1="521" y1="433.2" x2="522.8" y2="460.2" stroke="#fff" stroke-width="3" stroke-linecap="butt"/>
<ellipse cx="522.8" cy="460.2" rx="3.3" ry="6.4" fill="#fff" transform="rotate(-3.7 522.8 460.2)"/>
<path d="M514.9 433.9h.1M518.9 434.2h.1M522.9 432.4h.1M522.8 427h.1M516.5 433.7h.1M516.9 433.9h.1M514.1 431.8h.1M524.6 430.7h.1M524.8 429.9h.1M515.7 434.9h.1M520 436.5h.1M523.5 424.9h.1M520.9 429.7h.1M522.8 428h.1M526 423.1h.1M517.8 434.1h.1M518.8 432.7h.1M519.7 430.8h.1M522.5 433.8h.1M517.3 434.6h.1M517.3 427.2h.1M524.2 435.2h.1M521.3 434.2h.1M520.5 431.9h.1M515 429.9h.1M516.8 431.1h.1M524.6 435h.1M512.1 428.1h.1M520.1 436.1h.1M527.6 426.1h.1M513.4 431.8h.1M518.1 433.6h.1M518 428.7h.1M527.4 425.6h.1M517 426.3h.1M515.2 426h.1M521.3 425.9h.1M524.3 428.9h.1M518.2 423.9h.1M527.5 432.2h.1M520.4 434.8h.1M527.6 429.7h.1M524.5 424.1h.1M524.9 427.7h.1" stroke="#000" stroke-width="1.4" stroke-linecap="round" fill="none"/>
<path d="M531.9 421.6L528.4 420.5M531.7 423L528.3 421.5M531.2 425.5L528.5 423.6M530.1 428.5L528.6 426.9M529.5 429.7L527.5 427.2M528.2 431.7L526 428M526.7 433.4L525.7 431.1M525.9 434.1L524.9 431.3M524.1 435.2L523.1 430.8M522.6 435.7L522.2 432.5M520.2 436L520.2 433.3M518.8 435.8L519 432.2M517.3 435.3L518 431M516.2 434.7L516.8 432.1M513.9 433L514.9 430.5M512.8 431.8L514.2 429.2M511.3 429.7L512.7 427.7M510.5 428.2L511.8 426.8M509.4 425.8L512.4 423.6M508.9 424.2L511.5 422.8" stroke="#000" stroke-width="1.3" fill="none"/>
<path d="M508.1 414.8L509.4 415.1M509.2 409.3L510.1 410.1M510.8 405.6L512 407.2M512.8 403.1L513.4 404.4M516 400.8L516.4 402.6M519.4 400L519.5 402.3M523.8 401.3L523.2 403.7M526.1 403L525.3 405M529.1 407L528 408.4M530.8 411L529.9 411.6" stroke="#000" stroke-width="1.1" fill="none"/>
<ellipse cx="497" cy="447" rx="16.1" ry="21.6" fill="#000" transform="rotate(-2.3 497 447)"/>
<polygon points="482.6,452.6 494.1,475.1 502.1,474.8 511.8,451.4" fill="#000"/>
<line x1="497.6" y1="463" x2="498.8" y2="493.2" stroke="#000" stroke-width="8" stroke-linecap="butt"/>
<ellipse cx="498.8" cy="493.2" rx="5.8" ry="9.1" fill="#000" transform="rotate(-2.3 498.8 493.2)"/>
<ellipse cx="497" cy="447" rx="12.9" ry="18.4" fill="#fff" transform="rotate(-2.3 497 447)"/>
<polygon points="485.7,452.5 497.2,475 499,474.9 508.7,451.5" fill="#fff"/>
<line x1="497.6" y1="463" x2="498.8" y2="493.2" stroke="#fff" stroke-width="3" stroke-linecap="butt"/>
<ellipse cx="498.8" cy="493.2" rx="3.3" ry="6.4" fill="#fff" transform="rotate(-2.3 498.8 493.2)"/>
<path d="M492.3 465.4h.1M503.3 458.7h.1M496 462h.1M498.9 466.7h.1M499.9 460.6h.1M494 466.4h.1M501.5 461.7h.1M506.6 455.9h.1M495.3 457.2h.1M496.1 457.5h.1M498 461.6h.1M504.9 456.8h.1M494.2 464.6h.1M492.4 456.3h.1M491.6 463.9h.1M501.9 454.3h.1M491.4 462.3h.1M500.2 464h.1M499.8 454.9h.1M493.3 459.7h.1M491.9 462.5h.1M492.9 459.8h.1M502.2 459.4h.1M490.4 461h.1M503.5 453.3h.1M497.7 459.9h.1M492.6 462.1h.1M493.9 465.2h.1M497.8 463.6h.1M499.5 456.4h.1M492.1 455.2h.1M496.2 459.1h.1M502.7 456.5h.1M495.9 466h.1M490.3 462.4h.1M502.5 460h.1M502.3 458.9h.1M493 465.2h.1M502.2 464.4h.1M499.9 463.8h.1M500.4 463.4h.1M501.1 453.8h.1M488.9 461.2h.1M506.2 458.8h.1M493.9 455.7h.1M502.2 462.9h.1M496.8 467h.1M495.1 465.7h.1M500.5 460h.1M493.5 461.9h.1M499 453.5h.1M488.5 460.4h.1" stroke="#000" stroke-width="1.4" stroke-linecap="round" fill="none"/>
<path d="M510.3 451L508.3 450.4M509.9 453.2L508.2 452.4M509.5 454.8L506.8 453.1M508.9 456.5L505.6 453.9M507.7 459.1L505.4 456.5M506.7 460.6L504.3 457.2M505.6 461.9L504.5 459.9M504.4 463.2L503.5 461.2M502.4 464.6L501.4 461.6M501 465.3L500.2 461.9M499.9 465.7L499.5 463.2M498.4 465.9L498.2 463.4M496.3 465.9L496.5 462M494.3 465.5L495 461M493.7 465.3L494.3 461.7M491.8 464.3L493.2 459.8M489.9 462.9L491.7 458.8M489.2 462.2L491.2 458.4M487.9 460.6L490.2 457.2M486.8 459L488.3 457.3M485.5 456.5L488.5 454M484.8 454.7L487.2 453.2M484 451.8L487 450.7" stroke="#000" stroke-width="1.3" fill="none"/>
<path d="M483.6 444L485.1 444.3M484.8 438.4L486.4 439.5M487.3 433.5L488.1 434.6M488.8 431.6L489.9 433.8M491.3 429.5L491.8 430.9M496.3 428L496.4 430.5M499.9 428.6L499.6 430.6M502.5 429.9L502 431.4M505 432L503.9 434M507.7 435.8L506.5 437M509.7 441L508.3 441.6" stroke="#000" stroke-width="1.1" fill="none"/>
<ellipse cx="475" cy="474" rx="16.1" ry="22.6" fill="#000" transform="rotate(-1.2 475 474)"/>
<polygon points="460.5,479.5 471.6,503.1 479.6,502.9 489.7,479" fill="#000"/>
<line x1="475.3" y1="490.8" x2="475.9" y2="519.2" stroke="#000" stroke-width="8" stroke-linecap="butt"/>
<ellipse cx="475.9" cy="519.2" rx="5.8" ry="9.1" fill="#000" transform="rotate(-1.2 475.9 519.2)"/>
<ellipse cx="475" cy="474" rx="12.9" ry="19.4" fill="#fff" transform="rotate(-1.2 475 474)"/>
<polygon points="463.6,479.5 474.7,503 476.5,503 486.6,479" fill="#fff"/>
<line x1="475.3" y1="490.8" x2="475.9" y2="519.2" stroke="#fff" stroke-width="3" stroke-linecap="butt"/>
<ellipse cx="475.9" cy="519.2" rx="3.3" ry="6.4" fill="#fff" transform="rotate(-1.2 475.9 519.2)"/>
<path d="M474.5 484.8h.1M467.6 489.8h.1M474.8 493h.1M477.3 489.9h.1M472.8 489.7h.1M483 486.4h.1M477 489.6h.1M480.4 492h.1M473.7 489.6h.1M468.7 489.9h.1M468.2 483.4h.1M481.5 489.9h.1M482.7 491h.1M485.8 480.7h.1M482.6 480.1h.1M483.5 486.1h.1M484 487.5h.1M468.2 487.8h.1M475.4 489.8h.1M476.2 486.9h.1M466.7 486.9h.1M480.9 488.4h.1M477.4 492.4h.1M481 485.9h.1M477.6 493.4h.1M468.5 487.9h.1M472.7 490.4h.1M480.8 489.5h.1M465.8 483h.1M469.8 484h.1M471.4 490.6h.1M479.1 484.1h.1M483.9 480.1h.1M475.5 493.4h.1M470.8 486.1h.1M471.1 486h.1M471.9 491.8h.1M471.2 493.7h.1M478 481.4h.1M481.9 484.2h.1M466.7 488.4h.1M468.8 486.4h.1M466.2 488.5h.1M472.9 494.3h.1M474 493.5h.1M472.8 486h.1M481 485.7h.1M474.9 492h.1M485.7 483.5h.1M482.3 482.3h.1M477.4 488.4h.1M469.9 486.2h.1M472.4 491.5h.1M470.3 487.2h.1M475 492.8h.1" stroke="#000" stroke-width="1.4" stroke-linecap="round" fill="none"/>
<path d="M488.2 478.3L486 477.5M487.9 480.2L485.9 479.3M487.3 482.7L485.9 481.7M486.7 484.3L484.4 482.3M485.3 487.2L482.8 483.9M484.4 488.6L482 484.9M483.5 489.7L481.8 486.6M481.9 491.3L480.5 487.8M480.3 492.5L479.3 488.7M478.5 493.4L477.6 488.2M477.5 493.7L477.2 491.3M475.9 494L475.8 491.2M473.6 493.9L473.9 490.4M472.3 493.5L473 488.4M471 493L471.8 489.3M469.1 491.8L469.9 489.3M468.1 491.1L469.1 488.7M466.9 489.8L468.8 486M465.7 488.2L468 484.7M464.2 485.8L465.9 484M463.2 483.4L464.8 482.1M462.7 481.8L464.9 480.4M462.2 480.1L463.7 479.3" stroke="#000" stroke-width="1.3" fill="none"/>
<path d="M461.9 469L463 469.5M462.8 465.3L463.7 466M465 460.4L466.4 462.4M468 456.7L468.7 458.4M471.5 454.6L471.8 456.4M473.6 454.1L473.8 456.3M478.3 454.7L478 456.5M480.3 455.8L479.6 458.2M483.1 458.2L482.1 460M485.3 461.4L484.5 462.4M487.4 466.4L485.7 467.5" stroke="#000" stroke-width="1.1" fill="none"/>
<ellipse cx="451" cy="516" rx="16.6" ry="23.6" fill="#000" transform="rotate(-1.3 451 516)"/>
<polygon points="436.1,521.8 447.7,546.1 455.7,545.9 466.2,521.2" fill="#000"/>
<line x1="451.4" y1="533.6" x2="451.9" y2="556.2" stroke="#000" stroke-width="8" stroke-linecap="butt"/>
<ellipse cx="451.9" cy="556.2" rx="5.8" ry="9.1" fill="#000" transform="rotate(-1.3 451.9 556.2)"/>
<ellipse cx="451" cy="516" rx="13.4" ry="20.4" fill="#fff" transform="rotate(-1.3 451 516)"/>
<polygon points="439.2,521.8 450.8,546 452.6,546 463.1,521.2" fill="#fff"/>
<line x1="451.4" y1="533.6" x2="451.9" y2="556.2" stroke="#fff" stroke-width="3" stroke-linecap="butt"/>
<ellipse cx="451.9" cy="556.2" rx="3.3" ry="6.4" fill="#fff" transform="rotate(-1.3 451.9 556.2)"/>
<path d="M456.1 533.1h.1M445.9 528.4h.1M452.2 527.8h.1M454.5 530.6h.1M452.2 536.8h.1M459.9 532.3h.1M447 530.1h.1M443.3 533.4h.1M458 534.5h.1M453.7 534.9h.1M449.5 531.8h.1M459.4 527.1h.1M457.4 530.6h.1M453.3 535.1h.1M452.4 521.6h.1M454.4 534.5h.1M454.3 529h.1M457.2 535.1h.1M457 535.9h.1M456.2 528.6h.1M453 524h.1M457.9 525.1h.1M461.5 521.7h.1M450 532.6h.1M443.9 532.9h.1M446.1 528.3h.1M448.6 531.7h.1M450 536.6h.1M451 533.6h.1M455.9 536.6h.1M444.1 532.5h.1M446 535h.1M452.1 537.6h.1M453 528.4h.1M447.5 531.4h.1M455.7 537.1h.1M445.3 529.3h.1M458.4 526.5h.1M441.1 529.1h.1M459.8 521.8h.1M448.7 533.2h.1M450.6 537.9h.1M456.4 534.6h.1M458.1 533.5h.1M446.4 532.5h.1M450.1 537.5h.1M440.8 528.5h.1M459.2 533h.1M447.1 531.4h.1M457.7 531.3h.1M458.2 532.4h.1M446.6 526.3h.1M450.7 533.8h.1M449.2 534.4h.1M455.5 535.2h.1M452.2 528.4h.1M443.8 528.3h.1M448.8 536.3h.1M453.8 524.9h.1M450.3 537.3h.1" stroke="#000" stroke-width="1.4" stroke-linecap="round" fill="none"/>
<path d="M464.8 520.3L463.2 519.8M464.4 522.4L462.4 521.4M463.9 524.7L460.6 522.5M463.2 526.5L460.6 524.2M462.1 529.2L459.4 526M460.9 531.1L459.5 528.9M460.3 532L459 529.9M458.7 533.8L457.2 530.4M456.9 535.2L455.6 530.8M455.8 535.8L455.1 533M453.8 536.7L453.3 533.3M452.7 536.9L452.4 533.3M450.6 537L450.6 534.1M449.6 536.8L449.9 532.5M447.7 536.3L448.5 531.1M446.5 535.8L447.5 531.5M444.7 534.6L445.5 532M443.6 533.6L445 530.3M442.1 532L444 528.6M440.6 529.7L442.8 526.8M439.6 527.8L441.6 525.7M438.8 525.9L441.7 523.5M438.3 524.4L440.1 523.2M437.6 521.6L439.1 521" stroke="#000" stroke-width="1.3" fill="none"/>
<path d="M437.3 511.1L439.2 511.8M438.6 505.9L439.4 506.5M440.4 502L441.8 503.9M442.1 499.6L443.1 501.6M445.6 496.5L446.1 498.4M449.1 495.2L449.3 497.4M450.8 495L450.8 497.5M454.5 495.8L454.3 497.2M457.9 497.9L457.1 499.9M460.8 501.3L460 502.5M462 503.3L460.7 504.7M464 508.4L462.2 509.5" stroke="#000" stroke-width="1.1" fill="none"/>
<ellipse cx="424.5" cy="543" rx="16.1" ry="23.6" fill="#000" transform="rotate(-7 424.5 543)"/>
<polygon points="410.7,550.2 424.2,573.3 432.1,572.3 439.7,546.7" fill="#000"/>
<line x1="426.6" y1="560.5" x2="429.5" y2="584.2" stroke="#000" stroke-width="8" stroke-linecap="butt"/>
<ellipse cx="429.5" cy="584.2" rx="5.8" ry="9.1" fill="#000" transform="rotate(-7 429.5 584.2)"/>
<ellipse cx="424.5" cy="543" rx="12.9" ry="20.4" fill="#fff" transform="rotate(-7 424.5 543)"/>
<polygon points="413.8,549.9 427.2,572.9 429,572.7 436.6,547.1" fill="#fff"/>
<line x1="426.6" y1="560.5" x2="429.5" y2="584.2" stroke="#fff" stroke-width="3" stroke-linecap="butt"/>
<ellipse cx="429.5" cy="584.2" rx="3.3" ry="6.4" fill="#fff" transform="rotate(-7 429.5 584.2)"/>
<path d="M423.4 555.4h.1M424.5 564.9h.1M421.9 556.8h.1M431.8 552.4h.1M424 561.9h.1M423.6 558.3h.1M422.2 562.8h.1M428.6 556.3h.1M425.4 556.7h.1M422 554.4h.1M424.7 551.2h.1M423.1 560.6h.1M423.5 563.7h.1M416.1 554.9h.1M418.9 560.8h.1M428.7 560.8h.1M431.2 562.2h.1M433 558.8h.1M430.5 561.1h.1M427.3 563.6h.1M427.2 559.2h.1M434.2 558.6h.1M427.2 561.5h.1M432.8 554.7h.1M427.9 564.1h.1M430 552.8h.1M427.3 561.7h.1M432.7 553.1h.1M430.5 563.9h.1M427.4 551.9h.1M432.8 546.8h.1M432.7 552.1h.1M429.3 563.9h.1M428.5 554.8h.1M433.4 560.5h.1M418.3 559.7h.1M432.5 551h.1M431.4 550h.1M428.8 553.5h.1M422.3 558.7h.1M430.8 550.2h.1M433.4 559h.1M422.4 552.7h.1M432.2 559.2h.1M424.6 558.9h.1M433.9 551.2h.1M421.5 558.7h.1M428 558.7h.1M427.4 561h.1M422.7 563.8h.1M428 562h.1M424.7 552.2h.1M426 562.5h.1M428 549.9h.1M424.1 564.8h.1M430.9 549.8h.1M421.7 561.9h.1M434.5 558.8h.1" stroke="#000" stroke-width="1.4" stroke-linecap="round" fill="none"/>
<path d="M438.1 545.9L435.1 545.3M438 548.2L434.8 547M437.6 550.8L435.9 549.7M437.1 553.2L435.5 551.9M436.2 555.7L434.4 553.7M435.7 556.8L433.3 553.9M434.7 558.5L432.7 555.5M433.4 560.3L432.1 557.8M431.6 561.9L430.2 558.2M430.5 562.7L429.2 558.5M429.4 563.2L428.5 559.3M427.4 563.8L426.7 558.9M425.5 563.9L425.3 560.2M424.3 563.8L424.4 559.8M422.3 563.1L422.6 560.5M421.1 562.6L421.9 557.9M418.9 561L420.1 556.9M417.7 559.9L419.2 556.3M416.1 557.9L417.6 555.2M415.2 556.6L416.6 554.5M414.3 555.1L415.4 553.8M412.8 551.6L415.5 549.7M412.3 550.2L414.5 548.9" stroke="#000" stroke-width="1.3" fill="none"/>
<path d="M410.9 538.9L411.8 539.1M411.9 533.1L412.7 533.7M413 529.9L414.4 531.6M414.6 527L415.6 528.6M417.9 523.7L418.8 526.5M421.7 522.2L422.1 524.8M425.6 522.5L425.5 525M428.8 524L428.4 525.7M431.5 526.3L430.6 528.3M434.3 530.2L432.9 532M436.6 535.5L435.2 536.4" stroke="#000" stroke-width="1.1" fill="none"/>
<ellipse cx="398" cy="574" rx="18.6" ry="24.6" fill="#000" transform="rotate(0.5 398 574)"/>
<polygon points="381.1,579.6 393.7,605 401.7,605 414.8,579.9" fill="#000"/>
<line x1="397.8" y1="592.4" x2="397.5" y2="624.2" stroke="#000" stroke-width="8" stroke-linecap="butt"/>
<ellipse cx="397.5" cy="624.2" rx="5.8" ry="9.1" fill="#000" transform="rotate(0.5 397.5 624.2)"/>
<ellipse cx="398" cy="574" rx="15.4" ry="21.4" fill="#fff" transform="rotate(0.5 398 574)"/>
<polygon points="384.2,579.6 396.8,605 398.6,605 411.7,579.9" fill="#fff"/>
<line x1="397.8" y1="592.4" x2="397.5" y2="624.2" stroke="#fff" stroke-width="3" stroke-linecap="butt"/>
<ellipse cx="397.5" cy="624.2" rx="3.3" ry="6.4" fill="#fff" transform="rotate(0.5 397.5 624.2)"/>
<path d="M393.9 593.9h.1M402.6 588.6h.1M396.4 587.3h.1M392.1 593.1h.1M406.4 586.4h.1M407 590.2h.1M404.2 587.5h.1M405.9 590.3h.1M395.4 596.9h.1M406.9 591.6h.1M397.2 594.8h.1M408.7 590.2h.1M401.4 587.2h.1M398 582.9h.1M402.3 592.1h.1M401.5 589h.1M403.3 590h.1M408.5 582.4h.1M398.4 580.4h.1M396.5 595h.1M401.2 585.6h.1M401 590.1h.1M402.1 591.4h.1M393.9 587.9h.1M404.2 593.8h.1M399.6 590h.1M407.3 584.4h.1M396.3 583.3h.1M398 593.2h.1M396.8 593.7h.1M393 588.3h.1M407.9 588.3h.1M389.5 592.3h.1M411 578.6h.1M399.6 588.7h.1M393.6 591.7h.1M410 579.5h.1M408.8 590h.1M404.3 585.2h.1M388.9 590.6h.1M401.3 586.1h.1M392.1 585.2h.1M399.7 592.7h.1M400.7 589.4h.1M392.2 588.6h.1M401.4 590.8h.1M388.2 586.9h.1M406.1 588.9h.1M397.6 594.1h.1M406 583.7h.1M403 581.8h.1M391.1 585.3h.1M404.2 595.2h.1M394.8 588.3h.1M406.6 580.6h.1M399.8 592.1h.1M392.3 594.4h.1M402.5 589h.1M401.4 596.4h.1M409 584h.1M402.9 591h.1M394.1 587.3h.1M391.6 590.5h.1M401.2 590.6h.1M390.1 589.1h.1M390.6 593.2h.1M392 584.3h.1M388.7 585.7h.1M392.5 584.3h.1M397.6 596.7h.1M394.5 588h.1" stroke="#000" stroke-width="1.4" stroke-linecap="round" fill="none"/>
<path d="M413.7 578.4L411.1 577.7M413.3 580.2L409.9 578.8M412.5 583.1L410.8 582M411.8 585L410.1 583.6M411 586.8L408.6 584.5M409.6 589.1L407.5 586.4M408.6 590.4L407.4 588.4M407.1 592L405.3 588.4M406.4 592.7L405.3 590.2M404.9 593.8L404 591.3M402.6 595L401.9 591.9M401.8 595.4L400.9 590.5M399.9 595.8L399.4 590.9M398 596L398 593.6M396.9 596L397.2 590.8M394.4 595.5L395 591.6M392.9 594.9L393.7 591.6M391.3 594.1L393 589.2M390.1 593.2L391.3 590.3M389.1 592.4L390.4 589.8M387.7 591L390 587.3M386.3 589.1L388.6 586.1M385.4 587.6L386.9 586M384.2 585.2L385.8 583.9M383.5 583.4L386.4 581.5M382.8 581.1L384.8 580.2M382.5 579.5L385.5 578.5" stroke="#000" stroke-width="1.3" fill="none"/>
<path d="M382.5 568.6L383.5 569M383.4 565L385.2 566.1M385.2 561L386.9 562.7M387.5 557.5L388.5 559.1M390.7 554.5L391.3 556.3M393.8 552.8L394.2 554.8M398 552L398 553.6M400.4 552.2L400.2 553.5M405 554.1L404.5 555.5M408 556.8L406.7 559.1M409.7 558.9L408.8 560M411.5 562.1L409.8 563.6M413.3 567.4L411.9 567.9" stroke="#000" stroke-width="1.1" fill="none"/>
<ellipse cx="369" cy="608" rx="17.6" ry="24.6" fill="#000"/>
<polygon points="353.1,613.8 365,639 373,639 384.9,613.8" fill="#000"/>
<line x1="369" y1="626.4" x2="369" y2="657.2" stroke="#000" stroke-width="8" stroke-linecap="butt"/>
<ellipse cx="369" cy="657.2" rx="5.8" ry="9.1" fill="#000"/>
<ellipse cx="369" cy="608" rx="14.4" ry="21.4" fill="#fff"/>
<polygon points="356.1,613.8 368.1,639 369.9,639 381.9,613.8" fill="#fff"/>
<line x1="369" y1="626.4" x2="369" y2="657.2" stroke="#fff" stroke-width="3" stroke-linecap="butt"/>
<ellipse cx="369" cy="657.2" rx="3.3" ry="6.4" fill="#fff"/>
<path d="M373.4 627.4h.1M368.2 620.7h.1M371.1 620.4h.1M378.5 619.3h.1M359.7 623.8h.1M367.8 618.2h.1M372.6 624h.1M381.1 615.9h.1M369.7 627h.1M368.2 629.1h.1M360 622.5h.1M364.4 619.8h.1M372 616.3h.1M365 628.7h.1M366.9 619.9h.1M375.7 627.5h.1M377 624.3h.1M377.9 617.3h.1M365.2 622.3h.1M378.8 622h.1M362.6 616.6h.1M367.6 631h.1M363.8 627.7h.1M369.7 627.6h.1M374.6 617.9h.1M368.6 623.2h.1M378.3 622.2h.1M371.8 624.6h.1M363.9 618.2h.1M377.4 619.4h.1M377.6 616.6h.1M359.2 620.7h.1M378.6 624h.1M373.6 629.6h.1M365.9 625.9h.1M363.8 625.3h.1M378 619.8h.1M371.9 615.3h.1M370.5 626.7h.1M376.8 618.5h.1M374.5 624.1h.1M364.2 622.7h.1M361.1 625.9h.1M378.1 615.6h.1M371.4 622.5h.1M372.6 624.6h.1M378.4 621.8h.1M360.4 625.7h.1M366.4 625h.1M365.5 628.2h.1M369.9 626.4h.1M363.8 629.5h.1M360.1 615.9h.1M368.9 618.3h.1M367.5 624.2h.1M377.6 615.9h.1M380 617.8h.1M379 618h.1M375.1 616.7h.1M376.2 627.8h.1M367.3 626.9h.1M370.3 625h.1M364 628.4h.1M372.5 625.3h.1M378.2 624.3h.1M366.2 624.9h.1" stroke="#000" stroke-width="1.4" stroke-linecap="round" fill="none"/>
<path d="M383.7 612.5L380.6 611.6M383.3 614.5L380.2 613.1M382.6 617.4L381.2 616.4M381.9 619.1L378.9 616.5M380.8 621.7L378.9 619.5M379.6 623.6L378.3 621.7M378.9 624.5L376.9 621.1M377.2 626.4L376 623.9M376.2 627.3L375 624.1M374.2 628.6L373.1 624.3M372.6 629.4L371.8 624.8M371.2 629.8L370.9 627.2M369.8 630L369.7 626.3M367.2 629.8L367.6 624.9M366.1 629.6L366.6 625.6M364.5 629L365.5 624.4M362.5 627.8L363.4 624.9M361.5 627L362.9 623.3M359.6 625.2L361.8 621.2M359 624.4L360 622.7M357.5 622.2L358.9 620.5M356.3 619.7L358.3 617.8M355.8 618.5L358.9 616.1M354.9 615.4L356.5 614.6M354.4 613L357.8 611.8" stroke="#000" stroke-width="1.3" fill="none"/>
<path d="M354.5 602.3L355.9 602.8M355.4 598.8L357.2 600M357.2 594.4L358 595.2M360.5 589.9L361.6 592.2M363 587.8L363.7 590.1M367.1 586.2L367.3 588.2M370.7 586.1L370.5 588.6M373.1 586.8L372.8 588.6M376.8 589.2L376.2 590.8M379.1 591.7L377.8 593.8M381.3 595.3L379.9 596.8M383.3 601.3L382.4 601.7" stroke="#000" stroke-width="1.1" fill="none"/>
<ellipse cx="333" cy="642" rx="18.1" ry="25.6" fill="#000" transform="rotate(-4.1 333 642)"/>
<polygon points="317.1,649.2 331.3,674.2 339.3,673.6 349.8,646.8" fill="#000"/>
<line x1="334.4" y1="661.2" x2="336.7" y2="694.2" stroke="#000" stroke-width="8" stroke-linecap="butt"/>
<ellipse cx="336.7" cy="694.2" rx="5.8" ry="9.1" fill="#000" transform="rotate(-4.1 336.7 694.2)"/>
<ellipse cx="333" cy="642" rx="14.9" ry="22.4" fill="#fff" transform="rotate(-4.1 333 642)"/>
<polygon points="320.2,648.9 334.4,674 336.2,673.9 346.7,647" fill="#fff"/>
<line x1="334.4" y1="661.2" x2="336.7" y2="694.2" stroke="#fff" stroke-width="3" stroke-linecap="butt"/>
<ellipse cx="336.7" cy="694.2" rx="3.3" ry="6.4" fill="#fff" transform="rotate(-4.1 336.7 694.2)"/>
<path d="M344 651.5h.1M329.2 664.4h.1M324.7 657.4h.1M338.3 649.6h.1M344 655.4h.1M340.4 654.1h.1M341.7 658.9h.1M336.8 658.1h.1M337.1 659.5h.1M341 657.3h.1M336.4 663.2h.1M334 654.8h.1M328.6 657.9h.1M341.8 655.8h.1M339.3 660.6h.1M338 664.5h.1M335.3 664.5h.1M340.4 656.8h.1M328.5 660h.1M331.9 664.3h.1M345.8 648.5h.1M332.2 662.2h.1M338.6 652.1h.1M333 665.4h.1M338.4 653.7h.1M334.8 665.7h.1M334.5 661.3h.1M328.4 659.4h.1M332.7 657.2h.1M332.2 659.1h.1M324.7 655.3h.1M340.3 659.9h.1M337.4 658.6h.1M335.8 661.7h.1M338.7 656.2h.1M327.1 659.5h.1M339.7 659.7h.1M331.2 663h.1M332.3 663.2h.1M340.1 647.7h.1M332.5 661.8h.1M341.8 655.7h.1M337.5 663.2h.1M332.1 665.7h.1M339.4 657.4h.1M341.2 651.6h.1M329.8 659h.1M343.2 649.2h.1M332.1 650.6h.1M340.1 662.3h.1M326.7 656.5h.1M329.1 655.7h.1M341.9 660.3h.1M326.9 657.7h.1M324.1 655.5h.1M343.4 655h.1M336.9 663.7h.1M334.1 656.4h.1M337.3 654.1h.1M332.2 662.9h.1M335.8 662.4h.1M329.4 655.9h.1M344.2 655.9h.1M339.1 656.5h.1M326.9 662.5h.1M335.4 655.6h.1M344.5 654.2h.1M329 659.5h.1M335.6 651.4h.1M323.4 655.5h.1M322.3 655.9h.1M342.8 657.6h.1" stroke="#000" stroke-width="1.4" stroke-linecap="round" fill="none"/>
<path d="M348.5 644.9L347 644.7M348.2 648.2L345.6 647.1M347.9 649.7L345.6 648.5M347.2 652.5L345.3 651.1M346.6 654.2L344.5 652.3M345.5 656.7L344.1 655M344.6 658.3L342.2 654.9M343.2 660.2L341.2 656.7M341.9 661.6L339.8 657M340.1 663L338.4 658.2M338.7 663.8L338.1 661.5M337 664.5L336.2 660.1M336.2 664.7L335.7 661.1M333.9 665L333.8 662.4M332.4 664.9L332.5 662.3M330.9 664.5L331.4 659.6M329 663.8L329.9 659M327.6 663.1L328.3 660.6M326.2 662L327.1 659.5M324.4 660.4L326.3 656.3M323 658.7L324.1 656.9M321.9 657.1L323.8 654.4M320.7 654.9L322.2 653.3M319.9 653.2L322.1 651.3M319.1 651.1L321.1 649.8M318.4 648.4L320.8 647.4" stroke="#000" stroke-width="1.3" fill="none"/>
<path d="M317.7 636.9L318.8 637.3M318.3 633.4L319.8 634.3M319.4 629.8L321.1 631.4M322.4 624.3L323.2 625.7M324.7 621.9L325.6 624.3M327.4 620.1L328 622.2M330.6 619.1L330.8 621.4M334.5 619.3L334.4 620.8M336.5 620L336.3 621.4M340.1 622.2L339.5 623.9M343 625.3L342.5 626.2M345.2 628.7L344.1 629.9M347.5 634.8L346.5 635.3" stroke="#000" stroke-width="1.1" fill="none"/>
<ellipse cx="298.5" cy="676" rx="19.6" ry="26.6" fill="#000" transform="rotate(-1 298.5 676)"/>
<polygon points="280.9,682.6 295.1,709.1 303.1,708.9 316.4,681.9" fill="#000"/>
<line x1="298.9" y1="696" x2="299.4" y2="728.2" stroke="#000" stroke-width="8" stroke-linecap="butt"/>
<ellipse cx="299.4" cy="728.2" rx="5.8" ry="9.1" fill="#000" transform="rotate(-1 299.4 728.2)"/>
<ellipse cx="298.5" cy="676" rx="16.4" ry="23.4" fill="#fff" transform="rotate(-1 298.5 676)"/>
<polygon points="284,682.5 298.2,709 300,709 313.3,682" fill="#fff"/>
<line x1="298.9" y1="696" x2="299.4" y2="728.2" stroke="#fff" stroke-width="3" stroke-linecap="butt"/>
<ellipse cx="299.4" cy="728.2" rx="3.3" ry="6.4" fill="#fff" transform="rotate(-1 299.4 728.2)"/>
<path d="M297.7 694h.1M293.2 687.9h.1M294 687h.1M294.7 691.5h.1M298.1 700.7h.1M309.9 688.4h.1M294 688.1h.1M308.2 691.4h.1M300.5 695.6h.1M302.7 699.2h.1M302 688.3h.1M298.3 693.1h.1M305.2 686.8h.1M303.7 696.9h.1M310.2 686.5h.1M308.3 689.4h.1M303.3 696.4h.1M305.8 696.3h.1M298.3 688.4h.1M306.7 687.5h.1M304.5 687h.1M303.4 690.7h.1M301.9 695.2h.1M294.5 695.9h.1M301.6 700.3h.1M294.6 695.2h.1M290.2 693.3h.1M306.9 687.9h.1M292 697.7h.1M301.1 688.8h.1M309.2 693.7h.1M306.2 689.9h.1M310 690.2h.1M295.3 699.3h.1M303.2 694.9h.1M295.8 701h.1M304.8 699.1h.1M297.1 701.2h.1M303.5 696.2h.1M302.8 694.8h.1M306.2 696.9h.1M309.9 686.1h.1M306.6 691.2h.1M295.4 687.8h.1M300.2 697.4h.1M296 685.9h.1M289.8 696.3h.1M292.7 697.5h.1M299.5 698.8h.1M306.4 694.1h.1M288.1 692.8h.1M297.7 694.2h.1M307.7 693.6h.1M300.7 698.1h.1M307.2 690.1h.1M299.9 693.8h.1M294.7 693.4h.1M309.1 688.9h.1M298.9 701.3h.1M295.3 697.1h.1M312.5 683.8h.1M305.2 693.5h.1M296.9 692.3h.1M294.6 700.2h.1M292.5 699.2h.1M294.1 690.5h.1M289.5 694.8h.1M306.3 690.1h.1M299.5 693.1h.1M303 691.1h.1M298.1 700.1h.1M310.1 692.7h.1M298.2 686.3h.1M297.5 701h.1M298.5 689.8h.1M303.7 692.2h.1M294.8 695h.1M302.8 683.7h.1M305.6 688.5h.1M298.6 700.2h.1M292.3 696.3h.1" stroke="#000" stroke-width="1.4" stroke-linecap="round" fill="none"/>
<path d="M315.2 680.7L311.6 679.7M315 682.2L313.4 681.6M314.1 685.7L311.8 684.3M313.4 687.8L311.1 686M312.5 689.8L310.8 688.2M311.4 691.8L308.7 688.5M310.6 693L308.9 690.6M309.3 694.8L307.8 692.2M307.7 696.3L306 692.6M306.8 697.1L305.4 693.5M304.6 698.5L303.5 694.6M303.8 698.9L303.3 696.5M301.3 699.7L300.8 695.7M299.9 699.9L299.7 696.7M298 700L298.1 695.8M296.9 699.9L297.1 697.3M294.7 699.3L295.3 695.4M293 698.6L293.6 695.9M291.5 697.7L293 692.9M290.7 697.2L292.4 692.5M289.1 695.8L290.8 692.1M287.2 693.7L289.3 690.4M286.1 692.2L287.4 690.5M285.1 690.5L287 688.4M284 688.3L286.9 685.9M283.3 686.4L285.9 684.7M282.7 684.4L285.6 682.9M282.2 682.5L283.9 681.8" stroke="#000" stroke-width="1.3" fill="none"/>
<path d="M282.1 669.5L283.4 670.1M282.8 666.5L284.2 667.4M284.8 661.5L285.7 662.4M286.4 658.9L287.6 660.6M289.8 655.2L290.6 657M291.7 653.9L292.4 656M294.9 652.5L295.2 654.5M299.6 652.1L299.5 654.4M302.5 652.7L302 655.2M306.1 654.6L305.2 657M309.1 657.4L308.2 659M311.4 660.7L309.9 662.4M312.6 662.9L311.9 663.6M314.4 667.8L313.1 668.5" stroke="#000" stroke-width="1.1" fill="none"/>
<ellipse cx="260" cy="709" rx="19.6" ry="26.6" fill="#000" transform="rotate(-2 260 709)"/>
<polygon points="242.5,715.9 257.2,742.1 265.2,741.8 278,714.6" fill="#000"/>
<line x1="260.7" y1="729" x2="261.9" y2="762.2" stroke="#000" stroke-width="8" stroke-linecap="butt"/>
<ellipse cx="261.9" cy="762.2" rx="5.8" ry="9.1" fill="#000" transform="rotate(-2 261.9 762.2)"/>
<ellipse cx="260" cy="709" rx="16.4" ry="23.4" fill="#fff" transform="rotate(-2 260 709)"/>
<polygon points="245.6,715.8 260.3,742 262.1,741.9 274.9,714.7" fill="#fff"/>
<line x1="260.7" y1="729" x2="261.9" y2="762.2" stroke="#fff" stroke-width="3" stroke-linecap="butt"/>
<ellipse cx="261.9" cy="762.2" rx="3.3" ry="6.4" fill="#fff" transform="rotate(-2 261.9 762.2)"/>
<path d="M254.3 732.2h.1M272.5 724.8h.1M249.3 721.6h.1M271.5 723.1h.1M266.7 729.6h.1M256.9 719.2h.1M258.8 727.3h.1M261.5 726h.1M266.9 726.3h.1M255.1 726.7h.1M265.3 726h.1M269.6 726h.1M264.9 725.1h.1M250.8 724.3h.1M270 721.7h.1M270.2 723.7h.1M263.7 723.7h.1M268.5 722.1h.1M260.4 728.8h.1M257.6 721.4h.1M264.9 733h.1M264.6 731h.1M266.4 722.9h.1M267.6 731.1h.1M265.1 726.6h.1M265.7 718.2h.1M261.2 725.8h.1M261.9 730.4h.1M271 725.7h.1M266.6 728.2h.1M255.6 725.6h.1M252.8 725.2h.1M263 718.4h.1M264 732.2h.1M270.8 720.9h.1M259.6 734h.1M262.4 730.4h.1M249.2 723.3h.1M255.6 732.2h.1M268.5 727.8h.1M266.7 730.9h.1M257.8 722h.1M269.5 726.8h.1M248.6 725h.1M260.8 733.5h.1M270.3 722.8h.1M261.5 730.3h.1M261.2 725.5h.1M270.3 717.2h.1M259.2 733.5h.1M265.3 731.7h.1M258 731.8h.1M250.2 728.4h.1M258.3 733.9h.1M261.3 728.1h.1M267.8 727.8h.1M258.4 722.1h.1M268.6 715.6h.1M258.7 729.2h.1M268.7 719.3h.1M257.7 727.4h.1M272 726.5h.1M260.3 727.4h.1M257.9 730.1h.1M272.6 723.9h.1M268 717.2h.1M262.2 731.5h.1M264.9 722.3h.1M266 728.6h.1M270.5 720.6h.1M250.9 729h.1M264.4 718.6h.1M272.2 720.1h.1M250.3 720.3h.1M262 731.1h.1M260.4 727.4h.1M260.9 727.7h.1M259.7 733.9h.1M261 721.2h.1M267.2 726.9h.1M253.7 723.4h.1" stroke="#000" stroke-width="1.4" stroke-linecap="round" fill="none"/>
<path d="M276.8 713.4L273.9 712.6M276.4 715.9L272.9 714.4M275.8 718.5L272.4 716.5M275.5 719.5L273.7 718.3M274.6 721.9L272.8 720.3M273.3 724.4L270.4 721M272.6 725.6L270.8 723.2M271.5 727L269.7 724.2M270 728.7L269 726.8M268.5 730.1L266.7 725.8M267.3 730.9L266.5 728.3M264.9 732.2L264.1 728.7M263.2 732.7L262.5 727.4M261.5 732.9L261.4 730.4M260.3 733L260.2 729M258.6 732.9L258.8 729.2M256.5 732.4L257.3 727.3M255.3 731.9L256 728.5M254 731.2L255.3 726.5M252.5 730.2L253.5 727.2M250.3 728.4L251.9 725.1M249.5 727.6L251 725M247.7 725.2L249.4 723M246.7 723.6L249 721.1M245.9 722L248.5 719.7M245.1 719.9L248 717.8M244.1 717.1L246 716.2M243.6 714.8L245.9 714" stroke="#000" stroke-width="1.3" fill="none"/>
<path d="M243.2 704.3L244.6 704.7M244 700.3L245 700.9M245.5 696L246.3 696.8M247.6 692.2L249.1 694.3M250 689.2L250.8 690.7M252.7 687.1L253.3 688.8M257.7 685.2L257.8 686.7M259.3 685L259.4 687M264.5 686L264.1 688.3M267.2 687.5L266.4 690M269.7 689.6L269.1 690.8M271.7 692L270.4 693.8M274.8 697.8L273.8 698.5M275.6 700L274.7 700.6" stroke="#000" stroke-width="1.1" fill="none"/>
<ellipse cx="716" cy="383" rx="15.1" ry="17.6" fill="#000" transform="rotate(10 716 383)"/>
<polygon points="702.5,387.6 712.8,407.2 721.4,406.8 729.9,386.4" fill="#000"/>
<line x1="716.6" y1="395.8" x2="719" y2="446.9" stroke="#000" stroke-width="8.6" stroke-linecap="butt"/>
<ellipse cx="719" cy="446.9" rx="4.5" ry="4.5" fill="#000" transform="rotate(10 719 446.9)"/>
<ellipse cx="716" cy="383" rx="11.9" ry="14.4" fill="#fff" transform="rotate(10 716 383)"/>
<polygon points="705.6,387.5 715.9,407 718.3,406.9 726.8,386.5" fill="#fff"/>
<line x1="716.6" y1="395.8" x2="719" y2="446.9" stroke="#fff" stroke-width="2.2" stroke-linecap="butt"/>
<ellipse cx="719" cy="446.9" rx="2" ry="1.9" fill="#fff" transform="rotate(10 719 446.9)"/>
<path d="M706.9 390.7h.1M710.2 394.3h.1M716.6 387.8h.1M712.5 390.7h.1M717.5 394.1h.1M709.2 392.3h.1M715 398.3h.1M713.4 389.9h.1M721.4 392.5h.1M717.7 397.3h.1M719.9 391.7h.1M711 392.5h.1M717.5 391.7h.1M716.8 396.2h.1M713.6 394h.1M718.1 398h.1M721.3 395.4h.1M709.1 395.5h.1M718.1 396.8h.1M715 389.5h.1M710.5 396.1h.1M711.9 397.1h.1M722.8 394.3h.1M720.8 393.4h.1M723.9 392.9h.1M710.1 395.5h.1M717 398.1h.1M707.8 391.4h.1M712.9 397.3h.1M709.2 393.4h.1M722.8 391.3h.1M715.6 393.6h.1M716 396.3h.1M717.3 391.8h.1M712.6 394.7h.1M724 391.9h.1M714.1 388.1h.1M709.5 396.1h.1M718.3 391.4h.1" stroke="#000" stroke-width="1.4" stroke-linecap="round" fill="none"/>
<path d="M727.3 388.8L723.4 386.8M726.6 390.2L725 389.1M726 391.3L724.1 389.7M724.8 393L722.9 390.8M723.4 394.5L721.2 391.1M721.7 395.8L720.6 393.4M720.5 396.6L719.6 393.9M718.6 397.4L717.7 392.4M716.7 397.8L716.5 394.2M715.4 397.9L715.5 395.2M714.2 397.9L714.7 393.6M712.2 397.5L713.1 393.8M710.8 396.9L712.1 393.4M708.7 395.7L710 393.5M707.5 394.6L709.2 392.3M706.6 393.7L708.9 391.1M705.6 392.1L708.5 389.6M704.6 390.1L707.9 388M704.2 389.1L707.6 387.4M703.6 386.6L706.6 385.7M703.4 384.5L705.7 384.2" stroke="#000" stroke-width="1.3" fill="none"/>
<path d="M704.8 376.9L706.2 377.7M706.9 373.4L708.3 375M709.3 370.9L710 372.1M713.6 368.5L713.8 369.8M717.1 368.1L717 369.9M720.4 368.7L720 369.9M723 370.1L722.2 371.6M725.9 373.1L724.1 374.8M727.6 376.4L725.4 377.6M728.3 378.9L727.3 379.3" stroke="#000" stroke-width="1.1" fill="none"/>
<path d="M711.3 390.2 L683.4 408.7" fill="none" stroke="#000" stroke-width="7" stroke-linecap="butt" stroke-linejoin="round"/>
<path d="M711.3 390.2 L683.4 408.7" fill="none" stroke="#fff" stroke-width="2.4" stroke-linecap="butt" stroke-linejoin="round"/>
<ellipse cx="744" cy="413" rx="16.1" ry="18.6" fill="#000" transform="rotate(10 744 413)"/>
<polygon points="729.6,417.9 740.9,438.2 749.5,437.8 758.8,416.6" fill="#000"/>
<line x1="744.6" y1="426.6" x2="747" y2="475.8" stroke="#000" stroke-width="8.6" stroke-linecap="butt"/>
<ellipse cx="747" cy="475.8" rx="4.5" ry="4.5" fill="#000" transform="rotate(10 747 475.8)"/>
<ellipse cx="744" cy="413" rx="12.9" ry="15.4" fill="#fff" transform="rotate(10 744 413)"/>
<polygon points="732.7,417.8 744,438 746.4,437.9 755.7,416.7" fill="#fff"/>
<line x1="744.6" y1="426.6" x2="747" y2="475.8" stroke="#fff" stroke-width="2.2" stroke-linecap="butt"/>
<ellipse cx="747" cy="475.8" rx="2" ry="1.9" fill="#fff" transform="rotate(10 747 475.8)"/>
<path d="M743.8 419.5h.1M743.3 425.2h.1M749.7 421.3h.1M747.4 428.7h.1M736.5 421.4h.1M745.6 420.5h.1M750.2 424.1h.1M737.1 426h.1M745.2 421.2h.1M741.7 422.4h.1M740 423.1h.1M736 425.5h.1M740.1 427.6h.1M742.1 426.9h.1M744.6 426.9h.1M749.5 423h.1M741.1 425.8h.1M742.9 419.6h.1M748.2 421.7h.1M741.4 428.2h.1M742.8 419.8h.1M733.6 419.4h.1M743.4 425.2h.1M740.9 429.3h.1M744.3 427.5h.1M744.7 426.4h.1M747.1 423.4h.1M738.8 426h.1M750.1 425.3h.1M738.3 423.1h.1M739 427.6h.1M751.7 423.9h.1M748.8 426.7h.1M737.4 425.7h.1M743.6 421.6h.1M740.1 424.5h.1M747 426.8h.1M736.3 426.5h.1M742.3 427.8h.1M741.2 423h.1M737 419.4h.1M752.2 417.9h.1M742 429h.1M750.6 426.4h.1" stroke="#000" stroke-width="1.4" stroke-linecap="round" fill="none"/>
<path d="M756.3 418.8L754.1 417.8M755.8 420L753.7 418.8M755 421.6L753.2 420.2M753.8 423.3L752.4 421.8M752.7 424.6L750.3 421.4M751.2 426L750.1 423.9M749.5 427.2L748.2 423.8M748.4 427.7L747.5 424.5M746.2 428.5L745.8 425.4M745.2 428.8L745 425.9M743.6 428.9L743.7 426M741.1 428.7L741.6 425.9M740.1 428.5L741.2 424.2M738.8 428L739.8 425.3M737.1 427.2L738.7 423.9M735.5 426L737.9 422.4M734.2 424.7L737.3 420.9M733.5 423.8L735.7 421.6M732.2 421.7L735.1 419.6M731.5 420.2L733.9 418.8M730.9 418L735.1 416.4M730.7 417.2L733.1 416.5M730.5 415.2L734.1 414.6" stroke="#000" stroke-width="1.3" fill="none"/>
<path d="M731.9 406.6L733.7 407.6M733.2 404.2L734 404.9M736.3 400.4L737.6 402.7M739.7 398.2L740.1 399.7M742.7 397.3L742.9 400.2M745.7 397.1L745.4 399.3M748.6 397.7L748.1 399.5M752.2 399.8L750.9 401.9M755.2 403.3L753.6 404.7M756.3 405.4L754.8 406.3M757.3 409.1L755.3 409.7" stroke="#000" stroke-width="1.1" fill="none"/>
<path d="M738.9 420.6 L712.2 438.4" fill="none" stroke="#000" stroke-width="7" stroke-linecap="butt" stroke-linejoin="round"/>
<path d="M738.9 420.6 L712.2 438.4" fill="none" stroke="#fff" stroke-width="2.4" stroke-linecap="butt" stroke-linejoin="round"/>
<ellipse cx="781" cy="445" rx="16.6" ry="19.6" fill="#000" transform="rotate(10 781 445)"/>
<polygon points="766.2,450.1 777.8,471.2 786.4,470.8 796.2,448.8" fill="#000"/>
<line x1="781.6" y1="459.4" x2="784" y2="514" stroke="#000" stroke-width="8.6" stroke-linecap="butt"/>
<ellipse cx="784" cy="514" rx="4.5" ry="4.5" fill="#000" transform="rotate(10 784 514)"/>
<ellipse cx="781" cy="445" rx="13.4" ry="16.4" fill="#fff" transform="rotate(10 781 445)"/>
<polygon points="769.3,450 780.9,471 783.3,470.9 793.1,449" fill="#fff"/>
<line x1="781.6" y1="459.4" x2="784" y2="514" stroke="#fff" stroke-width="2.2" stroke-linecap="butt"/>
<ellipse cx="784" cy="514" rx="2" ry="1.9" fill="#fff" transform="rotate(10 784 514)"/>
<path d="M787.4 453.8h.1M783.2 459.2h.1M773.1 451.6h.1M772.5 452.7h.1M789.4 451.7h.1M788.7 456.6h.1M785.9 452.4h.1M782.2 456.3h.1M789.3 456.2h.1M780.2 458h.1M775.5 461.7h.1M787.8 451.1h.1M786.3 455.4h.1M787.6 459h.1M783.7 456.5h.1M784 461.8h.1M791.9 452.2h.1M783.3 459h.1M775.3 453.8h.1M779.8 455.2h.1M780.1 456.4h.1M773.5 460.3h.1M776.5 457.3h.1M783.6 458.1h.1M790.1 456.9h.1M776.1 460.9h.1M776.7 455.6h.1M788.6 456.7h.1M778 460.3h.1M783.8 454.1h.1M784.7 452.1h.1M780.8 462.2h.1M783.1 461.2h.1M785.6 457.7h.1M787.9 455.4h.1M782.3 455.1h.1M785 451.1h.1M784.5 458.5h.1M784.6 457h.1M779.3 462.7h.1M784.5 454.4h.1M783.8 456.3h.1M791.3 450.2h.1M771.3 452.2h.1M778 462.6h.1M790.2 456.6h.1M779 462.3h.1M776.4 454h.1M779.2 451.4h.1" stroke="#000" stroke-width="1.4" stroke-linecap="round" fill="none"/>
<path d="M794.1 450.3L792.3 449.6M793.2 452.5L790.7 451M792.4 454L790.6 452.5M790.9 456.2L788 452.9M790 457.3L788.5 455.2M788.3 458.8L786.4 455.2M787.1 459.8L785.8 456.7M785.2 460.8L784.4 457.9M784 461.3L783.2 456.9M782.1 461.7L781.8 457.1M781 461.9L781 458.8M779.4 461.9L779.9 456.7M777.9 461.7L778.8 456.8M776.2 461.2L776.9 458.9M774.8 460.6L776.4 456.6M773.5 459.9L775.1 456.8M771.6 458.4L773 456.5M770.6 457.3L772.1 455.6M769.3 455.4L772.2 452.8M768.7 454.2L770.4 452.9M767.9 452.4L770.3 451.1M767.4 450.7L771.5 449M767.1 448.7L769.5 448M766.9 446.5L768.9 446.3" stroke="#000" stroke-width="1.3" fill="none"/>
<path d="M768.1 439.1L769.6 439.8M770.1 435.2L771.3 436.3M773 431.8L773.9 433.3M775.7 429.8L776.5 432.1M777.5 428.9L777.8 430.2M782.1 428.1L782 430M784.6 428.4L784.2 430.3M788.1 429.8L787.2 431.7M790.3 431.6L789.5 432.8M792.4 434.2L791.3 435.3M794.3 438.3L792.7 439.1M795 441.9L793.7 442.2" stroke="#000" stroke-width="1.1" fill="none"/>
<path d="M775.8 453.1 L745.7 473" fill="none" stroke="#000" stroke-width="7" stroke-linecap="butt" stroke-linejoin="round"/>
<path d="M775.8 453.1 L745.7 473" fill="none" stroke="#fff" stroke-width="2.4" stroke-linecap="butt" stroke-linejoin="round"/>
<ellipse cx="814" cy="476" rx="16.6" ry="19.6" fill="#000" transform="rotate(10 814 476)"/>
<polygon points="799.1,481.1 810.8,502.2 819.4,501.8 829.2,479.9" fill="#000"/>
<line x1="814.6" y1="490.4" x2="817" y2="548" stroke="#000" stroke-width="8.6" stroke-linecap="butt"/>
<ellipse cx="817" cy="548" rx="4.5" ry="4.5" fill="#000" transform="rotate(10 817 548)"/>
<ellipse cx="814" cy="476" rx="13.4" ry="16.4" fill="#fff" transform="rotate(10 814 476)"/>
<polygon points="802.2,481 813.9,502 816.3,501.9 826.1,480" fill="#fff"/>
<line x1="814.6" y1="490.4" x2="817" y2="548" stroke="#fff" stroke-width="2.2" stroke-linecap="butt"/>
<ellipse cx="817" cy="548" rx="2" ry="1.9" fill="#fff" transform="rotate(10 817 548)"/>
<path d="M809.5 489.2h.1M812.4 483.1h.1M809 492.4h.1M814.9 483h.1M807.5 491h.1M808.2 482.4h.1M817.1 491.8h.1M803.8 482h.1M816.9 484.2h.1M822.9 488.1h.1M811.6 493.7h.1M810.3 489.3h.1M810.8 486.2h.1M814.8 485.2h.1M815.4 491.6h.1M811.8 488.7h.1M808.5 491.9h.1M807.7 492.1h.1M815.7 492.3h.1M821.4 483.3h.1M810.5 486.8h.1M807.4 491.2h.1M820.1 490.6h.1M806.8 488.5h.1M817.6 487.4h.1M810.5 489.5h.1M812.6 490.9h.1M823.3 484.1h.1M811.2 483.2h.1M814.9 488.2h.1M816.5 492.5h.1M812.2 494.1h.1M811.4 487.6h.1M812.3 493.6h.1M809.9 491.3h.1M813.8 487.4h.1M809 488.2h.1M808.8 489.9h.1M820.8 486h.1M809.9 484h.1M803.2 485.3h.1M812.7 487.6h.1M822 484.6h.1M820.7 490.3h.1M804.9 482.8h.1M821.8 485.2h.1M815.4 489.1h.1M810.9 486.3h.1M811.7 486.7h.1" stroke="#000" stroke-width="1.4" stroke-linecap="round" fill="none"/>
<path d="M826.8 482L822.9 480.1M826.2 483.5L824.5 482.5M825 485.7L821.5 482.6M824.4 486.5L822 484M822.8 488.5L820.1 484.8M821.2 489.9L819.6 486.8M819.9 490.9L818.9 488.3M818.4 491.7L817.2 487.6M817.1 492.2L816.2 487.9M815.8 492.6L815.4 489.2M813.7 492.9L813.8 487.8M812.3 492.9L812.7 489.3M810.1 492.5L810.7 490.2M809.2 492.3L810.2 489M807.8 491.6L809.4 487.6M805.8 490.4L808.1 486.5M804.5 489.2L805.7 487.4M803.3 487.9L806.1 484.8M802.6 486.8L805.2 484.3M801.6 484.9L804 483.2M801 483.7L804 481.9M800.5 482.1L804.7 480.2M800.1 479.6L803.2 478.8M799.9 477.5L803.4 477.1" stroke="#000" stroke-width="1.3" fill="none"/>
<path d="M801.8 468.6L803.6 469.7M802.9 466.4L804.3 467.6M805.5 463.2L806.6 464.8M809 460.6L809.4 461.9M811.8 459.5L812.1 461.5M815.5 459.1L815.3 461.3M817.3 459.3L817 460.7M820.7 460.6L819.9 462.4M823.6 462.9L822.5 464.5M826.2 466.6L824.9 467.6M827.4 469.6L826 470.3M827.8 471.7L826.7 472" stroke="#000" stroke-width="1.1" fill="none"/>
<path d="M808.8 484.1 L776.9 505.2" fill="none" stroke="#000" stroke-width="7" stroke-linecap="butt" stroke-linejoin="round"/>
<path d="M808.8 484.1 L776.9 505.2" fill="none" stroke="#fff" stroke-width="2.4" stroke-linecap="butt" stroke-linejoin="round"/>
<ellipse cx="853" cy="511" rx="17.1" ry="20.6" fill="#000" transform="rotate(10 853 511)"/>
<polygon points="837.7,516.3 849.7,538.1 858.3,537.8 868.7,515.1" fill="#000"/>
<line x1="853.6" y1="526.2" x2="856" y2="588.2" stroke="#000" stroke-width="8.6" stroke-linecap="butt"/>
<ellipse cx="856" cy="588.2" rx="4.5" ry="4.5" fill="#000" transform="rotate(10 856 588.2)"/>
<ellipse cx="853" cy="511" rx="13.9" ry="17.4" fill="#fff" transform="rotate(10 853 511)"/>
<polygon points="840.8,516.2 852.8,538 855.2,537.9 865.6,515.3" fill="#fff"/>
<line x1="853.6" y1="526.2" x2="856" y2="588.2" stroke="#fff" stroke-width="2.2" stroke-linecap="butt"/>
<ellipse cx="856" cy="588.2" rx="2" ry="1.9" fill="#fff" transform="rotate(10 856 588.2)"/>
<path d="M851.5 520.5h.1M849.8 526h.1M844.2 522.2h.1M858.8 527.1h.1M854.9 525.1h.1M847.6 527.8h.1M848.4 523.2h.1M846.1 518.9h.1M844.5 520.2h.1M849.7 529.3h.1M849 527.9h.1M852.9 524.1h.1M847.5 528.1h.1M848.3 519.2h.1M864.1 520.1h.1M852.6 526.4h.1M855.1 527.4h.1M849.4 522.9h.1M855.5 524.2h.1M848.2 522.2h.1M859.3 524.4h.1M848.1 525.8h.1M858.2 521.7h.1M852.4 524.5h.1M856.7 523.2h.1M859.9 524.8h.1M855.7 523.8h.1M860.4 524.7h.1M862.5 523h.1M842.6 520.8h.1M854.6 523.3h.1M855.1 524.7h.1M847.6 523.7h.1M861 518.6h.1M856.6 522.4h.1M860.1 517.8h.1M860.7 522.2h.1M845.7 521.2h.1M845.2 522.7h.1M844.3 519h.1M853.8 529.2h.1M854.8 525.1h.1M845.6 526.5h.1M852.6 529.3h.1M850.8 524.3h.1M852.5 523.6h.1M855.3 529h.1M857.5 524.1h.1M857.7 520.6h.1M849.8 527h.1M852.8 524h.1M857.4 526.5h.1M858.1 526.2h.1" stroke="#000" stroke-width="1.4" stroke-linecap="round" fill="none"/>
<path d="M866.2 517.5L863.2 516M865.5 519L863.8 517.9M864.5 521L861.2 518.1M863.6 522.4L861.1 519.7M862.4 523.8L860.4 521.1M860.6 525.6L858.4 521.5M859.5 526.4L858.6 524.4M857.7 527.5L857 525.3M856.4 528L855.8 525.1M854.8 528.5L854.3 523.7M853 528.9L853 523.8M851.2 528.9L851.7 524.5M849.2 528.6L850.2 524M847.7 528.1L848.5 525.4M846.4 527.5L848.3 522.9M844.5 526.3L846.6 522.6M843.1 525L845.6 521.4M842.3 524.1L844 522.1M840.9 522.1L844.1 519.1M840 520.4L842.5 518.6M839.5 519.2L841.8 517.8M839 517.5L842.9 515.7M838.6 515.4L841.5 514.5M838.4 512.6L841.4 512.3" stroke="#000" stroke-width="1.3" fill="none"/>
<path d="M839.5 505.3L841.3 506.1M841.5 501L842.4 501.7M843.4 498.4L844.3 499.5M847.1 495.2L848 497.7M850.5 493.6L850.8 495.8M854.7 493.1L854.5 495.5M856.8 493.4L856.3 495.5M859.8 494.5L859 496.5M862.5 496.6L861.4 498.3M865.5 500.6L864.6 501.3M866.8 504L865.5 504.7M867.6 508.3L866 508.6" stroke="#000" stroke-width="1.1" fill="none"/>
<path d="M847.6 519.5 L813.1 542.4" fill="none" stroke="#000" stroke-width="7" stroke-linecap="butt" stroke-linejoin="round"/>
<path d="M847.6 519.5 L813.1 542.4" fill="none" stroke="#fff" stroke-width="2.4" stroke-linecap="butt" stroke-linejoin="round"/>
<ellipse cx="892" cy="548" rx="19.1" ry="21.6" fill="#000" transform="rotate(10 892 548)"/>
<polygon points="874.9,553.6 888.7,576.1 897.3,575.8 909.5,552.4" fill="#000"/>
<line x1="892.6" y1="564" x2="895" y2="628.4" stroke="#000" stroke-width="8.6" stroke-linecap="butt"/>
<ellipse cx="895" cy="628.4" rx="4.5" ry="4.5" fill="#000" transform="rotate(10 895 628.4)"/>
<ellipse cx="892" cy="548" rx="15.9" ry="18.4" fill="#fff" transform="rotate(10 892 548)"/>
<polygon points="878,553.5 891.8,576 894.2,575.9 906.4,552.5" fill="#fff"/>
<line x1="892.6" y1="564" x2="895" y2="628.4" stroke="#fff" stroke-width="2.2" stroke-linecap="butt"/>
<ellipse cx="895" cy="628.4" rx="2" ry="1.9" fill="#fff" transform="rotate(10 895 628.4)"/>
<path d="M887.7 562.1h.1M888.3 565.3h.1M899.7 560.8h.1M881.5 557.2h.1M889.4 561.3h.1M895 559.2h.1M888.6 564.6h.1M901.9 556.5h.1M888.1 554.6h.1M889 568h.1M893.3 560.8h.1M894.2 560.7h.1M886.4 560.4h.1M903.3 558.4h.1M890.8 561.6h.1M899 562.4h.1M885.3 564.1h.1M899 564.3h.1M894.1 565.1h.1M895.9 566.7h.1M884.4 565.2h.1M895.1 555.5h.1M888.7 566.1h.1M880.5 559.2h.1M883.6 558.6h.1M893.7 561h.1M889.8 565.9h.1M886 564.1h.1M899.6 561.7h.1M895.1 557.3h.1M884 563.5h.1M884.5 557.8h.1M904.1 555.3h.1M893.1 557.6h.1M896.4 566.9h.1M889.3 558.8h.1M899.6 558.7h.1M897.5 553.5h.1M898.9 554.5h.1M893.7 558.3h.1M882.6 563.3h.1M890.3 566.3h.1M897.5 557.9h.1M892.2 565.4h.1M893.2 557.7h.1M887.5 555.6h.1M887 559.8h.1M896.1 566.8h.1M880.5 556.7h.1M890 559.2h.1M882.6 556.2h.1M881.3 560.4h.1M881 559.8h.1M895.8 556.8h.1M881.7 556.8h.1M889.5 563.3h.1M895.5 564.7h.1M894.6 563.8h.1M897.8 558.3h.1M902.1 558.3h.1M892.6 567.5h.1M880.5 553.1h.1M894.5 568h.1" stroke="#000" stroke-width="1.4" stroke-linecap="round" fill="none"/>
<path d="M907.3 554.3L904.1 553M906.5 556.3L904.3 555.1M905.9 557.5L903.1 555.6M904.4 559.9L901.3 556.9M903.8 560.7L902 558.8M902 562.5L900 559.6M900.9 563.5L899.6 561.2M899.2 564.6L897.5 560.6M897.9 565.3L897.1 562.9M896.8 565.8L896 563M894.7 566.5L894 561.8M893.4 566.8L893.2 563.7M891.2 566.9L891.4 562M889.5 566.8L890 562.5M888.3 566.6L889 562.8M886.8 566.2L887.8 562.5M885.5 565.7L886.6 562.7M883.9 564.9L885.8 561M882.1 563.7L883.6 561.4M880.8 562.6L883.1 559.7M879.5 561.2L882.7 557.8M878.7 560L880.7 558.1M877.6 558.1L879.7 556.6M877.1 557.1L879.3 555.8M876.5 555.6L879.5 554.1M875.9 553.5L879.8 552.2M875.5 551.2L878.9 550.5M875.4 549.6L879.2 549.2" stroke="#000" stroke-width="1.3" fill="none"/>
<path d="M877.2 540.2L879.5 541.4M878.4 538L880.2 539.4M881.5 534L882.3 535M884.3 531.7L885.4 533.9M885.7 530.9L886.1 532.1M890.6 529.2L890.8 531M893.2 529.1L893 531.8M895.5 529.3L895 531.8M900.1 531L899 533.3M902.3 532.6L901.3 534.1M904.7 535.1L903.3 536.5M906.1 537.2L904.8 538.2M907.5 540.4L906.1 541.1M908.4 544.6L906.7 545" stroke="#000" stroke-width="1.1" fill="none"/>
<path d="M885.9 557 L850.1 580.7" fill="none" stroke="#000" stroke-width="7" stroke-linecap="butt" stroke-linejoin="round"/>
<path d="M885.9 557 L850.1 580.7" fill="none" stroke="#fff" stroke-width="2.4" stroke-linecap="butt" stroke-linejoin="round"/>
<ellipse cx="933" cy="588" rx="20.1" ry="22.6" fill="#000" transform="rotate(10 933 588)"/>
<polygon points="915,593.9 929.7,617.1 938.3,616.8 951.4,592.6" fill="#000"/>
<line x1="933.6" y1="604.8" x2="936" y2="670.7" stroke="#000" stroke-width="8.6" stroke-linecap="butt"/>
<ellipse cx="936" cy="670.7" rx="4.5" ry="4.5" fill="#000" transform="rotate(10 936 670.7)"/>
<ellipse cx="933" cy="588" rx="16.9" ry="19.4" fill="#fff" transform="rotate(10 933 588)"/>
<polygon points="918.1,593.8 932.8,617 935.2,616.9 948.3,592.7" fill="#fff"/>
<line x1="933.6" y1="604.8" x2="936" y2="670.7" stroke="#fff" stroke-width="2.2" stroke-linecap="butt"/>
<ellipse cx="936" cy="670.7" rx="2" ry="1.9" fill="#fff" transform="rotate(10 936 670.7)"/>
<path d="M941.3 602.9h.1M934 598.5h.1M919.1 596.4h.1M943.8 599.5h.1M941.8 595.6h.1M933.1 606.5h.1M923.1 599.8h.1M946.2 599.6h.1M929.3 604.7h.1M934.3 605.8h.1M926.2 600.5h.1M938.4 595.4h.1M926.5 598.2h.1M930.5 601.3h.1M937.7 606.7h.1M939.2 601.2h.1M943.1 602.9h.1M939 604.4h.1M922.1 599.9h.1M923.6 605.8h.1M924.1 594.7h.1M925.8 604h.1M927.9 595.7h.1M940.5 602.7h.1M925.4 604.6h.1M920.7 594.6h.1M926.3 603.3h.1M921.6 602h.1M941 597.8h.1M937.4 600.1h.1M925.3 605.9h.1M942.6 596.2h.1M929 602.3h.1M929.9 604.5h.1M934 602.2h.1M945.4 600.5h.1M938.9 605h.1M930.9 608.7h.1M946.1 596h.1M920.2 600.3h.1M944.3 600.5h.1M928.2 602.6h.1M929.3 605.8h.1M943.3 597.9h.1M941.2 605.2h.1M930.6 598h.1M929.1 596.1h.1M933.5 599.1h.1M932.9 602.4h.1M930.2 602.6h.1M944.2 596.7h.1M930.9 600.4h.1M946.7 598.6h.1M933 608.2h.1M931.5 604.4h.1M933.3 603.7h.1M923.4 602.6h.1M937.5 607.4h.1M930.5 605.2h.1M926 601.3h.1M925.2 599.8h.1M926.5 603.1h.1M929.9 600.6h.1M935 593.7h.1M926.9 604h.1M925.5 602.5h.1M934.4 605.5h.1M936 608.2h.1M919.8 597h.1M922.3 603.4h.1" stroke="#000" stroke-width="1.4" stroke-linecap="round" fill="none"/>
<path d="M949.2 595L946.4 593.8M948.6 596.4L944.5 594.2M947.5 598.5L944 595.9M946.8 599.7L945.2 598.3M945.3 601.6L942.4 598.4M944.1 602.9L942.7 601.1M942.5 604.2L941.4 602.3M941.3 605.1L939.2 600.8M939.7 606L938.7 603.4M937.9 606.9L936.9 603.3M936.5 607.3L936 604.9M935.3 607.6L935 605M933.2 607.9L933.1 603.5M931.8 607.9L932 604.8M929.4 607.7L930.1 603.7M928.3 607.4L929.4 602.8M926.2 606.7L927.7 602.7M925.1 606.2L926.5 603M923.8 605.4L926.1 601.1M922.5 604.5L924.9 600.7M921 603.2L923.1 600.6M919.9 602L921.9 599.9M918.8 600.5L921.3 598.3M917.9 599L919.8 597.6M917 597.1L920 595.4M916.5 595.8L920.6 593.9M915.8 593.1L919.9 591.9M915.6 592L920.1 591M915.4 590L919.1 589.6" stroke="#000" stroke-width="1.3" fill="none"/>
<path d="M916.8 581.1L918.2 581.7M918.5 577.5L920.6 579.1M921.5 573.6L923.1 575.6M923.8 571.5L924.4 572.7M927.2 569.5L927.9 571.6M931.3 568.3L931.5 570.2M934.6 568.1L934.5 569.5M936.7 568.3L936.3 570.1M941.3 570L940.5 571.8M943.1 571.2L941.8 573.5M946.9 575.1L945.3 576.6M948.4 577.6L946.8 578.7M949.8 581.3L947.8 582.1M950.3 583.6L948 584.2" stroke="#000" stroke-width="1.1" fill="none"/>
<path d="M926.5 597.5 L889.9 621.7" fill="none" stroke="#000" stroke-width="7" stroke-linecap="butt" stroke-linejoin="round"/>
<path d="M926.5 597.5 L889.9 621.7" fill="none" stroke="#fff" stroke-width="2.4" stroke-linecap="butt" stroke-linejoin="round"/>
<ellipse cx="972" cy="622" rx="20.6" ry="22.6" fill="#000" transform="rotate(10 972 622)"/>
<polygon points="953.5,627.9 968.7,651.1 977.3,650.8 990.8,626.6" fill="#000"/>
<line x1="972.6" y1="638.8" x2="975" y2="710.9" stroke="#000" stroke-width="8.6" stroke-linecap="butt"/>
<ellipse cx="975" cy="710.9" rx="4.5" ry="4.5" fill="#000" transform="rotate(10 975 710.9)"/>
<ellipse cx="972" cy="622" rx="17.4" ry="19.4" fill="#fff" transform="rotate(10 972 622)"/>
<polygon points="956.6,627.8 971.8,651 974.2,650.9 987.7,626.7" fill="#fff"/>
<line x1="972.6" y1="638.8" x2="975" y2="710.9" stroke="#fff" stroke-width="2.2" stroke-linecap="butt"/>
<ellipse cx="975" cy="710.9" rx="2" ry="1.9" fill="#fff" transform="rotate(10 975 710.9)"/>
<path d="M967.2 638.5h.1M971.1 635.9h.1M964.2 635.2h.1M976.4 637.6h.1M957.6 630h.1M981.5 631.2h.1M960.4 636.2h.1M981.1 640.1h.1M984.1 633h.1M980.2 639.9h.1M961 637.7h.1M973.2 635h.1M958.9 634.7h.1M972 635.1h.1M973.3 643.1h.1M980.6 632.3h.1M968.7 639.4h.1M973.8 628.7h.1M984 635.7h.1M960.9 633.8h.1M959.4 628.5h.1M964.8 629.2h.1M963.9 630.5h.1M973.1 636h.1M974.8 638h.1M962.8 634.3h.1M963.8 638.1h.1M962.4 628.2h.1M966.7 635.4h.1M974.7 636.2h.1M968.4 636.7h.1M976.1 639.1h.1M985.1 629.6h.1M984 631.8h.1M965.1 628.8h.1M978.2 634.9h.1M965.7 632.4h.1M979.5 640.7h.1M972.9 637.1h.1M967.5 637.6h.1M979 637.9h.1M973 633h.1M967.6 642.3h.1M979.4 633.4h.1M967.2 640.4h.1M978.8 640.3h.1M973.2 632.6h.1M960.3 633.7h.1M973.7 640.6h.1M960.8 636.8h.1M978.3 639.3h.1M970.1 638.2h.1M982.3 631.7h.1M969.3 636.1h.1M968.1 640h.1M973 633.2h.1M977.4 629.6h.1M968.2 640.7h.1M972.7 634h.1M972.9 640.5h.1M965.3 632.9h.1M966.7 637.7h.1M980.1 638.4h.1M976.6 636.8h.1M966 639.6h.1M974.4 636.8h.1M975.5 642.2h.1M976.9 634.8h.1M967.9 639.8h.1M959.5 632.8h.1M960.7 635h.1M961.7 628.8h.1" stroke="#000" stroke-width="1.4" stroke-linecap="round" fill="none"/>
<path d="M988.7 629L985.2 627.6M988 630.6L985.8 629.4M987 632.6L985.3 631.4M986.4 633.5L983.9 631.5M984.9 635.4L982.4 632.8M984 636.4L981.6 633.4M982.4 637.9L980.4 634.9M980.6 639.2L979.4 636.9M980 639.6L978.2 635.7M977.7 640.7L976.9 638M976.8 641L975.9 637.5M975 641.5L974.2 636.4M973.5 641.8L973.2 638.5M971.8 641.9L971.8 639.1M969.2 641.8L969.8 638M967.9 641.6L968.6 638.2M966.6 641.2L967.4 638.2M965.2 640.7L966.7 636.7M963.6 640L965.3 636.3M962 639L964.6 634.7M960.9 638.2L963.6 634.3M959.3 636.7L961.2 634.4M958.1 635.3L960.1 633.5M957.1 633.8L959.6 631.8M956.3 632.5L960.3 629.8M955.6 630.9L959.3 628.9M954.9 629.2L958.7 627.7M954.3 626.9L957.3 626.1M954.1 625.5L958.5 624.6M954 623.9L958.1 623.5" stroke="#000" stroke-width="1.3" fill="none"/>
<path d="M955.5 614.6L957 615.3M957.7 610.4L959.4 611.8M959.8 607.8L960.9 609M961.2 606.5L961.9 607.6M964.2 604.3L965 606M968.2 602.7L968.7 605.6M970.7 602.2L970.8 603.6M975 602.2L974.6 604.6M979 603.3L978 605.9M980.8 604.3L979.6 606.7M984.1 606.7L982.7 608.5M986.6 609.7L985 611.1M987.8 611.7L986.3 612.7M989.5 616.3L987.8 616.8M989.9 618.8L987.6 619.2" stroke="#000" stroke-width="1.1" fill="none"/>
<path d="M965.4 631.5 L925.2 658.1" fill="none" stroke="#000" stroke-width="7" stroke-linecap="butt" stroke-linejoin="round"/>
<path d="M965.4 631.5 L925.2 658.1" fill="none" stroke="#fff" stroke-width="2.4" stroke-linecap="butt" stroke-linejoin="round"/>
<ellipse cx="1009" cy="662" rx="19.5" ry="22" fill="#fff" stroke="#000" stroke-width="2.9" transform="rotate(10 1009 662)"/>
<path d="M1012.6 680.3h.1M1023.9 667.9h.1M1012.8 667.7h.1M1015.7 674.4h.1M1025.8 660.3h.1M1001.6 678.2h.1M998.4 676.8h.1M1015.8 665.7h.1M1020.5 671.1h.1M1024.9 662.5h.1M1009.9 673.7h.1M1018.7 672.4h.1M1003.1 678.1h.1M1010.5 667.6h.1M1002.1 675.4h.1M1019.5 659.6h.1M1002.3 678.6h.1M1015.6 676.9h.1M1014.2 676.7h.1M1016.8 666.1h.1M1019.8 675.7h.1M1017.2 674.4h.1M1017 668.7h.1M1014.4 676.6h.1M1015.9 667.2h.1M1022.6 662h.1M1013 671.3h.1M1013.9 673h.1M1007 675.1h.1M1006.8 680.8h.1M1017.3 660.7h.1M1006.3 674.7h.1M1020 670.9h.1M1008.8 669.7h.1M1008.1 676.4h.1M1022 673.1h.1M1024.9 662.6h.1M1012.6 671.5h.1M1018 669.9h.1M1022.7 666.8h.1M1009.7 675.2h.1M1010.1 680.8h.1M1013 668.6h.1M1012 676.5h.1M1024.3 667.4h.1M1018.1 662.4h.1M1009.7 667.9h.1M1010.4 674.7h.1M1019.4 672.4h.1M1008.8 672h.1M1007.4 677.8h.1M1015.2 669.7h.1M1021.9 671.2h.1M1007.7 679.4h.1M1008.3 676.6h.1M1016.4 671.2h.1M1018.5 676.8h.1M1022.6 670.1h.1M1025.3 656.5h.1M1007.1 676.7h.1M1004.1 678.6h.1M1013 672.9h.1M1015.3 670.8h.1M1011.1 680.5h.1M1003.3 678.5h.1M1015.9 661.9h.1M1006.6 677.1h.1M1012.9 676.2h.1M1016.5 678h.1M1003.9 678.8h.1M1015.7 676.2h.1M1022.9 666.1h.1M1022.2 665.4h.1M1013 674.1h.1M1024.7 664.3h.1M1018.6 670.1h.1M1022.7 662.7h.1M1019.6 673h.1M1002.2 674h.1M1018.2 674.7h.1M1024.4 668.6h.1M1015.4 678.5h.1M1012.4 668.9h.1M1005.7 679.8h.1M1019.8 674.8h.1M1012 665.9h.1M1010.6 679.2h.1M1006.3 680.8h.1M1014.2 675h.1M1018 676.1h.1M1020.7 664.4h.1M1024.5 660.7h.1M1011.5 674.7h.1M1010.1 680.8h.1M1007.6 677.2h.1" stroke="#000" stroke-width="1.5" stroke-linecap="round" fill="none"/>
<path d="M1026.6 652.9L1023.3 654.6M1027.2 654.8L1024.8 655.7M1027.6 656.1L1023.9 657.3M1027.8 657.4L1024.8 658.2M1028 659.4L1024 659.9M1028.1 660.5L1024 660.8M1028.1 662L1022.9 662M1027.8 664.5L1024.5 664M1027.7 665.5L1024.5 664.9M1027.2 667.5L1024.2 666.6M1027 668.4L1024.2 667.4M1026.4 669.8L1021.9 667.8M1025.7 671.6L1021.7 669.3M1024.7 673.5L1022.6 671.9M1024.1 674.4L1021.2 672M1023.4 675.4L1019.8 672M1021.8 677.3L1019.2 674.2M1021.2 677.9L1018.1 673.9M1020 679L1017.7 675.4M1018.6 680.1L1016.7 676.5M1017.6 680.7L1015.4 675.8M1016.4 681.4L1014.7 676.8M1014.4 682.3L1013.7 679.4M1013.4 682.6L1012.9 680.1M1011.8 683L1011 677.4M1010.8 683.2L1010.4 678.4M1008.7 683.4L1008.7 678.5M1008 683.4L1008.1 680M1005.8 683.3L1006.7 677.7M1005 683.1L1005.7 679.3M1002.9 682.6L1004.5 677.3M1002.2 682.3L1003.8 677.5M1000.5 681.6L1002.3 677.4M999.4 680.9L1001.7 676.4M998 680L999.5 677.5M997.1 679.3L1000 675M996 678.3L998.6 675.2" stroke="#000" stroke-width="1.3" fill="none"/>
<path d="M990.8 669.4L992.7 668.7M990.4 667.5L991.7 667.2M989.9 663.8L991.4 663.6M990.3 658.9L992.6 659.3M991.3 654.8L992.4 655.3M992.4 652.3L993.9 653.2M994.9 648.3L996.7 650.1M996.9 646L998.5 648.2M999.4 644L1000.1 645.4M1002.6 642.1L1003.4 644.7M1005.6 641.1L1005.9 643.3M1009.2 640.6L1009.1 643.1M1012.2 640.7L1011.9 642.7M1014.6 641.3L1014 643.5M1018.9 643.2L1017.9 645.1M1020.8 644.7L1019.5 646.6" stroke="#000" stroke-width="1.1" fill="none"/>
<line x1="1008" y1="682" x2="1008" y2="722" stroke="#000" stroke-width="7.5" stroke-linecap="round"/>
<path d="M1008 692v26" stroke="#777" stroke-width="1.6" stroke-dasharray="2 3.5"/>
<path d="M1002.2 671.9 L963.5 697.5" fill="none" stroke="#000" stroke-width="7" stroke-linecap="butt" stroke-linejoin="round"/>
<path d="M1002.2 671.9 L963.5 697.5" fill="none" stroke="#fff" stroke-width="2.4" stroke-linecap="butt" stroke-linejoin="round"/>
<path d="M683.6 408.9 L668.4 419" fill="none" stroke="#000" stroke-width="9.6" stroke-linecap="butt" stroke-linejoin="round"/>
<path d="M683.6 408.9 L668.4 419" fill="none" stroke="#fff" stroke-width="4.4" stroke-linecap="butt" stroke-linejoin="round"/>
<path d="M718 444.4 L699.7 456.5" fill="none" stroke="#000" stroke-width="9.6" stroke-linecap="butt" stroke-linejoin="round"/>
<path d="M718 444.4 L699.7 456.5" fill="none" stroke="#fff" stroke-width="4.4" stroke-linecap="butt" stroke-linejoin="round"/>
<path d="M754.3 481.8 L732.1 496.5" fill="none" stroke="#000" stroke-width="9.6" stroke-linecap="butt" stroke-linejoin="round"/>
<path d="M754.3 481.8 L732.1 496.5" fill="none" stroke="#fff" stroke-width="4.4" stroke-linecap="butt" stroke-linejoin="round"/>
<path d="M784.5 513 L758.1 530.5" fill="none" stroke="#000" stroke-width="9.6" stroke-linecap="butt" stroke-linejoin="round"/>
<path d="M784.5 513 L758.1 530.5" fill="none" stroke="#fff" stroke-width="4.4" stroke-linecap="butt" stroke-linejoin="round"/>
<path d="M820 549.6 L790.1 569.5" fill="none" stroke="#000" stroke-width="9.6" stroke-linecap="butt" stroke-linejoin="round"/>
<path d="M820 549.6 L790.1 569.5" fill="none" stroke="#fff" stroke-width="4.4" stroke-linecap="butt" stroke-linejoin="round"/>
<path d="M854.3 585 L821.8 606.5" fill="none" stroke="#000" stroke-width="9.6" stroke-linecap="butt" stroke-linejoin="round"/>
<path d="M854.3 585 L821.8 606.5" fill="none" stroke="#fff" stroke-width="4.4" stroke-linecap="butt" stroke-linejoin="round"/>
<path d="M897.4 629.4 L858.7 655" fill="none" stroke="#000" stroke-width="9.6" stroke-linecap="butt" stroke-linejoin="round"/>
<path d="M897.4 629.4 L858.7 655" fill="none" stroke="#fff" stroke-width="4.4" stroke-linecap="butt" stroke-linejoin="round"/>
<path d="M937.9 671.2 L895.2 699.5" fill="none" stroke="#000" stroke-width="9.6" stroke-linecap="butt" stroke-linejoin="round"/>
<path d="M937.9 671.2 L895.2 699.5" fill="none" stroke="#fff" stroke-width="4.4" stroke-linecap="butt" stroke-linejoin="round"/>
<polygon points="681.6,415.7 709.6,444.5 692.2,456.1 664.2,427.2" fill="#fff" stroke="#000" stroke-width="2.7" stroke-linejoin="round"/>
<polygon points="716,451.1 745.9,481.9 728.4,493.5 698.6,462.7" fill="#fff" stroke="#000" stroke-width="2.7" stroke-linejoin="round"/>
<polygon points="752.3,488.5 776.1,513.1 758.7,524.7 734.8,500.1" fill="#fff" stroke="#000" stroke-width="2.7" stroke-linejoin="round"/>
<polygon points="782.5,519.7 811.7,549.8 794.2,561.3 765.1,531.3" fill="#fff" stroke="#000" stroke-width="2.7" stroke-linejoin="round"/>
<polygon points="818.1,556.4 845.9,585.1 828.5,596.6 800.6,567.9" fill="#fff" stroke="#000" stroke-width="2.7" stroke-linejoin="round"/>
<polygon points="852.3,591.7 889,629.5 871.6,641.1 834.9,603.3" fill="#fff" stroke="#000" stroke-width="2.7" stroke-linejoin="round"/>
<polygon points="895.4,636.1 929.5,671.3 912.1,682.9 878,647.7" fill="#fff" stroke="#000" stroke-width="2.7" stroke-linejoin="round"/>
<path d="M656.5 381 L977.5 712" fill="none" stroke="#000" stroke-width="14.5" stroke-linecap="butt" stroke-linejoin="round"/>
<path d="M656.5 381 L977.5 712" fill="none" stroke="#fff" stroke-width="9.6" stroke-linecap="butt" stroke-linejoin="round"/>
<path d="M661.4 393.7l2.7 -0.3M664.5 396.9l2.7 -0.3M667.7 400.1l2.7 -0.3M670.8 403.4l2.7 -0.3M673.9 406.6l2.7 -0.3M677.1 409.8l2.7 -0.3M680.2 413l2.7 -0.3M683.3 416.3l2.7 -0.3M686.5 419.5l2.7 -0.3M689.6 422.7l2.7 -0.3M692.7 426l2.7 -0.3M695.9 429.2l2.7 -0.3M699 432.4l2.7 -0.3M702.1 435.7l2.7 -0.3M705.3 438.9l2.7 -0.3M708.4 442.1l2.7 -0.3M711.5 445.3l2.7 -0.3M714.7 448.6l2.7 -0.3M717.8 451.8l2.7 -0.3M720.9 455l2.7 -0.3M724.1 458.3l2.7 -0.3M727.2 461.5l2.7 -0.3M730.3 464.7l2.7 -0.3M733.5 468l2.7 -0.3M736.6 471.2l2.7 -0.3M739.7 474.4l2.7 -0.3M742.9 477.7l2.7 -0.3M746 480.9l2.7 -0.3M749.1 484.1l2.7 -0.3M752.3 487.3l2.7 -0.3M755.4 490.6l2.7 -0.3M758.5 493.8l2.7 -0.3M761.7 497l2.7 -0.3M764.8 500.3l2.7 -0.3M767.9 503.5l2.7 -0.3M771.1 506.7l2.7 -0.3M774.2 510l2.7 -0.3M777.3 513.2l2.7 -0.3M780.5 516.4l2.7 -0.3M783.6 519.6l2.7 -0.3M786.7 522.9l2.7 -0.3M789.9 526.1l2.7 -0.3M793 529.3l2.7 -0.3M796.1 532.6l2.7 -0.3M799.3 535.8l2.7 -0.3M802.4 539l2.7 -0.3M805.5 542.3l2.7 -0.3M808.7 545.5l2.7 -0.3M811.8 548.7l2.7 -0.3M814.9 552l2.7 -0.3M818.1 555.2l2.7 -0.3M821.2 558.4l2.7 -0.3M824.3 561.6l2.7 -0.3M827.5 564.9l2.7 -0.3M830.6 568.1l2.7 -0.3M833.7 571.3l2.7 -0.3M836.9 574.6l2.7 -0.3M840 577.8l2.7 -0.3M843.1 581l2.7 -0.3M846.3 584.3l2.7 -0.3M849.4 587.5l2.7 -0.3M852.5 590.7l2.7 -0.3M855.7 593.9l2.7 -0.3M858.8 597.2l2.7 -0.3M861.9 600.4l2.7 -0.3M865 603.6l2.7 -0.3M868.2 606.9l2.7 -0.3M871.3 610.1l2.7 -0.3M874.4 613.3l2.7 -0.3M877.6 616.6l2.7 -0.3M880.7 619.8l2.7 -0.3M883.8 623l2.7 -0.3M887 626.3l2.7 -0.3M890.1 629.5l2.7 -0.3M893.2 632.7l2.7 -0.3M896.4 635.9l2.7 -0.3M899.5 639.2l2.7 -0.3M902.6 642.4l2.7 -0.3M905.8 645.6l2.7 -0.3M908.9 648.9l2.7 -0.3M912 652.1l2.7 -0.3M915.2 655.3l2.7 -0.3M918.3 658.6l2.7 -0.3M921.4 661.8l2.7 -0.3M924.6 665l2.7 -0.3M927.7 668.2l2.7 -0.3M930.8 671.5l2.7 -0.3M934 674.7l2.7 -0.3M937.1 677.9l2.7 -0.3M940.2 681.2l2.7 -0.3M943.4 684.4l2.7 -0.3M946.5 687.6l2.7 -0.3M949.6 690.9l2.7 -0.3M952.8 694.1l2.7 -0.3M955.9 697.3l2.7 -0.3M959 700.5l2.7 -0.3M962.2 703.8l2.7 -0.3M965.3 707l2.7 -0.3" stroke="#000" stroke-width="1.7"/>
<ellipse cx="978.3" cy="712.9" rx="4.8" ry="7.8" fill="#fff" stroke="#000" stroke-width="2.4" transform="rotate(45 978.3 712.9)"/>
<ellipse cx="659" cy="429" rx="14.6" ry="21.6" fill="#000" transform="rotate(-6.5 659 429)"/>
<polygon points="646.4,435.5 658.2,457.3 666.1,456.4 672.7,432.5" fill="#000"/>
<line x1="660.8" y1="444.9" x2="663.6" y2="469.2" stroke="#000" stroke-width="8" stroke-linecap="butt"/>
<ellipse cx="663.6" cy="469.2" rx="5.8" ry="9.1" fill="#000" transform="rotate(-6.5 663.6 469.2)"/>
<ellipse cx="659" cy="429" rx="11.4" ry="18.4" fill="#fff" transform="rotate(-6.5 659 429)"/>
<polygon points="649.5,435.1 661.3,456.9 663.1,456.7 669.6,432.8" fill="#fff"/>
<line x1="660.8" y1="444.9" x2="663.6" y2="469.2" stroke="#fff" stroke-width="3" stroke-linecap="butt"/>
<ellipse cx="663.6" cy="469.2" rx="3.3" ry="6.4" fill="#fff" transform="rotate(-6.5 663.6 469.2)"/>
<path d="M661.7 445.1h.1M660.5 448.8h.1M664.6 440.2h.1M665.6 439.4h.1M666.8 436.6h.1M666.8 440h.1M659.3 442.1h.1M657.3 443h.1M665.4 441.7h.1M660.4 439.2h.1M659.8 442.9h.1M657.5 443.3h.1M664.7 441.5h.1M661.8 445.5h.1M665.4 438.8h.1M655.3 443h.1M661.2 439.7h.1M664.8 443.5h.1M657 444.4h.1M655.2 444.9h.1M657 441.3h.1M661.2 449h.1M654.6 441.2h.1M666.2 445.2h.1M660.4 443.1h.1M665 442.7h.1M666.7 440.2h.1M654.6 445.8h.1M666.1 445.1h.1M653 442.9h.1M660.1 445.3h.1M661.5 441.5h.1M667.8 443.2h.1M656.9 448.1h.1M660.8 440.5h.1M662.6 445h.1M667.1 436.7h.1M659.3 446h.1M653.3 443.3h.1M664.8 443.1h.1M666.6 440.4h.1M659.6 447h.1M660.5 447.8h.1M653.5 443.4h.1M656.9 443h.1M658.7 442.2h.1M660 446.1h.1" stroke="#000" stroke-width="1.4" stroke-linecap="round" fill="none"/>
<path d="M671.1 431.4L668.7 430.9M670.9 434.8L668 433.4M670.5 436.8L668.5 435.4M669.7 439.7L667.6 437.6M669.2 440.9L666.8 438M667.8 443.3L666.3 440.8M667.1 444.4L665.7 441.8M665.1 446.2L663.5 441.6M663.8 447.1L662.8 443.2M662 447.7L661.2 442.6M661 447.9L660.5 443M658.9 447.8L658.9 443M656.9 447.2L657.3 443.7M655.2 446.3L655.7 444M654.4 445.7L655.1 443M652.8 444.2L654.5 440.1M650.9 441.6L652.6 439M650.2 440.4L652.5 437.4M649 438.1L650.4 436.8M648 435.1L650.1 433.9" stroke="#000" stroke-width="1.3" fill="none"/>
<path d="M646.9 426.8L648 427M647.7 420.3L648.5 420.9M648.9 416.9L649.9 418.2M651 413.6L651.9 415.4M655.1 410.5L655.5 412.1M658.3 410.1L658.3 411.8M660.7 410.6L660.5 412.4M665.2 413.9L664.2 416.2M667.2 416.6L666.4 417.9M669.5 421.3L668.6 422" stroke="#000" stroke-width="1.1" fill="none"/>
<ellipse cx="690" cy="467" rx="15.1" ry="22.6" fill="#000" transform="rotate(-3.4 690 467)"/>
<polygon points="676.6,473 687.7,496.2 695.7,495.7 704,471.4" fill="#000"/>
<line x1="691" y1="483.8" x2="692.8" y2="514.2" stroke="#000" stroke-width="8" stroke-linecap="butt"/>
<ellipse cx="692.8" cy="514.2" rx="5.8" ry="9.1" fill="#000" transform="rotate(-3.4 692.8 514.2)"/>
<ellipse cx="690" cy="467" rx="11.9" ry="19.4" fill="#fff" transform="rotate(-3.4 690 467)"/>
<polygon points="679.7,472.9 690.8,496 692.6,495.9 700.9,471.6" fill="#fff"/>
<line x1="691" y1="483.8" x2="692.8" y2="514.2" stroke="#fff" stroke-width="3" stroke-linecap="butt"/>
<ellipse cx="692.8" cy="514.2" rx="3.3" ry="6.4" fill="#fff" transform="rotate(-3.4 692.8 514.2)"/>
<path d="M686.5 482.9h.1M695.6 485.5h.1M693.2 486.4h.1M694.7 476h.1M696 479.7h.1M697.8 479.9h.1M692.4 476.7h.1M688.4 486.4h.1M688.9 487.6h.1M685.4 483.3h.1M686.7 485h.1M685 479.5h.1M685.8 475.6h.1M688.8 484.8h.1M693.4 484.1h.1M684.2 479.8h.1M691.5 474.2h.1M682 480.5h.1M697.4 478.9h.1M685.8 482.1h.1M696 481h.1M684.1 476.8h.1M691.1 482.2h.1M695.3 475.2h.1M689 484.4h.1M687.5 480.9h.1M684.1 481.3h.1M698.5 481.7h.1M686.7 479.8h.1M692 479.5h.1M688.7 480.4h.1M691.6 476.8h.1M693.8 483.9h.1M688.8 485.8h.1M697.3 478.2h.1M688.8 482.4h.1M692.6 482.1h.1M691.3 486.3h.1M692.3 478h.1M695.2 484.5h.1M692.9 479.4h.1M691.7 481.3h.1M695.7 475.2h.1M697.2 484.3h.1M695.9 482.2h.1M684.7 484.2h.1M691.2 477.8h.1M692 477.2h.1M695.1 485.3h.1M693 473h.1M698 483.1h.1" stroke="#000" stroke-width="1.4" stroke-linecap="round" fill="none"/>
<path d="M702.4 471L699.8 470.2M702.1 473.5L699.4 472.1M701.5 476.1L698.6 473.9M700.9 477.9L699.4 476.4M700 480L698 477.4M698.8 481.9L696.9 478.6M697.3 483.8L696.2 481.1M696.3 484.8L695.1 481.4M694.7 485.9L693.6 481.6M693.4 486.5L692.7 482.8M691.7 486.9L691.2 481.7M689.7 486.9L689.8 481.5M688.6 486.7L688.9 481.6M686.8 486L687.6 481.1M685.4 485.1L686.5 480.7M683.5 483.5L684.8 480.2M682 481.6L683.4 479M680.8 479.8L682.4 477.6M679.8 477.5L682.2 475M679 475.5L681.1 473.9M678.2 472.7L681.4 471.2" stroke="#000" stroke-width="1.3" fill="none"/>
<path d="M677.8 461.1L679 461.7M678.4 458.4L679.8 459.5M680.6 452.9L681.4 454M682.8 450L683.8 452.3M685.7 447.9L685.9 449.1M689.1 447L689.2 449.7M694.2 448.6L693.6 450.8M697.1 451.2L696 453.6M698.7 453.4L697.5 455.3M701.4 459.7L699.9 460.6" stroke="#000" stroke-width="1.1" fill="none"/>
<ellipse cx="722" cy="507" rx="15.6" ry="22.6" fill="#000" transform="rotate(-1.1 722 507)"/>
<polygon points="708,512.5 718.6,536.1 726.6,535.9 736.3,512" fill="#000"/>
<line x1="722.3" y1="523.8" x2="722.9" y2="554.2" stroke="#000" stroke-width="8" stroke-linecap="butt"/>
<ellipse cx="722.9" cy="554.2" rx="5.8" ry="9.1" fill="#000" transform="rotate(-1.1 722.9 554.2)"/>
<ellipse cx="722" cy="507" rx="12.4" ry="19.4" fill="#fff" transform="rotate(-1.1 722 507)"/>
<polygon points="711.1,512.5 721.7,536 723.5,536 733.2,512" fill="#fff"/>
<line x1="722.3" y1="523.8" x2="722.9" y2="554.2" stroke="#fff" stroke-width="3" stroke-linecap="butt"/>
<ellipse cx="722.9" cy="554.2" rx="3.3" ry="6.4" fill="#fff" transform="rotate(-1.1 722.9 554.2)"/>
<path d="M723.2 518.7h.1M724.5 519.2h.1M723 515h.1M728.9 523.5h.1M718.3 518h.1M726.8 524.2h.1M730 514.5h.1M728 522h.1M717.2 519.9h.1M725.7 520.4h.1M719 517.7h.1M723.5 520.1h.1M722.7 519.3h.1M724.1 521.9h.1M729.8 519.6h.1M727 514.8h.1M730.5 521.6h.1M718.7 526.7h.1M715.9 518.3h.1M732 512.8h.1M718.2 519h.1M727.3 519.9h.1M720.1 524.5h.1M721.8 518.2h.1M727 526h.1M730.5 520.4h.1M712 516.4h.1M717.8 518.1h.1M715.5 524.1h.1M729.4 515.5h.1M725.9 518.5h.1M723.2 520.7h.1M727.3 511.8h.1M722.7 525.1h.1M723.2 518.9h.1M730.6 514.1h.1M727.5 521.3h.1M723.9 526.7h.1M729.7 520.4h.1M730.7 519.7h.1M717.5 520.4h.1M729.1 520h.1M715.1 519.6h.1M715.9 518.9h.1M720.8 524.7h.1M714.9 521.6h.1M732.3 512.6h.1M723.9 525.3h.1M724.9 524.9h.1M722 527h.1M713.1 517.1h.1M715.5 521.3h.1M719 521.6h.1" stroke="#000" stroke-width="1.4" stroke-linecap="round" fill="none"/>
<path d="M734.8 510.8L732.3 510.1M734.4 513.6L731.9 512.3M733.7 516L732.2 514.9M732.8 518.5L729.9 515.5M732 520L730.8 518.4M731.1 521.5L729.9 519.5M729.9 523.1L728.6 520.4M728.6 524.4L726.9 519.9M726.7 525.8L725.9 522.7M725.3 526.4L724.7 522.5M723.1 526.9L722.9 522.9M722.2 527L722.2 524.3M720.3 526.8L720.7 522.3M719.1 526.4L719.6 523.1M717 525.3L718 521.5M715.7 524.3L716.9 521.1M714.1 522.7L715.9 519.1M713 521.2L714.7 518.5M711.7 518.9L714.1 516.1M710.8 516.8L712.6 515.1M710.3 515.4L713.4 513.2M709.6 512.5L711 511.9" stroke="#000" stroke-width="1.3" fill="none"/>
<path d="M709.3 502.5L710.8 503M710.2 498.3L711.9 499.6M711.7 494.5L713.2 496.4M714.8 490.1L715.3 491.2M717.5 488.1L717.9 489.9M721.6 487L721.6 489.9M723.7 487.2L723.4 490.1M728.1 489.5L727.3 491.8M730.4 491.9L729.1 494.2M733 496.6L731.4 498M733.7 498.7L732 499.9" stroke="#000" stroke-width="1.1" fill="none"/>
<ellipse cx="748" cy="541" rx="15.6" ry="22.6" fill="#000"/>
<polygon points="733.9,546.2 744,570 752,570 762.1,546.2" fill="#000"/>
<line x1="748" y1="557.8" x2="748" y2="586.2" stroke="#000" stroke-width="8" stroke-linecap="butt"/>
<ellipse cx="748" cy="586.2" rx="5.8" ry="9.1" fill="#000"/>
<ellipse cx="748" cy="541" rx="12.4" ry="19.4" fill="#fff"/>
<polygon points="737,546.2 747.1,570 748.9,570 759,546.2" fill="#fff"/>
<line x1="748" y1="557.8" x2="748" y2="586.2" stroke="#fff" stroke-width="3" stroke-linecap="butt"/>
<ellipse cx="748" cy="586.2" rx="3.3" ry="6.4" fill="#fff"/>
<path d="M751.6 553.8h.1M746.3 561.5h.1M750 557h.1M758.1 548.9h.1M747.4 556.5h.1M754.9 557.4h.1M752.5 555.5h.1M746.8 547.8h.1M742.2 549.1h.1M745.2 553h.1M746.3 552.5h.1M755.2 553.1h.1M745.2 557.3h.1M754.9 550.9h.1M748.2 559.6h.1M750.3 551.1h.1M743.5 555.7h.1M751.8 555.9h.1M746.1 547.9h.1M758.1 547.9h.1M748 560.9h.1M753.1 559.3h.1M746.8 560.2h.1M738.6 552.5h.1M743.6 558.2h.1M744.3 558.6h.1M745.9 559.4h.1M757.7 548.8h.1M745.6 560.1h.1M742.2 555.5h.1M739.5 554h.1M748.5 554.5h.1M747.3 562.1h.1M754.6 551.4h.1M758 547.7h.1M750.5 560.3h.1M757.2 553.8h.1M746 561.6h.1M742.9 553.8h.1M755.3 550.5h.1M741.1 548.3h.1M750.1 561.7h.1M749.5 560.2h.1M748.1 548.8h.1M746.1 553.6h.1M756 554.5h.1M754.5 552.7h.1M746.4 550.6h.1M743.4 554.7h.1M751.2 559.7h.1M756.2 549.6h.1M742.5 556.9h.1M739.7 551.5h.1" stroke="#000" stroke-width="1.4" stroke-linecap="round" fill="none"/>
<path d="M760.7 544.9L759 544.4M760.3 547.6L758.8 546.8M759.6 550L756.5 547.6M758.9 551.9L756.7 549.7M757.7 554.4L755.5 551.3M756.4 556.3L755 553.8M755.5 557.4L753.5 553M753.9 558.8L753.1 556.4M752.7 559.7L751.8 556.1M750.8 560.5L750.2 556.7M749 560.9L748.9 558.7M747.2 561L747.3 557.7M746.1 560.8L746.3 557.8M744.2 560.1L744.7 557.7M742.6 559.2L743.4 556.5M741.2 558.1L742.5 554.8M739.8 556.5L741 554.3M738.5 554.7L740.5 551.8M737.9 553.5L739.5 551.5M736.7 550.9L739.7 548.3M735.8 548L737.4 547.1M735.4 546L737.6 545.2" stroke="#000" stroke-width="1.3" fill="none"/>
<path d="M735.3 536.5L736.5 536.9M736.5 531.8L737.5 532.6M739 526.5L739.8 527.8M741.7 523.5L742.6 526.1M743.8 522.1L744.1 523.3M747.2 521L747.3 523.3M750.8 521.5L750.4 523.8M753.4 522.8L752.6 525.5M757 526.5L755.7 528.6M758.3 528.8L756.9 530.5M760.5 535.3L758.7 536.1" stroke="#000" stroke-width="1.1" fill="none"/>
<ellipse cx="780" cy="580" rx="15.6" ry="22.6" fill="#000" transform="rotate(-5.4 780 580)"/>
<polygon points="766.4,586.6 778.8,609.2 786.7,608.5 794.6,583.9" fill="#000"/>
<line x1="781.6" y1="596.7" x2="783.6" y2="618.2" stroke="#000" stroke-width="8" stroke-linecap="butt"/>
<ellipse cx="783.6" cy="618.2" rx="5.8" ry="9.1" fill="#000" transform="rotate(-5.4 783.6 618.2)"/>
<ellipse cx="780" cy="580" rx="12.4" ry="19.4" fill="#fff" transform="rotate(-5.4 780 580)"/>
<polygon points="769.5,586.3 781.9,609 783.6,608.8 791.5,584.2" fill="#fff"/>
<line x1="781.6" y1="596.7" x2="783.6" y2="618.2" stroke="#fff" stroke-width="3" stroke-linecap="butt"/>
<ellipse cx="783.6" cy="618.2" rx="3.3" ry="6.4" fill="#fff" transform="rotate(-5.4 783.6 618.2)"/>
<path d="M785.9 593h.1M784.2 590.4h.1M786.3 594.5h.1M780.3 598.5h.1M785.9 590.8h.1M780.4 591.3h.1M780.1 599.3h.1M788.6 593h.1M785.5 590.5h.1M779.5 589.9h.1M787.6 589.6h.1M785.2 592.7h.1M783.1 594.8h.1M777.3 590.4h.1M790 590.8h.1M788.1 596.7h.1M781.5 596.7h.1M784.1 600h.1M783.2 584.9h.1M787.4 593.7h.1M784.3 595.6h.1M788.2 593.7h.1M785.6 598.7h.1M778.2 594.4h.1M776.1 596.3h.1M783.3 600.2h.1M777.5 597.9h.1M777.6 597.6h.1M782.6 592.5h.1M777.7 587.1h.1M779.1 589.7h.1M784.9 595.1h.1M782.5 597.5h.1M775 594.3h.1M779.7 588.9h.1M782 590.2h.1M774.8 595.5h.1M788.4 594.7h.1M785.6 589.3h.1M786.6 594.7h.1M780.1 594.3h.1M776.9 597.4h.1M787.6 596.9h.1M782 589h.1M789.4 593.9h.1M785 595.5h.1M782.3 600.9h.1M790 590.6h.1M788.4 593.1h.1M789.1 589h.1M788.2 591.4h.1M787.7 590.1h.1M788.5 588.8h.1" stroke="#000" stroke-width="1.4" stroke-linecap="round" fill="none"/>
<path d="M793.1 582.9L790.7 582.4M792.8 585.8L790.2 584.6M792.3 588.2L790.2 586.8M791.6 590.7L788.9 588.2M790.8 592.5L788.4 589.7M790.1 594L788.9 592.3M788.8 595.8L786.6 591.7M787.8 596.9L786.6 594.3M786.5 598.1L785.1 594.2M784.7 599.1L783.9 595.8M783.4 599.6L782.6 594.9M781.7 599.9L781.3 594.7M779.3 599.8L779.4 596.4M778.5 599.6L778.8 595M776.7 598.8L777.1 596.6M775.4 598L776.1 595.2M773.1 596L774 593.8M771.7 594.3L772.9 592.2M771.1 593.5L773.1 590.5M769.4 590.3L770.9 588.8M768.8 588.8L770.3 587.6M767.9 585.9L771.1 584.3" stroke="#000" stroke-width="1.3" fill="none"/>
<path d="M767 575.8L768.9 576.4M767.7 571.7L768.9 572.5M769.9 566.1L771.2 568M771.9 563.3L772.6 564.7M775.2 560.9L775.6 562.2M777.5 560.2L777.9 563.1M780.8 560.3L780.7 562.9M783.9 561.5L783.6 562.9M786.9 564L786.1 565.7M789.2 567L787.9 568.8M791.9 573.2L791 573.8" stroke="#000" stroke-width="1.1" fill="none"/>
<ellipse cx="811" cy="618" rx="16.6" ry="24.6" fill="#000" transform="rotate(-2.5 811 618)"/>
<polygon points="796.2,624.4 808.4,649.1 816.3,648.8 826.3,623.1" fill="#000"/>
<line x1="811.8" y1="636.4" x2="812.8" y2="660.2" stroke="#000" stroke-width="8" stroke-linecap="butt"/>
<ellipse cx="812.8" cy="660.2" rx="5.8" ry="9.1" fill="#000" transform="rotate(-2.5 812.8 660.2)"/>
<ellipse cx="811" cy="618" rx="13.4" ry="21.4" fill="#fff" transform="rotate(-2.5 811 618)"/>
<polygon points="799.3,624.3 811.4,649 813.2,648.9 823.2,623.2" fill="#fff"/>
<line x1="811.8" y1="636.4" x2="812.8" y2="660.2" stroke="#fff" stroke-width="3" stroke-linecap="butt"/>
<ellipse cx="812.8" cy="660.2" rx="3.3" ry="6.4" fill="#fff" transform="rotate(-2.5 812.8 660.2)"/>
<path d="M818.8 635.5h.1M814.3 638h.1M809.6 639.8h.1M812.3 638.7h.1M819.9 632.4h.1M820.1 622.7h.1M820.6 626.5h.1M816.2 636.7h.1M819.3 632.2h.1M815.2 627.4h.1M806.6 634.8h.1M812.3 639.8h.1M813.6 638.2h.1M815.9 635.2h.1M819.1 630.2h.1M812.6 637.2h.1M807.6 632.1h.1M805.9 632.2h.1M805.9 630.8h.1M812.9 630.2h.1M819.6 626.7h.1M821.9 623h.1M805.1 631h.1M806 633.6h.1M816.5 634.1h.1M808.8 627.1h.1M822.4 625.5h.1M821.4 624.6h.1M811.1 637.2h.1M817 627.8h.1M812.7 631.1h.1M819.6 631.2h.1M819.8 626.3h.1M804.6 633.4h.1M821.6 622.8h.1M814.7 633h.1M812.5 631h.1M815.8 640h.1M813.4 627.4h.1M822.5 623.6h.1M816.5 631.3h.1M816 629.6h.1M814.1 638.6h.1M814 626.5h.1M816.3 639h.1M807.7 636.5h.1M810.2 627h.1M814.2 633.1h.1M806.6 633.9h.1M804.3 636.1h.1M810 631.6h.1M813.5 625.8h.1M819 625.9h.1M812.2 636.3h.1M813.6 626.9h.1M811.9 634.8h.1M801.4 632h.1M822.2 628.2h.1M813.2 637.5h.1M811 625.3h.1M817.4 638.8h.1M815.8 634.2h.1" stroke="#000" stroke-width="1.4" stroke-linecap="round" fill="none"/>
<path d="M824.9 621.6L821.5 620.7M824.5 624.5L822.7 623.6M824 627.2L821.3 625.3M823.5 628.8L820.8 626.6M822.5 631.2L820.7 629.1M821.2 633.7L818.8 630M820.3 635L819 632.6M819.5 636.1L818.2 633.4M817.5 637.9L816.3 634.1M815.9 638.9L815 635M815.2 639.2L814.2 634.5M813.5 639.8L812.9 634.7M811 640L811 636M810.1 639.9L810.2 636.9M808.2 639.4L808.9 634.4M806.4 638.5L807.3 634.3M805.5 637.8L806.6 633.9M804 636.6L805 634M802.1 634.3L803.8 631.1M800.9 632.7L802.8 629.9M800 631L802.4 628.2M799.3 629.3L801.5 627.2M798.2 626.2L799.7 625.3M797.8 624.5L799.5 623.6" stroke="#000" stroke-width="1.3" fill="none"/>
<path d="M797.2 613.5L798.5 613.9M798.5 607.3L800.2 608.7M799.6 604.4L800.8 605.8M801.9 600.7L802.8 602.4M805.3 597.5L805.9 599.5M807.3 596.6L807.6 598M811.7 596.1L811.7 598.2M814.3 596.9L814 599.1M817.7 599.1L817.3 600.3M820.4 602.2L819.7 603.4M822.3 605.8L821.5 606.7M823.7 609.4L822.4 610.3" stroke="#000" stroke-width="1.1" fill="none"/>
<ellipse cx="846.5" cy="667" rx="18.6" ry="25.6" fill="#000" transform="rotate(-2.1 846.5 667)"/>
<polygon points="829.9,673.6 843.7,699.1 851.7,698.8 863.6,672.4" fill="#000"/>
<line x1="847.2" y1="686.2" x2="848.4" y2="718.2" stroke="#000" stroke-width="8" stroke-linecap="butt"/>
<ellipse cx="848.4" cy="718.2" rx="5.8" ry="9.1" fill="#000" transform="rotate(-2.1 848.4 718.2)"/>
<ellipse cx="846.5" cy="667" rx="15.4" ry="22.4" fill="#fff" transform="rotate(-2.1 846.5 667)"/>
<polygon points="833,673.5 846.8,699 848.6,698.9 860.5,672.5" fill="#fff"/>
<line x1="847.2" y1="686.2" x2="848.4" y2="718.2" stroke="#fff" stroke-width="3" stroke-linecap="butt"/>
<ellipse cx="848.4" cy="718.2" rx="3.3" ry="6.4" fill="#fff" transform="rotate(-2.1 848.4 718.2)"/>
<path d="M859.3 672.3h.1M843 685.1h.1M843.8 689.2h.1M856.9 677.1h.1M845.5 681.8h.1M854.6 686.4h.1M854.2 682.7h.1M840.5 683.5h.1M856.7 677h.1M840.9 686.7h.1M848.3 677.4h.1M848.6 679.8h.1M853.8 685.1h.1M844 689h.1M851.7 674.3h.1M854.6 685.2h.1M842 681.8h.1M847.5 686h.1M848.9 688.6h.1M839.8 677.9h.1M854.8 681.9h.1M839.8 684.7h.1M849.2 685.6h.1M845.3 682.7h.1M852.1 683.4h.1M840.6 680h.1M838.4 683.1h.1M840.1 680.5h.1M850.9 679.2h.1M852.6 682.8h.1M853.2 685.7h.1M853.5 682.7h.1M844.7 686.1h.1M844.8 684.5h.1M843.8 689.9h.1M847.5 683h.1M838.6 683.7h.1M839.2 681.3h.1M856.3 684.9h.1M843.4 679.7h.1M857.2 680h.1M845.5 683.2h.1M849.4 685h.1M849.8 684.2h.1M846.4 682h.1M839.6 684.4h.1M840.9 688.8h.1M855.8 683.1h.1M851.5 679.7h.1M838.2 684.7h.1M837.6 680.7h.1M857.9 675.4h.1M848.2 682.5h.1M836.9 682.2h.1M849.2 685.7h.1M852.9 676.9h.1M844.2 687h.1M843.9 687.1h.1M851.2 680.7h.1M852 684h.1M840.1 685.4h.1M849 684.7h.1M849.1 686.4h.1M851.4 690h.1M853.8 686.8h.1M859 677.5h.1M848.1 688.9h.1M846.8 676.9h.1M849.3 683.8h.1M846.9 674.9h.1M845.6 688.3h.1M854.2 684.1h.1M853.8 676.1h.1M836.5 680.2h.1" stroke="#000" stroke-width="1.4" stroke-linecap="round" fill="none"/>
<path d="M862.3 670.9L860 670.3M862 673.3L858.6 671.9M861.4 676.1L858.3 674.2M861 677.3L859.1 676M860.1 679.7L858.2 677.9M859 681.8L856.8 679.2M857.7 683.9L856.1 681.4M856.8 685L855 681.8M855.2 686.7L853.5 682.8M854.3 687.4L853.3 684.7M852.8 688.4L852 685.7M851 689.2L850.3 686.1M849.4 689.7L848.9 686.3M848.2 689.9L847.8 685.3M846 690L846.1 685M844.7 689.8L844.9 687.2M842.8 689.2L843.2 686.6M841.2 688.5L842 685.3M839.3 687.3L840.1 685M837.8 686L839.3 682.7M836.4 684.5L838.3 681.2M835.2 682.9L836.7 680.8M834.4 681.6L836.5 679.1M833.1 679.1L836.2 676.3M832.3 677L834.3 675.6M831.8 675.4L834.8 673.7M831.2 673.3L833.3 672.4" stroke="#000" stroke-width="1.3" fill="none"/>
<path d="M830.8 661.7L832.7 662.4M831.9 657L833 657.7M833.1 653.9L834.3 655M835.5 649.9L836.8 651.9M838.7 646.6L839.5 648.6M842.5 644.6L842.8 646.2M844.1 644.2L844.4 646.8M849.1 644.4L848.8 647.2M850.9 645.1L850.4 647.5M855.6 648.4L855.1 649.4M857.1 650.2L855.9 652.2M859.4 654L857.9 655.6M861.1 658.1L859.2 659.3" stroke="#000" stroke-width="1.1" fill="none"/>
<ellipse cx="883" cy="712" rx="18.6" ry="26.6" fill="#000"/>
<polygon points="866.1,718.2 879,745 887,745 899.9,718.2" fill="#000"/>
<line x1="883" y1="732" x2="883" y2="764.2" stroke="#000" stroke-width="8" stroke-linecap="butt"/>
<ellipse cx="883" cy="764.2" rx="5.8" ry="9.1" fill="#000"/>
<ellipse cx="883" cy="712" rx="15.4" ry="23.4" fill="#fff"/>
<polygon points="869.2,718.2 882.1,745 883.9,745 896.8,718.2" fill="#fff"/>
<line x1="883" y1="732" x2="883" y2="764.2" stroke="#fff" stroke-width="3" stroke-linecap="butt"/>
<ellipse cx="883" cy="764.2" rx="3.3" ry="6.4" fill="#fff"/>
<path d="M892 729h.1M887.7 736h.1M875.2 724.7h.1M881.1 726.4h.1M887.3 721.9h.1M887.2 721.5h.1M889.2 733.1h.1M879.2 727.2h.1M880 735.5h.1M877.3 734.7h.1M886.2 727.5h.1M885.3 722.6h.1M881.4 728.9h.1M895.6 718.6h.1M881.5 729.1h.1M885.8 728.1h.1M885.8 727.4h.1M890.5 728.5h.1M874.5 726.4h.1M889.4 734.8h.1M887.5 720.4h.1M880.6 726.5h.1M890.9 729.5h.1M884.5 731.9h.1M885.7 734.8h.1M891.9 729.8h.1M888.4 732.3h.1M883.5 730.8h.1M889.6 728.4h.1M884.9 732.7h.1M892.1 731.2h.1M894 725.4h.1M886 728.8h.1M889.7 720.5h.1M875.6 728.8h.1M892.4 728.9h.1M893.2 730h.1M892 730.3h.1M870.7 725.3h.1M878.1 725.6h.1M882.5 729.9h.1M887.9 725h.1M878.7 733.3h.1M891.9 730.7h.1M890.6 729.6h.1M888.3 719.6h.1M888.7 731h.1M877.2 733.3h.1M878.5 728.6h.1M874.8 731.7h.1M877.5 725.1h.1M887.6 725.5h.1M873.8 731.3h.1M878.1 732.5h.1M888.4 726.9h.1M882.4 729h.1M882.2 726.2h.1M892.7 722.2h.1M887.5 734.1h.1M895 720.9h.1M892.1 721.6h.1M888.1 728.2h.1M887.3 733.9h.1M886 735.9h.1M888.7 725.4h.1M896 722.5h.1M894.7 724.9h.1M884.2 730.4h.1M883.7 721.4h.1M882.5 733.6h.1M878 729.7h.1M887.8 727.8h.1M883 723.2h.1M893.4 722.8h.1M878.1 720.8h.1M881.3 725.9h.1M876.4 725.5h.1" stroke="#000" stroke-width="1.4" stroke-linecap="round" fill="none"/>
<path d="M898.6 717.3L896.1 716.4M898.2 719.7L895.9 718.5M897.8 721L895.3 719.5M896.7 724.3L894.1 721.9M896 726L894.2 724M894.7 728.4L893.4 726.6M894.1 729.3L892.5 726.8M892.3 731.5L890.8 728.2M891.3 732.5L890.2 729.8M889.8 733.8L889.1 731.6M888.6 734.5L887.9 731.7M886.6 735.4L885.9 731.1M885 735.8L884.6 732M882.9 736L882.9 731M882 736L882.2 731.1M880.5 735.7L881.1 730.5M878.9 735.2L879.8 730M877.1 734.3L878.3 729.9M875.8 733.4L876.4 731.4M873.7 731.5L875 728.6M872.8 730.5L874.8 726.9M871.6 728.9L872.8 727.1M870.1 726.2L872.6 723.5M869.6 725.2L872.1 722.7M868.4 721.9L871 720.2M868 720.2L870.3 719M867.5 718.2L869.8 717.2" stroke="#000" stroke-width="1.3" fill="none"/>
<path d="M867.3 707.5L868.9 708M869 700.3L870.5 701.6M870.6 696.8L871.4 697.9M873 693.3L874.1 695.3M876.3 690.2L876.8 691.6M878.3 689L878.6 690.4M882.1 688L882.2 690.5M886.4 688.6L886.2 690M888.8 689.7L888.2 692.2M891.2 691.4L890.7 692.7M894.4 695.1L893.2 696.8M897 700.4L895.4 701.7M897.8 703.1L896.5 703.9" stroke="#000" stroke-width="1.1" fill="none"/>
<ellipse cx="579" cy="323" rx="140" ry="74" fill="#fff" stroke="#000" stroke-width="5"/>
<path d="M460.0 362.22 A140 74 0 0 0 698.0 362.22" fill="none" stroke="#000" stroke-width="8"/>
<path d="M621.0 252.4 A140 74 0 0 1 705.0 290.7" fill="none" stroke="#000" stroke-width="9"/>
<path d="M719 323.7L713.4 323.7M718.9 325.6L709.2 325.4M718.8 327.2L708.3 326.9M718.4 329.7L710.6 329.3M718.2 331L711.7 330.6M717.7 332.9L708.3 332.3M717.3 334.6L708.7 333.9M716.4 337.2L708.9 336.5M715.6 339.3L707.3 338.3M715 340.5L707.6 339.6M714 342.7L708.4 341.8M713 344.5L707.9 343.6M711.5 346.9L706.1 345.9M710.5 348.4L702.7 346.9M709.6 349.7L700.4 347.8M708.3 351.4L699.1 349.3M706.1 354L697.5 351.9M705.3 354.9L696.3 352.6M703.6 356.8L695.4 354.5M701.6 358.8L694.9 356.8M699.4 360.7L692.1 358.4M697.6 362.4L690.3 360M695.9 363.7L690.5 361.9M694 365.2L687.8 362.9M691 367.4L683.5 364.4M689.9 368.2L685 366.2M687.3 369.9L683.3 368.1M684.7 371.5L680.5 369.6M682.9 372.6L678.5 370.6M680.4 374L675.1 371.4M677.9 375.4L674.4 373.5M674.5 377.1L669.9 374.5M672.5 378.1L667.7 375.2M669.2 379.6L666.2 377.7M666.8 380.7L662.5 377.9M663.6 381.9L659.6 379.1M659.7 383.5L655.4 380.2M658.1 384.1L653.6 380.6M654.8 385.2L650.5 381.7M650.5 386.6L648 384.4M647.5 387.5L643.2 383.5M645.2 388.2L641.5 384.6M642.2 389L639.8 386.5M637.4 390.3L633.7 386.1M634.8 390.9L630.8 386.1M631.9 391.5L629.7 388.7M628.7 392.2L626.5 389.1M624.2 393L622.6 390.6M621.4 393.5L619.3 390M618 394.1L616.3 391M615.1 394.5L613.4 391.2M611.4 395L609.6 391M607.1 395.5L606 392.5M603.3 395.9L602.2 392.6M599 396.2L598 392.8M596.3 396.4L595.4 392.6M593 396.6L592 391.6M589.7 396.8L589.1 392.3M584.5 396.9L584.3 394.2M582.4 397L582.3 393M578.5 397L578.5 394.3M573.6 396.9L574 391.6M571.4 396.9L571.7 394.2M567 396.7L567.7 392.5M562.6 396.5L563.5 392.3M560.6 396.4L562 390.9M555 395.9L556.7 390.6M553.1 395.7L554 393.1M549.1 395.3L550.5 391.9M546.2 394.9L548.2 390.7M542.1 394.4L544.5 389.7M538.9 393.9L540.5 391.1M533.7 393L537.1 387.8M531.4 392.6L534 388.9M527.5 391.8L530.3 388M524.8 391.2L527.6 387.7M520.2 390.1L523.2 386.7M517 389.3L521.4 384.6M515.1 388.8L517.3 386.5M512 388L514.5 385.6M507.3 386.6L509.6 384.5M504 385.5L507.2 382.9M502.2 384.9L506.8 381.2M499.6 383.9L502.8 381.5M496.7 382.9L501.7 379.2M492.2 381.1L497.3 377.7M489.7 380L493 377.9M486.7 378.6L493.6 374.4M484.4 377.5L489.4 374.6M481.9 376.3L487.2 373.4M479.3 375L482.8 373.1M476 373.1L483.4 369.5M473.7 371.7L481.7 368M471.5 370.4L478.9 367.2M470.2 369.6L476.4 366.9M467.9 368L474.6 365.4M464.8 365.8L470.1 363.8M462.5 364L467.1 362.4M460.8 362.7L469.6 359.7M458.8 360.9L467.1 358.3M456.8 359.1L463.7 357.1M455.9 358.2L460 357.1M453.3 355.6L462.9 353.1M451.7 353.8L458.2 352.3M450.7 352.7L455.7 351.5M449 350.4L458.5 348.4M447.9 349L453.6 347.9M446.9 347.6L455.3 346M445.8 345.8L455.2 344.2M444.5 343.5L452.5 342.3M443.5 341.7L448.2 341M442.8 340.1L448.5 339.4M442 338.1L451.1 337.1M441 335.4L449.9 334.6M440.6 334.2L445.9 333.7M440.1 332.1L447.8 331.6M439.7 330.3L449.8 329.8M439.3 327.8L446.3 327.5M439.1 326.2L448.1 326M439 323.9L448.9 323.9M439 322.5L448.1 322.5M439.1 320.8L447.9 321M439.2 318.8L445.6 319M439.5 317L447.3 317.4M439.8 315L447.2 315.5M440.4 312.4L448.3 313M441 310.4L447.6 311M441.4 309.3L451.8 310.3M442.1 307.4L451.1 308.4M442.9 305.7L451.1 306.7M444 303.3L451.1 304.3M445.1 301.4L453.2 302.7M445.9 300.1L450.3 300.9M447 298.3L456.9 300.1M448.9 295.6L458.4 297.6M450.3 293.9L454.6 294.9M451.6 292.4L460.7 294.6M453.4 290.3L462.1 292.5M454.6 289L463.6 291.5M456.8 286.9L466.2 289.7M458.3 285.5L463 287M460.7 283.5L466.9 285.6M461.8 282.5L468.8 285M464.8 280.2L470.1 282.1M466.7 278.8L472.5 281.1M468.4 277.6L474.3 280.1M470.3 276.4L477 279.3M473.6 274.3L478.4 276.5M475 273.4L482.4 277M477.8 271.9L482.5 274.2M480.1 270.6L486.3 273.9M483.3 269L486.6 270.9M485.9 267.8L491.4 271M489.5 266.1L495.6 270M491.2 265.3L494.6 267.5M495.2 263.7L498.6 266.1M498.5 262.5L501.7 264.9M501.3 261.4L504.4 263.9M503.6 260.6L506.7 263.2M507.2 259.5L510.5 262.4M510.7 258.4L515.2 262.7M512.6 257.9L515.9 261.1M516.8 256.7L519.5 259.5M519.3 256.1L522.7 259.8M522.6 255.3L526.7 260.2M525.5 254.6L528.6 258.6M530.7 253.5L532.3 255.9M533.8 253L535.8 256.2M535.9 252.6L538.1 256.2M541 251.8L542.3 254.1M542.9 251.5L545.4 256.4M547.3 250.9L549.3 255.5M550.4 250.6L551.4 253.1M554.2 250.2L555.9 255.2M557.9 249.8L559 254M562.1 249.5L563 253.5M565.6 249.3L566.4 254.1M569.3 249.2L570 254.6M573.5 249.1L573.8 252.6M576.1 249L576.2 252.2M580 249L580 253.8M582.7 249L582.5 253.1M588 249.2L587.5 253.4M590.2 249.2L589.7 252.3M594.3 249.4L593.5 252.9M597.8 249.7L596.4 255.2M602.5 250.1L601.8 252.4M604.8 250.3L603.3 254.5M608.8 250.7L607.3 254.3M613 251.2L610.9 255.5M616.3 251.7L614.3 255.5M620 252.2L617.6 256.4M622.6 252.7L619.7 257.4M625.8 253.3L622.3 258.5M631.2 254.3L627.4 259.3M634 255L629.9 260.1M637.1 255.7L634.5 258.7M640 256.4L636.8 259.9M644.1 257.5L641 260.6M646.8 258.3L643.6 261.3M650.8 259.5L646.1 263.6M653.3 260.3L650.9 262.3M655.7 261.1L652 264.1M658.8 262.2L656 264.3M661.5 263.2L658.7 265.3M664.5 264.4L660.4 267.2M667.2 265.5L662.1 268.8M670.5 267L667.3 268.9M673.4 268.3L669.3 270.7M675.9 269.6L669.5 273.1M678.1 270.7L673.1 273.4M681.6 272.6L676.8 275M683.9 274L678.8 276.4M686.1 275.4L678 279M688.4 276.8L684.3 278.6M691.2 278.8L683.4 281.8M692.9 280L684.8 283M694.6 281.3L688.5 283.5M697.3 283.4L689.9 285.9M698.9 284.8L694.3 286.3M701.2 286.9L694.5 288.9M702.9 288.6L693.9 291.1M704 289.6L696.5 291.6M706.1 292L700.9 293.3M707 293.1L699.3 294.9M708.6 295.1L704 296.1M710.3 297.3L702.5 298.9M711.5 299.1L705.5 300.2M712.7 301.1L703 302.7M713.7 302.9L708.2 303.7M714.2 303.9L704 305.3M715.4 306.3L710.2 306.9M716.3 308.6L706.6 309.6M716.9 310.2L707.9 311.1M717.4 311.8L710.4 312.4M718 314.1L708.6 314.7M718.4 316.4L713.9 316.6M718.7 318.3L710.7 318.6M718.9 319.9L711.2 320.1M719 321.6L709.1 321.7" stroke="#000" stroke-width="1.5" fill="none"/>
<path d="M680 320.1L687.4 320.1M679.9 322L685.3 322.1M679.7 323.5L686.1 323.8M679.3 325.3L683.6 325.6M678.6 327.6L683.7 327.9M678 329.3L682.8 329.8M677 331.4L682.5 332.1M676.2 332.8L681.3 333.5M674.8 335.1L681.9 336.2M674.1 336L681.3 337.2M672.5 338.1L675.7 338.7M671.1 339.6L676.7 340.8M668.9 341.8L672.3 342.7M667.2 343.5L671.5 344.6M665.3 345L671.6 346.8M663.1 346.7L668.3 348.3M661.1 348.1L666.9 350.1M659.3 349.3L664.4 351.2M657.6 350.4L661.1 351.7M654.6 352.1L658.1 353.5M651.6 353.7L655.8 355.5M649.1 354.9L653.8 357.2M647.1 355.9L651.6 358.2M642.9 357.6L645.5 359M640.8 358.5L644 360.4M637.5 359.7L641.6 362.3M634.7 360.6L637.4 362.5M630.1 362.1L633.9 365M628.4 362.6L631.7 365.2M624.2 363.7L626.1 365.4M620.5 364.6L623.3 367.4M616.5 365.4L618.8 368M613.3 366.1L616.2 369.6M610.7 366.5L612 368.3M605.7 367.3L607.5 370.1M601.7 367.9L603.6 371.3M597.8 368.3L598.8 370.3M594.8 368.6L596.2 372M590.3 369L591 371.1M587.7 369.1L588.5 372.2M584.5 369.3L585.1 372.7M578.7 369.5L578.9 371.8M575 369.5L575 372.7M572.1 369.5L571.9 371.5M568.5 369.4L568.1 372.2M564.5 369.3L564.1 371.6M560.3 369L559.6 371.4M555.8 368.7L554.6 371.7M552.5 368.3L551.7 370M548.7 367.9L547.1 370.9M545.3 367.5L544 369.6M540.4 366.7L539 368.6M537.1 366.1L535.7 367.7M533.7 365.5L532 367.5M530.2 364.7L526.8 368.1M527.5 364.1L525.4 366.1M522.8 362.9L519.1 365.9M520.9 362.3L517.6 364.9M518.1 361.5L513.8 364.6M514.2 360.3L509.5 363.4M511.6 359.3L507.5 361.9M507.2 357.7L503.2 359.9M505 356.8L500.4 359.2M501.4 355.2L495.7 357.9M499.9 354.5L496 356.3M497.2 353.1L493.4 354.7M494.1 351.4L488.3 353.6M492.2 350.3L488.7 351.6M489.5 348.5L485.2 350M487.7 347.3L482.2 349M485.7 345.8L481.5 347M482.7 343.3L477 344.8M481.8 342.5L475 344.1M479.6 340.4L476.2 341.1M477.8 338.4L470.8 339.8M476.4 336.6L470 337.7M475.3 335.2L471.9 335.8M474 333.2L469.5 333.8M473.4 332.1L468.5 332.7M472.1 329.5L465.5 330.1M471.4 327.7L467.3 328M471.1 326.8L463.5 327.4M470.6 324.9L463.5 325.3M470.3 323L465.3 323.1M470 320.8L464.5 320.9M470 318.5L464.2 318.4M470.1 317.1L461.8 316.9M470.4 315.2L464.9 315M470.7 313.6L466.6 313.4M471.4 311.5L463.8 310.9M472.2 309.4L465.7 308.7M473 307.6L467.3 307M474 305.9L466.9 304.9M474.6 304.9L470.2 304.3M475.8 303.1L469.5 302.1M477.5 300.9L473.8 300.2M478.6 299.7L473.5 298.7M480.6 297.6L475.8 296.5M482.1 296.2L475.7 294.6M483.8 294.7L477.5 293M486.2 292.8L479.4 290.8M489 290.8L483.3 289M491 289.5L487.7 288.3M493.6 287.9L487.5 285.6M495.4 286.9L489.2 284.3M498.9 285.1L493.9 282.8M500.4 284.3L497.9 283.1M504 282.7L500.4 280.8M507.2 281.3L503.7 279.4M509 280.6L506.4 279.1M512.1 279.5L509.6 277.9M515 278.5L512.1 276.5M519.7 277L516.1 274.3M522.7 276.1L520.8 274.6M525.4 275.4L521.8 272.3M530 274.3L527 271.2M533.4 273.6L531.2 271.2M535.3 273.2L532.4 269.8M540.2 272.3L538.7 270.3M543.1 271.9L541.6 269.5M546.5 271.4L545.5 269.6M551.7 270.8L550.6 268.6M554.5 270.5L553.6 268.5M559.7 270L558.6 266.3M562.8 269.8L562.1 267.2M566.6 269.7L566.2 267.4M570.6 269.5L570.4 266.6M574.8 269.5L574.8 266.1M577.4 269.5L577.6 266M582.2 269.6L582.6 267.4M585.3 269.7L585.8 267.3M589.2 270L589.9 267.4M594.3 270.4L595.7 266.9M597.7 270.7L598.9 268.1M600.7 271L602 268.5M605.4 271.6L606.8 269.4M607.5 272L609.5 269.2M612.3 272.8L613.8 270.9M616 273.5L618.8 270.2M619.9 274.3L622.1 272.1M622.6 274.9L624.7 273M625.8 275.7L629.2 272.7M629.5 276.8L632.5 274.5M632.2 277.6L635.8 274.9M636.4 278.9L639.9 276.6M639.5 280.1L644.6 277M642.3 281.1L645.2 279.4M645.4 282.4L647.9 281.1M647.4 283.3L650 282M651.2 285.1L656.5 282.7M653.1 286.1L658.5 283.8M655.5 287.4L659.9 285.6M658 288.9L662.2 287.3M660.5 290.5L667.1 288.2M663.2 292.4L666.7 291.3M665.2 293.9L668.9 292.9M666.7 295.1L670.3 294.2M668.2 296.5L671.4 295.7M670.8 299L675.3 298.1M671.8 300.2L678.8 298.8M672.9 301.4L679.4 300.3M674.8 304L682.5 302.8M675.9 305.7L681.9 304.9M676.7 307L684.5 306M677.8 309.3L682.6 308.8M678.5 310.9L683.6 310.5M679.1 312.8L687 312.3M679.6 314.9L683.4 314.8M679.8 316.8L686.8 316.6M680 318.7L688.1 318.7" stroke="#000" stroke-width="1.3" fill="none"/>
<path d="M687.3 332.3h.1M461.9 321.8h.1M696.9 314.6h.1M550.7 370.6h.1M633.7 385.1h.1M672.1 282.8h.1M659.8 349h.1M696.4 335.1h.1M709.6 336.7h.1M479.8 296.1h.1M646.8 357.4h.1M463.9 312.8h.1M563.9 270.1h.1M453.9 322.7h.1M507.3 273h.1M711.3 334.1h.1M697.4 352.5h.1M469 321h.1M540.2 385.4h.1M477.9 360.8h.1M680.1 343.7h.1M468.1 344.5h.1M622.5 261.1h.1M680.4 305.1h.1M534.5 267.3h.1M675.6 304.4h.1M696.1 344.7h.1M489.4 367.6h.1M589.9 378.9h.1M706.8 339.6h.1M624.7 278.4h.1M644.3 268.3h.1M457.8 339.6h.1M476.3 307.2h.1M589.4 384h.1M527.2 364.8h.1M601.7 370.8h.1M516.8 274.9h.1M595.1 257.3h.1M589.1 265.7h.1M475 287.1h.1M459.5 304.7h.1M574 369.7h.1M546.9 370.8h.1M669.3 350.7h.1M538.5 268.8h.1M637.8 259.2h.1M692.4 342.1h.1M602 386.2h.1M473.8 281.2h.1M537.5 266.6h.1M635.5 359.3h.1M465.1 327.5h.1M493.7 278h.1M452.1 307.5h.1M544.3 263.3h.1M686.7 289h.1M523.3 275.1h.1M661.1 291.7h.1M672.7 358.2h.1M563.4 386.1h.1M665.1 347.8h.1M620.2 364.8h.1M674.6 327.6h.1M612.1 364.2h.1M607 364.7h.1M539.6 267.4h.1M703.5 295.6h.1M470.7 314.7h.1M509.4 280.8h.1M530.9 376.7h.1M686.2 345.1h.1M452.6 314.4h.1M465.3 304h.1M512.2 360.4h.1M466.4 317.9h.1M554.5 391.6h.1M473.1 357.7h.1M539.1 270.5h.1M605.4 378.8h.1M656.8 282.5h.1M506.5 282h.1M683.1 299.8h.1M518.6 386.4h.1M600.3 367.6h.1M646.2 279.6h.1M598.3 365.5h.1M578.7 252.9h.1M686.9 347.1h.1M559.2 259.3h.1M498.9 271.3h.1M656.4 288.1h.1M615.6 388.8h.1M678.7 351.8h.1M675.8 325.2h.1M557 375.6h.1M668.1 342.8h.1M599.7 385.3h.1M691.6 355.9h.1M702.9 321.6h.1M697.3 303.6h.1M607.4 378.9h.1M498.6 276.6h.1M608.9 261.2h.1M511.3 277.6h.1M669.8 295.3h.1M570.2 375.2h.1M685.9 357.5h.1M654.5 378.9h.1M555.7 367.7h.1M653.6 277.2h.1M523.5 275.6h.1M495.9 275.7h.1M703.7 337.3h.1M688.5 305.9h.1M572.5 262.9h.1M602.6 368.2h.1M546.7 256.5h.1M571.9 260.4h.1M453.4 309.2h.1M664.3 269.5h.1M669.3 292.6h.1M660.8 376.1h.1M500.8 277.7h.1M505.7 377.1h.1M627.9 277.7h.1M553 272.3h.1M649.1 278.8h.1M656.6 355.5h.1M510.4 275.3h.1M647.7 376.4h.1M657.1 267.1h.1M536.2 365.2h.1M698 354.1h.1M632.4 257.8h.1M561.3 264h.1M466 321.7h.1M466 305.8h.1M650.7 379.8h.1M541.9 388.1h.1M517.2 276.9h.1M656.1 273.7h.1M477.5 301.8h.1M615.2 372.1h.1M695.3 323.5h.1M594.3 253.5h.1M575.6 365.8h.1M675.2 344.2h.1M578.9 376.8h.1M494.8 278.8h.1M501.7 270.7h.1M492.2 367h.1M454.6 317.1h.1M646.6 271.6h.1M519.2 377.3h.1M497.1 373.2h.1M633.5 266.5h.1M460.5 350.1h.1M632.5 387.7h.1M625.9 268.3h.1M675.8 292h.1M690 354.5h.1M470 293.8h.1M649.2 370h.1M703.1 315.4h.1M471.6 344.9h.1M552.1 263.2h.1M535.2 274.3h.1M588.9 377.1h.1M504.2 274.9h.1" stroke="#000" stroke-width="1.7" stroke-linecap="round" fill="none"/>
<circle cx="533" cy="264" r="17.0" fill="#000"/>
<circle cx="541.3" cy="262.9" r="5.4" fill="#fff"/>
<circle cx="537.5" cy="271.1" r="5.4" fill="#fff"/>
<circle cx="528.9" cy="271.3" r="5.4" fill="#fff"/>
<circle cx="524.7" cy="264.9" r="5.4" fill="#fff"/>
<circle cx="529.4" cy="256.4" r="5.4" fill="#fff"/>
<circle cx="537.4" cy="256.9" r="5.4" fill="#fff"/>
<circle cx="533" cy="264" r="6.8" fill="#fff"/>
<circle cx="533" cy="264" r="2.7" fill="#000"/>
<circle cx="487" cy="284" r="17.0" fill="#000"/>
<circle cx="495.4" cy="284.5" r="5.4" fill="#fff"/>
<circle cx="492.1" cy="290.6" r="5.4" fill="#fff"/>
<circle cx="482.2" cy="290.9" r="5.4" fill="#fff"/>
<circle cx="478.6" cy="283.6" r="5.4" fill="#fff"/>
<circle cx="482.2" cy="277.2" r="5.4" fill="#fff"/>
<circle cx="491.9" cy="277.2" r="5.4" fill="#fff"/>
<circle cx="487" cy="284" r="6.8" fill="#fff"/>
<circle cx="487" cy="284" r="2.7" fill="#000"/>
<circle cx="458" cy="322" r="17.0" fill="#000"/>
<circle cx="466.3" cy="321" r="5.4" fill="#fff"/>
<circle cx="462" cy="329.4" r="5.4" fill="#fff"/>
<circle cx="454.2" cy="329.4" r="5.4" fill="#fff"/>
<circle cx="449.6" cy="321.9" r="5.4" fill="#fff"/>
<circle cx="454.8" cy="314.3" r="5.4" fill="#fff"/>
<circle cx="463.1" cy="315.4" r="5.4" fill="#fff"/>
<circle cx="458" cy="322" r="6.8" fill="#fff"/>
<circle cx="458" cy="322" r="2.7" fill="#000"/>
<circle cx="478" cy="354" r="17.0" fill="#000"/>
<circle cx="486.4" cy="354.2" r="5.4" fill="#fff"/>
<circle cx="482.3" cy="361.2" r="5.4" fill="#fff"/>
<circle cx="473.1" cy="360.8" r="5.4" fill="#fff"/>
<circle cx="469.6" cy="353.9" r="5.4" fill="#fff"/>
<circle cx="473.5" cy="347" r="5.4" fill="#fff"/>
<circle cx="481.4" cy="346.3" r="5.4" fill="#fff"/>
<circle cx="478" cy="354" r="6.8" fill="#fff"/>
<circle cx="478" cy="354" r="2.7" fill="#000"/>
<circle cx="557" cy="379" r="17.0" fill="#000"/>
<circle cx="565.4" cy="379.5" r="5.4" fill="#fff"/>
<circle cx="560.2" cy="386.8" r="5.4" fill="#fff"/>
<circle cx="552.5" cy="386.1" r="5.4" fill="#fff"/>
<circle cx="548.7" cy="378.4" r="5.4" fill="#fff"/>
<circle cx="553.8" cy="371.3" r="5.4" fill="#fff"/>
<circle cx="561" cy="371.7" r="5.4" fill="#fff"/>
<circle cx="557" cy="379" r="6.8" fill="#fff"/>
<circle cx="557" cy="379" r="2.7" fill="#000"/>
<circle cx="606" cy="376" r="17.0" fill="#000"/>
<circle cx="614.4" cy="376.5" r="5.4" fill="#fff"/>
<circle cx="610.5" cy="383.1" r="5.4" fill="#fff"/>
<circle cx="601.6" cy="383.1" r="5.4" fill="#fff"/>
<circle cx="597.7" cy="375.4" r="5.4" fill="#fff"/>
<circle cx="601.9" cy="368.7" r="5.4" fill="#fff"/>
<circle cx="610.6" cy="369" r="5.4" fill="#fff"/>
<circle cx="606" cy="376" r="6.8" fill="#fff"/>
<circle cx="606" cy="376" r="2.7" fill="#000"/>
<circle cx="673" cy="359" r="17.0" fill="#000"/>
<circle cx="681.3" cy="358.1" r="5.4" fill="#fff"/>
<circle cx="677" cy="366.4" r="5.4" fill="#fff"/>
<circle cx="669.7" cy="366.7" r="5.4" fill="#fff"/>
<circle cx="664.6" cy="359.5" r="5.4" fill="#fff"/>
<circle cx="668.1" cy="352.2" r="5.4" fill="#fff"/>
<circle cx="677.6" cy="352" r="5.4" fill="#fff"/>
<circle cx="673" cy="359" r="6.8" fill="#fff"/>
<circle cx="673" cy="359" r="2.7" fill="#000"/>
<circle cx="697" cy="321" r="17.0" fill="#000"/>
<circle cx="705.4" cy="321.6" r="5.4" fill="#fff"/>
<circle cx="700.4" cy="328.7" r="5.4" fill="#fff"/>
<circle cx="693.1" cy="328.4" r="5.4" fill="#fff"/>
<circle cx="688.6" cy="321.5" r="5.4" fill="#fff"/>
<circle cx="692.2" cy="314.1" r="5.4" fill="#fff"/>
<circle cx="701.2" cy="313.8" r="5.4" fill="#fff"/>
<circle cx="697" cy="321" r="6.8" fill="#fff"/>
<circle cx="697" cy="321" r="2.7" fill="#000"/>
<ellipse cx="575" cy="319.5" rx="98" ry="43" fill="#fff" stroke="#000" stroke-width="3"/>
<path d="M392 362 C410 352, 420 362, 436 352 S452 344, 468 345" fill="none" stroke="#000" stroke-width="17.5" stroke-linecap="round"/>
<ellipse cx="377" cy="367" rx="23.5" ry="23" fill="#fff" stroke="#000" stroke-width="3"/>
<path d="M392 362 C410 352, 420 362, 436 352 S452 344, 468 345" fill="none" stroke="#fff" stroke-width="11.5" stroke-linecap="round"/>
<path d="M387.5 382.1h.1M387.2 377.8h.1M378.3 378.7h.1M389.4 378.8h.1M369.2 382.4h.1M362.5 373.7h.1M364.7 371.2h.1M391.5 378.2h.1M368.4 376.1h.1M380.3 385.6h.1M380.5 385.4h.1M388.1 377.8h.1M390.8 372.4h.1M376.5 375h.1M382.3 383.6h.1M383.3 376h.1M375.7 373.3h.1M383 383.7h.1M382.7 372.6h.1M371.4 383.8h.1M367.5 373.4h.1M392.9 372.9h.1M388.7 377.6h.1M368.6 367.7h.1M386.7 380.1h.1M366.9 373.9h.1M383.6 379.7h.1M371.4 383.2h.1M366.6 382h.1M375 381.9h.1M371.8 375.9h.1M367.7 377h.1M371.8 384.5h.1M388.5 374.2h.1M378.6 384h.1M371.9 374.4h.1M364 373.2h.1M380.4 379.7h.1M363.1 373h.1M361.1 365.4h.1M369.9 384.2h.1M368.3 373.3h.1M360.3 374.2h.1M364.9 381.4h.1M362 373h.1M389.2 376.3h.1M383.8 382h.1M379.8 376.6h.1M375.9 381h.1M374.8 380.9h.1M362.2 376.6h.1M375.7 386.1h.1M366.7 380.1h.1M372.1 384.7h.1M381.2 385h.1M375.5 375.7h.1M379.2 375.2h.1M369.6 372.1h.1M374.2 383.4h.1M363.7 373.6h.1M361.8 367.9h.1M373.2 377.7h.1M376 376.6h.1M365.1 380.8h.1M378.3 383.2h.1M375.7 380.2h.1M364.2 378h.1M374.1 375.3h.1M383 379.6h.1M380.2 374.8h.1M375.8 382.6h.1M388.1 378h.1M366.9 372.4h.1M388 379.1h.1M368.2 383.2h.1M386.8 380.1h.1M381.6 378.3h.1M368.1 382.8h.1M389.5 381.1h.1M390.5 373.5h.1M370 378.9h.1M374.5 384.4h.1M371 370.9h.1M375.4 384.6h.1M369.4 372.3h.1M379.4 378.5h.1M371.3 382.5h.1M383.9 383.9h.1M361.7 372h.1M377.7 385.2h.1M377.9 381.8h.1M372.3 382.8h.1M393.8 375.5h.1M381.9 385.2h.1M394.3 374.3h.1M383.4 384.4h.1M372.8 381.6h.1M374 382.1h.1M386.8 375.8h.1M394 372.7h.1M366 371.4h.1M375.2 381.4h.1M367 373.4h.1M374.2 379.1h.1M369.8 382.8h.1M389.4 375.5h.1M370.8 379.2h.1M374.2 372.7h.1M391.8 378.5h.1M362.6 379.1h.1M363.8 375.2h.1M378.4 377.5h.1M362.9 374.8h.1M385 382.8h.1M387 379h.1M369.3 374.6h.1M363.7 373h.1M382.3 378.4h.1M381.8 379.8h.1M364.5 380.6h.1M377.5 382.1h.1M389.1 376.7h.1M382.7 381.3h.1M376.1 373.9h.1M367.3 381.5h.1M380.3 380.4h.1M384 376.9h.1M366.4 377.5h.1M374.2 382.7h.1M378.9 371.2h.1M366.2 379.8h.1M387.8 377.9h.1M370.8 370.8h.1M370 383.5h.1M367.3 380h.1M369.7 375.5h.1M376.1 381.8h.1M361.2 377.6h.1M365.1 382h.1M369.7 375.8h.1M363.3 370.5h.1M372.8 375.3h.1M371.4 383.2h.1M385.9 380.2h.1M371.2 378.8h.1M377.4 385.1h.1M374.6 380.4h.1M361.8 377.7h.1M369.9 379.1h.1M377.7 383.4h.1M358.1 370.3h.1M391.5 378.2h.1M381.8 383.4h.1M379.6 381.2h.1M379.1 380.7h.1M373 385.2h.1M371.9 385.3h.1M366.2 380.2h.1M379.5 385h.1M369.1 374.7h.1M372.6 380.3h.1M360.2 372.4h.1M373.7 383.1h.1M390.8 377.9h.1M385.8 374.2h.1M380 381.8h.1M388.8 370.8h.1M382.4 383.5h.1" stroke="#000" stroke-width="1.6" stroke-linecap="round" fill="none"/>
<path d="M399.5 368.2L394.5 367.9M399.4 369.5L396.2 369.2M399 371.5L394 370.5M398.6 373.2L395.6 372.3M398 375L394.2 373.5M397 377L393 375M396.2 378.5L393.8 377.1M395.1 380L392.9 378.4M393.9 381.5L390.7 378.8M392.8 382.6L389.6 379.5M390.6 384.5L387.8 380.9M389.8 385.1L387.4 381.6M387.8 386.3L385.4 382M385.6 387.3L383.4 382.2M383.8 388L382.9 385.2M382.6 388.3L381.8 385.2M380.9 388.7L380 383.6M378.4 389L378 383.5M376.9 389L376.9 383.9M374.7 388.9L375 386.3M373.2 388.7L374 384M370.6 388.1L372.2 383M368.9 387.5L370.8 382.8M368 387.2L369.9 382.9M366.3 386.3L368.2 382.8M364.4 385.2L366.9 381.5M362.5 383.8L365.5 380.3M361.5 383L364.7 379.7M359.6 381L362.4 378.8M359 380.1L362.1 377.8M357.7 378.3L362.5 375.5M357 377.1L361.7 374.7M356.1 375.1L360.6 373.4M355.3 372.7L360 371.4M355 371.6L358.3 370.9M354.7 369.8L357.5 369.5M354.5 368L357.1 367.8M354.5 365.9L357.8 366.1M354.8 363.4L360.4 364.3M355.1 361.9L359.4 362.9M355.6 360.1L359.4 361.4" stroke="#000" stroke-width="1.3" fill="none"/>
<path d="M698 345 C720 352, 735 330, 762 336" fill="none" stroke="#000" stroke-width="17" stroke-linecap="round"/>
<ellipse cx="785" cy="348" rx="25" ry="28" fill="#fff" stroke="#000" stroke-width="3"/>
<path d="M698 345 C720 352, 735 330, 762 336" fill="none" stroke="#fff" stroke-width="11" stroke-linecap="round"/>
<path d="M799.7 358.8h.1M784 364.9h.1M792.5 357.9h.1M791 362.5h.1M804.8 342.7h.1M781 359.6h.1M786.2 364.8h.1M777.5 358.8h.1M787.3 355.8h.1M788.3 347.5h.1M796.7 355.6h.1M797 340.5h.1M773.7 367.6h.1M799.7 360.3h.1M795 364h.1M783.8 357.3h.1M800 356.2h.1M804 348h.1M793.6 368h.1M799.1 357.8h.1M794.7 344.4h.1M798.1 364.6h.1M791.2 361.5h.1M795.6 358.8h.1M791 369.5h.1M784.6 367.2h.1M790.9 368.7h.1M795 350.7h.1M786.3 357.1h.1M795.7 342.4h.1M788.4 356.4h.1M771.1 361.5h.1M803.6 338.9h.1M786.4 354.5h.1M777.6 358.1h.1M780.2 366.7h.1M787.8 355.7h.1M791 370.7h.1M797.9 356.7h.1M783.3 365.8h.1M790.6 345h.1M795.4 364.1h.1M795.1 364.1h.1M780.7 358.5h.1M780 359.5h.1M772.9 366.6h.1M781.7 364.5h.1M800.8 352.2h.1M790.8 360.6h.1M789.4 363.3h.1M792.5 364.4h.1M782 355.2h.1M778.9 369.8h.1M791.8 365.8h.1M801 360.9h.1M805.9 348.1h.1M779.2 369.8h.1M798.9 345.9h.1M803.9 345.1h.1M779.7 363.2h.1M804.5 356.5h.1M782 366.5h.1M790.9 353.7h.1M792.4 364h.1M796.3 356.5h.1M772 365.1h.1M779.3 358.4h.1M801.6 356.3h.1M791.2 361.2h.1M801.5 358.2h.1M799.4 351.3h.1M785.6 368.2h.1M777.3 358.6h.1M786.8 365.4h.1M799.3 358.2h.1M800.7 345.5h.1M801.1 359.3h.1M785.2 363.9h.1M792.7 368.2h.1M802.6 353.5h.1M779.1 359.2h.1M803.3 358.4h.1M797.4 352h.1M775.7 355.8h.1M790.9 363h.1M770.3 361.6h.1M783.6 351.5h.1M779.1 366.5h.1M803.5 340.4h.1M799.9 355.1h.1M794.8 354.9h.1M776.1 359.4h.1M800 353.8h.1M800.6 362.8h.1M785.8 365.4h.1M791.9 368.9h.1M794.9 355.8h.1M784.6 361.1h.1M789.9 370.9h.1M799.3 360.6h.1M795.2 348.6h.1M777.1 368h.1M771.1 360.6h.1M797.7 352h.1M782 368.4h.1M780.5 360.6h.1M801.8 357.8h.1M795.8 353.9h.1M779.3 371h.1M805 355.5h.1M772.6 364.8h.1M802.8 356.6h.1M795.8 352.1h.1M776.6 358.8h.1M777.6 366.5h.1M784.6 365h.1M779.3 360h.1M794.3 360.3h.1M802.9 346.1h.1M799 349.2h.1M777.4 365.3h.1M797.1 351.9h.1M801.6 362.5h.1M788 367.7h.1M792.9 360.7h.1M791.2 359h.1M802.4 343.9h.1M795.5 347.8h.1M800 340.5h.1M788.6 361.9h.1M797.8 343.5h.1M774.2 357.3h.1M792 357.2h.1M786.4 361.3h.1M777.8 365.7h.1M792.1 345.7h.1M780.6 361.5h.1M792.1 351h.1M780.1 371h.1M790.6 346h.1M800.1 359.7h.1M786.3 369h.1M805.1 349.6h.1M783.8 360.5h.1M803.2 359.8h.1M786 365.8h.1M795.7 359.7h.1M793.8 368.8h.1M775.7 366.3h.1M795.3 366.5h.1M802.5 355.8h.1M797 363.9h.1M793.1 357.4h.1M797.7 365h.1M802.2 358.3h.1M770.4 364.4h.1M785.9 350.4h.1M792.4 364.8h.1M792.7 355.4h.1M794.5 361.9h.1M794.4 360.2h.1M804.7 348.6h.1M783 366.2h.1M782.3 365h.1M771.1 365.3h.1M788.4 360.5h.1M798.8 350.8h.1M793 360.3h.1M801.2 362.4h.1M800.7 347.7h.1M780.3 360.6h.1M797.2 362.6h.1M782.4 355.1h.1M785.3 357.2h.1M770.5 361.8h.1M803.6 341.9h.1M797.2 350h.1M794.7 354.4h.1M789.1 365.6h.1M794 351.5h.1M796.9 350.3h.1M791 361h.1M790.7 365.5h.1M799.3 352.1h.1M774.5 366.1h.1M788.7 365.7h.1M798.8 359.2h.1M778.6 370.5h.1M789.8 352.3h.1M787 354.1h.1M798.1 362.1h.1M797.8 354.9h.1M789.9 368.8h.1M782.9 363.5h.1M794.9 366.4h.1M792.7 357.6h.1M804.2 356.3h.1M805.5 344.8h.1M772.4 360.9h.1M782.9 358.2h.1M796 353.7h.1M775.8 368.4h.1M779.3 357.8h.1M780.6 362.4h.1M779.8 363.4h.1M801.4 343h.1M794.9 366.5h.1M778 362.1h.1M791.6 367.9h.1M790.5 354.9h.1M796.4 354.5h.1M780.8 363.1h.1M802.8 358h.1M790 363.9h.1M794.5 363.4h.1M798.4 363.3h.1M787.2 351.2h.1M791.4 354.7h.1" stroke="#000" stroke-width="1.6" stroke-linecap="round" fill="none"/>
<path d="M804.3 331.9L801.8 334M805 333.1L801.1 336M805.9 334.7L801.8 337.3M806.8 336.6L804.7 337.7M807.6 338.8L803 340.7M808 340.2L805.7 341M808.5 342.7L805.1 343.5M808.8 344.7L805.4 345.2M808.9 345.7L805.3 346.1M809 347.8L806.2 347.8M808.9 349.9L806.3 349.7M808.7 352.4L803.5 351.5M808.3 354.4L806 353.8M808 355.8L804 354.5M807.3 358L803.5 356.3M806.4 360.2L803.4 358.5M805.8 361.5L803.3 359.9M805.1 362.8L801.2 360M803.4 365.3L799.4 361.6M802.5 366.4L800.5 364.3M801.5 367.6L799.7 365.5M799.9 369.2L797.4 365.7M798.7 370.2L797 367.4M797.3 371.2L794.6 366.1M795.5 372.3L794 368.7M794.2 373L792.4 368.2M792.3 373.7L791.5 370.8M790.8 374.2L790 370.6M788.1 374.8L787.4 369M787.2 374.9L786.9 371.9M785.1 375L785.1 370.6M782.9 374.9L783.2 370.7M782 374.8L782.5 370.3M779.9 374.4L780.8 369.5M778.5 374L779.8 368.7M776.5 373.2L778.1 368.5M774.4 372.2L776.3 367.9M773.3 371.6L775.7 366.7M772 370.7L773.3 368.4M769.9 369L771.4 367M768.9 368L771.8 364.4M767.9 366.9L770.9 363.5M766.2 364.8L769.6 361.7M765 363L767.2 361.4M764.3 361.7L766.5 360.3M763.7 360.3L767.4 358.2M762.9 358.5L766.8 356.7" stroke="#000" stroke-width="1.3" fill="none"/>
<ellipse cx="775" cy="379" rx="6" ry="4" fill="#fff" stroke="#000" stroke-width="2"/>
<path d="M587 388 L587 432" stroke="#000" stroke-width="11.5" fill="none"/>
<path d="M587 425 C574 440,561 452,562 468 C563 484,574 491,587 491 C600 491,611 484,612 468 C613 452,600 440,587 425Z" fill="#fff" stroke="#000" stroke-width="3"/>
<path d="M587 372 L587 436" stroke="#fff" stroke-width="6" fill="none"/>
<path d="M581.1 477.5h.1M584.7 472.3h.1M579.6 476.5h.1M593.1 482.3h.1M571 474.7h.1M593.5 470.1h.1M596.8 470.2h.1M587.6 481.9h.1M594.8 478.3h.1M588.4 485.3h.1M599.1 474.7h.1M590.6 471.5h.1M584.5 476.2h.1M574.2 479.2h.1M575 472.8h.1M600.8 474.5h.1M591.5 485.4h.1M582.9 478.1h.1M575 482.1h.1M574.2 480.4h.1M604.5 474.9h.1M591.1 476.4h.1M593 472h.1M597.4 477h.1M586.4 478.1h.1M597.2 481.4h.1M589.6 480.7h.1M588.7 477.6h.1M582.3 482h.1M569.8 476h.1M588.9 481.3h.1M572.5 475.9h.1M591.9 475.8h.1M574.8 481h.1M584.1 481.9h.1M591.5 476.4h.1M595.2 477.9h.1M576.8 476.8h.1M595.8 477.3h.1M587.2 483.6h.1M583.9 473.7h.1M584.7 482.4h.1M574.5 472.4h.1M594.5 476.9h.1M590.2 482.4h.1M598.6 475.9h.1M595.2 470.1h.1M577 475.1h.1M586.6 477.2h.1M594.8 480.3h.1M594.7 470.9h.1M587.4 476.3h.1M589.1 482.2h.1M587.9 477.9h.1M589.9 477.3h.1M590.7 472.9h.1M593.7 473.4h.1M587.7 486h.1M583 474.2h.1M593.8 484.6h.1M590 469.7h.1M582.2 477.3h.1M594 470.3h.1M594.7 483h.1M578.1 478.7h.1M584.2 480.9h.1M601.8 475.5h.1M590.3 473h.1M596.1 481.8h.1M578.6 478.7h.1M591.2 475.8h.1M592 471.8h.1M589.1 479.1h.1M600.8 472.9h.1M578.7 483.7h.1M580.4 469.4h.1M581.1 466.2h.1M574.7 470.4h.1M582.2 475.1h.1M582.5 480.7h.1M592.1 483.9h.1M572.7 468.6h.1M576.4 480.2h.1M580.3 475.4h.1M593.7 471.1h.1M586.3 480.1h.1M592.8 475.7h.1M588 481.8h.1M591.5 485h.1M580.6 473.6h.1M595.6 474.8h.1M591.1 479.9h.1M575.4 480.3h.1M577.1 479.4h.1M573.8 479.2h.1M581.9 479.4h.1M599.4 479.3h.1M575.3 477.8h.1M584.8 468.4h.1M573.4 474.1h.1M580 480.6h.1M598.5 480.1h.1M574.2 481.1h.1M573.2 471.1h.1M577 478.5h.1M579.2 483.8h.1M590.6 476.7h.1M592.4 476.5h.1M597.6 477.8h.1M593 481.7h.1M581.8 485.2h.1M595.5 480h.1M589.8 481.5h.1M581.9 480.3h.1M572.7 474.9h.1M586.9 481.8h.1M578.7 481.1h.1M596.6 483.7h.1M594.2 472.3h.1M596.2 477.9h.1M575.7 474.1h.1M572.9 479.2h.1M591.7 484.4h.1M598.9 476.9h.1M594.1 477.3h.1M580.9 468.5h.1M594.4 475.4h.1M580 479.7h.1M602.9 476.9h.1M586.4 480.2h.1M601 476.9h.1M598.8 473.3h.1M582.6 485.2h.1M575.5 478.3h.1M594.8 484.1h.1M576.8 472.3h.1M580.7 470.2h.1M584.4 471.2h.1M577.2 482h.1M578.1 480.2h.1M580.4 479.5h.1M599.8 475.8h.1M588.5 485.3h.1M574.1 472.9h.1M603.9 476h.1M589 472.5h.1M586.4 478.7h.1M585.1 482.9h.1M580.5 483.4h.1M589 471.9h.1" stroke="#000" stroke-width="1.7" stroke-linecap="round" fill="none"/>
<path d="M609.4 475.3L606.2 474.1M608.7 476.9L605.3 475.4M608.2 477.7L602.9 475M607.4 479.1L602.8 476.3M606.8 479.9L604.3 478.3M606 481L601.9 478M605 482.2L600.3 478.2M603.5 483.7L600.4 480.5M602.5 484.6L600.4 482.1M601.4 485.4L597.6 480.5M600.7 485.9L599 483.4M599 486.9L596.8 483.3M597.6 487.6L595.4 483.4M596.2 488.3L593.7 482.5M594.8 488.7L593.5 484.9M593.6 489.1L592.7 486M592.1 489.5L591.1 485M590.7 489.7L589.8 484.1M589.9 489.8L589.4 485.8M588.3 490L588 485.2M586.6 490L586.7 486.4M584.7 489.9L585 486.3M584 489.8L584.5 486M582.6 489.6L583.2 486.4M581 489.3L582.1 485M579 488.7L580.2 485.3M577.8 488.2L580.4 482.2M576.7 487.8L578.1 484.8M575 486.9L576.8 484M573.9 486.3L577.5 481.1M572.8 485.5L575.3 482.2M571.6 484.6L576.1 479.5M570.6 483.8L572.9 481.5M569.8 483L572.7 480.3M568.5 481.6L572.1 478.8M567.6 480.5L572.9 476.8M566.7 479.3L569.5 477.6M566.1 478.3L570.6 475.8M565.4 477L570.9 474.5M564.7 475.5L570.9 473.2" stroke="#000" stroke-width="1.4" fill="none"/>
<path d="M568 481 C576 491,598 491,606 481" stroke="#000" stroke-width="2.5" fill="none"/>
</g>
<line x1="373" y1="128" x2="563" y2="255.8" stroke="#170bbe" stroke-width="5"/>
<polygon points="573,262.5 554.4,259.7 562.2,255.2 563.4,246.4" fill="#170bbe"/>
<line x1="826" y1="72" x2="714.3" y2="117.2" stroke="#170bbe" stroke-width="4.4"/>
<polygon points="705,121 716.1,108.4 715.2,116.9 721.7,122.3" fill="#170bbe"/>
<line x1="779" y1="192" x2="692" y2="195.6" stroke="#170bbe" stroke-width="4.4"/>
<polygon points="682,196 696.7,187.9 693,195.5 697.3,202.9" fill="#170bbe"/>
<line x1="258" y1="455.5" x2="363.5" y2="513.2" stroke="#170bbe" stroke-width="5"/>
<polygon points="374,519 355.2,517.9 362.6,512.8 362.9,503.8" fill="#170bbe"/>
<line x1="986" y1="418" x2="830.6" y2="465.1" stroke="#170bbe" stroke-width="4.4"/>
<polygon points="821,468 833.2,456.5 831.5,464.8 837.5,470.8" fill="#170bbe"/>
<line x1="986" y1="431" x2="866.7" y2="497.1" stroke="#170bbe" stroke-width="4.4"/>
<polygon points="858,502 867.5,488.2 867.6,496.7 874.8,501.3" fill="#170bbe"/>
<line x1="595.5" y1="634" x2="800.1" y2="660.7" stroke="#170bbe" stroke-width="4.6"/>
<polygon points="810,662 794.1,668 799.1,660.6 796.2,652.1" fill="#170bbe"/>
<line x1="595.5" y1="646" x2="835.4" y2="716.2" stroke="#170bbe" stroke-width="4.6"/>
<polygon points="845,719 828.4,722.5 834.4,715.9 832.9,707.1" fill="#170bbe"/>
<rect x="183.4" y="50.9" width="191.3" height="108.7" fill="none" stroke="#fdf3f5" stroke-width="3"/>
<rect x="186.3" y="53.8" width="185.5" height="102.9" fill="#fff" stroke="#7a5f69" stroke-width="1.8"/>
<text x="223" y="113.2" font-size="27" fill="#000">Ring canal</text>
<rect x="823.6" y="29.3" width="288.2" height="106.1" fill="none" stroke="#fdf3f5" stroke-width="3"/>
<rect x="826.5" y="32.2" width="282.4" height="100.3" fill="#fff" stroke="#7a5f69" stroke-width="1.8"/>
<text x="889.5" y="99.4" font-size="27" fill="#000">Madreporite</text>
<rect x="777" y="142.6" width="172" height="106.9" fill="none" stroke="#fdf3f5" stroke-width="3"/>
<rect x="779.9" y="145.5" width="166.2" height="101.1" fill="#fff" stroke="#7a5f69" stroke-width="1.8"/>
<text x="787" y="199" font-size="27" fill="#000">Stone canal</text>
<rect x="68.7" y="393.6" width="191.2" height="115.6" fill="none" stroke="#fdf3f5" stroke-width="3"/>
<rect x="71.6" y="396.5" width="185.4" height="109.8" fill="#fff" stroke="#7a5f69" stroke-width="1.8"/>
<text x="91" y="459.4" font-size="27" fill="#000">Radial canal</text>
<rect x="408.1" y="596.1" width="189.4" height="109.9" fill="none" stroke="#fdf3f5" stroke-width="3"/>
<rect x="411" y="599" width="183.6" height="104.1" fill="#fff" stroke="#7a5f69" stroke-width="1.8"/>
<text x="431.5" y="659.4" font-size="27" fill="#000">Tube feet</text>
<rect x="984.4" y="354.8" width="228.1" height="125.4" fill="none" stroke="#fdf3f5" stroke-width="3"/>
<rect x="987.3" y="357.7" width="222.3" height="119.6" fill="#fff" stroke="#7a5f69" stroke-width="1.8"/>
<text x="1010.5" y="429.7" font-size="27" fill="#000">Ampullae</text>
<g filter="url(#soft)">
<path d="M1092.3 640.3 Q1083.5 644.3 1080.7 650.9 Q1077.9 657.5 1081.3 663.9 Q1084.6 670.3 1088.6 665 Q1092.7 659.7 1092.3 650.9 Q1091.8 642 1092.1 650.9 Q1092.3 659.7 1093.6 671.3 Q1094.9 682.8 1092.5 684.5 Q1090.1 686.1 1084.1 684.8" fill="none" stroke="#111" stroke-width="2.7" stroke-linecap="round" stroke-linejoin="round"/>
<path d="M1101.1 663 Q1103.3 679.5 1106.6 681.2 Q1109.9 682.8 1112.3 679.5 Q1114.8 676.2 1115.1 670.2 Q1115.4 664.1 1116.2 671.8 Q1117 679.5 1120.1 681.2 Q1123.1 682.8 1125 679 Q1126.9 675.1 1127.2 668.5 Q1127.5 661.9 1128.9 677.3 Q1130.2 692.8 1127.8 699.6 Q1125.3 706.4 1117 708.2" fill="none" stroke="#111" stroke-width="2.7" stroke-linecap="round" stroke-linejoin="round"/>
<path d="M1154.4 642 L1133.1 732.4" fill="none" stroke="#111" stroke-width="2.7" stroke-linecap="round" stroke-linejoin="round"/>
<path d="M1177.4 687.9 Q1172.1 680 1166.9 680.8 Q1161.7 681.7 1158.4 687.2 Q1155.1 692.8 1156.2 698.8 Q1157.3 704.9 1161.7 706.5 Q1166.1 708.2 1170.5 704.9 Q1174.9 701.6 1176.4 694.4 Q1177.8 687.2 1178 699.9 Q1178.3 712.6 1174.4 720.3 Q1170.5 728 1156.2 727.6" fill="none" stroke="#111" stroke-width="2.7" stroke-linecap="round" stroke-linejoin="round"/>
<path d="M1198.5 682.2 L1182.7 712.2" fill="none" stroke="#111" stroke-width="2.7" stroke-linecap="round" stroke-linejoin="round"/>
<path d="M1182.7 712.2 L1208.7 705.1" fill="none" stroke="#111" stroke-width="2.7" stroke-linecap="round" stroke-linejoin="round"/>
<path d="M1199.2 682.2 L1195.9 736.8" fill="none" stroke="#111" stroke-width="2.7" stroke-linecap="round" stroke-linejoin="round"/>
</g>
<text x="987.5" y="767.3" font-size="16.6" font-weight="bold" fill="#333" textLength="210" lengthAdjust="spacingAndGlyphs">Livingstone, © BIODIDAC</text>
</svg>
</body></html>
